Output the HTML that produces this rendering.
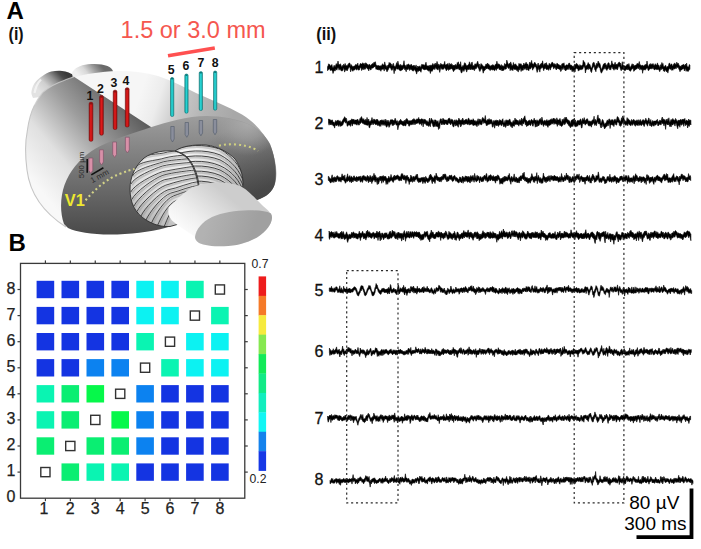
<!DOCTYPE html>
<html><head><meta charset="utf-8"><style>
html,body{margin:0;padding:0;background:#fff;}
body{width:701px;height:549px;overflow:hidden;}
svg{display:block;}
text{font-family:"Liberation Sans",sans-serif;}
.tl{font-size:16px;fill:#111;stroke:#111;stroke-width:0.3px;}
.tk{font-size:16px;fill:#222;stroke:#222;stroke-width:0.25px;}
.cbt{font-size:12.2px;fill:#222;}
.sb{font-size:19px;fill:#000;}
.lbl{font-size:24px;font-weight:bold;fill:#000;}
.lbl2{font-size:18px;font-weight:bold;fill:#111;}
</style></head><body>
<svg width="701" height="549" viewBox="0 0 701 549">
<rect width="701" height="549" fill="#fff"/>
<defs>
<linearGradient id="gOlfL" gradientUnits="userSpaceOnUse" x1="40" y1="92" x2="62" y2="70">
 <stop offset="0" stop-color="#e2e2e2"/><stop offset="0.3" stop-color="#d0d0d0"/><stop offset="0.6" stop-color="#929292"/><stop offset="0.85" stop-color="#4a4a4a"/><stop offset="1" stop-color="#3a3a3a"/>
</linearGradient>
<linearGradient id="gOlfR" gradientUnits="userSpaceOnUse" x1="80" y1="77" x2="98" y2="62">
 <stop offset="0" stop-color="#f0f0f0"/><stop offset="0.35" stop-color="#d8d8d8"/><stop offset="0.7" stop-color="#9a9a9a"/><stop offset="1" stop-color="#6a6a6a"/>
</linearGradient>
<linearGradient id="gRight" gradientUnits="userSpaceOnUse" x1="145" y1="80" x2="235" y2="110">
 <stop offset="0" stop-color="#f6f6f6"/><stop offset="0.2" stop-color="#ececec"/><stop offset="0.45" stop-color="#c6c6c6"/><stop offset="0.7" stop-color="#b4b4b4"/><stop offset="1" stop-color="#a8a8a8"/>
</linearGradient>
<linearGradient id="gLeft" gradientUnits="userSpaceOnUse" x1="40" y1="190" x2="135" y2="110">
 <stop offset="0" stop-color="#f8f8f8"/><stop offset="0.3" stop-color="#e0e0e0"/><stop offset="0.62" stop-color="#9c9c9c"/><stop offset="1" stop-color="#5c5c5c"/>
</linearGradient>
<linearGradient id="gRim" gradientUnits="userSpaceOnUse" x1="26" y1="150" x2="44" y2="150">
 <stop offset="0" stop-color="#d0d0d0"/><stop offset="1" stop-color="#d0d0d0" stop-opacity="0"/>
</linearGradient>
<linearGradient id="gBand" gradientUnits="userSpaceOnUse" x1="150" y1="118" x2="150" y2="234">
 <stop offset="0" stop-color="#9c9c9c"/><stop offset="0.3" stop-color="#828282"/><stop offset="1" stop-color="#4a4a4a"/>
</linearGradient>
<linearGradient id="gBandR" gradientUnits="userSpaceOnUse" x1="232" y1="128" x2="262" y2="190">
 <stop offset="0" stop-color="#3e3e3e" stop-opacity="0"/><stop offset="0.5" stop-color="#3e3e3e" stop-opacity="0.35"/><stop offset="1" stop-color="#3a3a3a" stop-opacity="0.7"/>
</linearGradient>
<radialGradient id="gSoft" gradientUnits="userSpaceOnUse" cx="248" cy="122" r="34">
 <stop offset="0" stop-color="#acacac" stop-opacity="0.95"/><stop offset="0.5" stop-color="#a4a4a4" stop-opacity="0.6"/><stop offset="1" stop-color="#9c9c9c" stop-opacity="0"/>
</radialGradient>
<linearGradient id="gCer" gradientUnits="userSpaceOnUse" x1="180" y1="146" x2="140" y2="225">
 <stop offset="0" stop-color="#f6f6f6"/><stop offset="0.6" stop-color="#dedede"/><stop offset="1" stop-color="#b0b0b0"/>
</linearGradient>
<linearGradient id="gCerR" gradientUnits="userSpaceOnUse" x1="195" y1="144" x2="240" y2="190">
 <stop offset="0" stop-color="#f4f4f4"/><stop offset="0.6" stop-color="#dadada"/><stop offset="1" stop-color="#bdbdbd"/>
</linearGradient>
<linearGradient id="gStem" gradientUnits="userSpaceOnUse" x1="178" y1="226" x2="214" y2="184">
 <stop offset="0" stop-color="#fbfbfb"/><stop offset="0.35" stop-color="#eeeeee"/><stop offset="1" stop-color="#cdcdcd"/>
</linearGradient>
<linearGradient id="gCap" gradientUnits="userSpaceOnUse" x1="205" y1="228" x2="250" y2="242">
 <stop offset="0" stop-color="#b2b2b2"/><stop offset="1" stop-color="#a0a0a0"/>
</linearGradient>
<clipPath id="cL"><path d="M175,151 C165,150 152,152 144,158 C135,166 130,177 130,189 C130,203 135,213 146,220 C154,225 162,227 170,226.5 L186,222 L199,186 C198,175 194,165 188,158 C184,154 180,152 175,151 Z"/></clipPath>
<clipPath id="cR"><path d="M175,151 C182,146 194,144.5 206,145 C218,146.5 228,152 235,159 C240,166 243,175 243,183 C243,190 240,193 236,193 L199,193 C198,180 195,168 188,159 C184,155 180,152.5 175,151 Z"/></clipPath>
</defs>
<path d="M33,98 C31.5,95 31,93 31.6,90.8 C32.5,87 33.5,84.5 35.5,82.1 C37.5,79.5 40,77.5 42.5,76 C45.5,74 48,72.5 51.2,71.6 C54,70.9 57,70.6 60,70.7 C63,70.8 65,71.3 67,72 C69.5,72.8 71,73.5 72.2,74.2 C73.5,75 74.3,76 74.8,77 L60,85 L40,97 Z" fill="url(#gOlfL)"/><path d="M34.5,93 C35.5,87.5 37.5,83 41,79.5" fill="none" stroke="#fafafa" stroke-width="2.2" opacity="0.7"/><path d="M72,73 C74,68 80,65.2 88,64.2 C96,63.5 103,64 107.5,66 C111,67.5 113,69.5 113,72 L92,80 L73,79 Z" fill="url(#gOlfR)"/><path d="M74,77.5 C85,74 100,71.8 118,71 C132,70.8 145,72.5 158,76 C172,80.5 184,87 196,93 C212,100 228,106.5 242,114.5 C256,123 265,134 271,148 C276,160 278,174 275,184 C272,192 265,197 256,200 L246,202 L150,210 L120,140 Z" fill="url(#gRight)"/><path d="M74,76.8 L151,127 L150,140 L92,205 L66,227 C44,213 30,194 27,170 C25,155 25.5,140 27.3,131 C28.5,122 31,112 34.6,105 C37,100 39.5,96.5 42.5,92.6 C48,87.5 55,83.5 64,80.4 C68,79 71,77.8 74,76.8 Z" fill="url(#gLeft)"/><path d="M34.6,105 C37,100 39.5,96.5 42.5,92.6 C48,87.5 55,83.5 64,80.4 C68,79 71,77.8 74,76.8" fill="none" stroke="#d0d0d0" stroke-width="1.1" opacity="0.8"/><path d="M34.6,105 C31,112 28.5,122 27.3,131 C25.5,140 25,155 27,170 C30,194 44,213 66,227" fill="none" stroke="#c6c6c6" stroke-width="1.1"/><path d="M64,224 C60,213 60,198 64.5,185 C70,170.5 79,160 91,151.5 C103,143.5 120,137.5 138,131.5 C155,126 172,120 192,117 C212,114.5 232,117 248,124 C259,129 266,136 270,144 C275,156 277,172 275,183 C273,192 266,197 257,200 L246,202 L165,228 C150,232 130,234.5 110,234.5 C92,234.5 76,232 68,228 Z" fill="url(#gBand)"/><path d="M192,117 C212,114.5 232,117 248,124 C259,129 266,136 270,144 C275,156 277,172 275,183 C273,192 266,197 257,200 L246,202 L200,200 Z" fill="url(#gBandR)"/><path d="M180,119 C200,115.5 226,115 248,124 C259,129 266,136 270,144 C275,156 276,166 276,172 L230,160 L190,140 Z" fill="url(#gSoft)"/><path d="M175,151 C165,150 152,152 144,158 C135,166 130,177 130,189 C130,203 135,213 146,220 C154,225 162,227 170,226.5 L186,222 L199,186 C198,175 194,165 188,158 C184,154 180,152 175,151 Z" fill="url(#gCer)"/><path d="M175,151 C182,146 194,144.5 206,145 C218,146.5 228,152 235,159 C240,166 243,175 243,183 C243,190 240,193 236,193 L199,193 C198,180 195,168 188,159 C184,155 180,152.5 175,151 Z" fill="url(#gCerR)"/><g clip-path="url(#cL)" fill="none" stroke="#9a9a9a" stroke-width="2.0" opacity="0.45"><path d="M140.0,160.0 C143.0,153.0 158.4,155.1 167.4,152.1 C177.4,149.7 189.0,151.0 201.0,150.0" transform="translate(1.2,1.4)"/><path d="M135.5,168.0 C138.5,161.0 156.0,160.9 165.0,157.9 C175.0,155.3 189.0,154.9 201.0,153.9" transform="translate(1.2,1.4)"/><path d="M132.5,176.0 C135.5,169.0 154.3,164.8 163.3,161.8 C173.3,159.5 189.0,158.8 201.0,157.8" transform="translate(1.2,1.4)"/><path d="M131.0,184.0 C134.0,177.0 153.5,169.0 162.5,166.0 C172.5,163.5 189.0,162.7 201.0,161.7" transform="translate(1.2,1.4)"/><path d="M130.8,192.0 C133.8,185.0 153.4,174.7 162.4,171.7 C172.4,169.8 189.0,166.6 201.0,165.6" transform="translate(1.2,1.4)"/><path d="M131.8,199.5 C134.8,192.5 153.9,178.3 162.9,175.3 C172.9,172.4 189.0,170.5 201.0,169.5" transform="translate(1.2,1.4)"/><path d="M134.0,206.0 C137.0,199.0 155.2,182.8 164.2,179.8 C174.2,177.9 189.0,174.4 201.0,173.4" transform="translate(1.2,1.4)"/><path d="M137.0,211.5 C140.0,204.5 156.8,188.2 165.8,185.2 C175.8,181.8 189.0,178.3 201.0,177.3" transform="translate(1.2,1.4)"/><path d="M141.0,216.0 C144.0,209.0 159.0,192.8 168.0,189.8 C178.0,188.2 189.0,182.2 201.0,181.2" transform="translate(1.2,1.4)"/><path d="M146.0,220.0 C149.0,213.0 161.8,196.1 170.8,193.1 C180.8,190.8 189.0,186.1 201.0,185.1" transform="translate(1.2,1.4)"/><path d="M151.5,223.0 C154.5,216.0 164.8,198.8 173.8,195.8 C183.8,192.3 189.0,190.0 201.0,189.0" transform="translate(1.2,1.4)"/><path d="M157.5,225.5 C160.5,218.5 168.1,203.1 177.1,200.1 C187.1,196.7 189.0,193.9 201.0,192.9" transform="translate(1.2,1.4)"/><path d="M164.0,227.0 C167.0,220.0 171.7,205.8 180.7,202.8 C190.7,199.8 189.0,197.8 201.0,196.8" transform="translate(1.2,1.4)"/></g><g clip-path="url(#cL)" fill="none" stroke="#2e2e2e" stroke-width="0.85"><path d="M140.0,160.0 C143.0,153.0 158.4,155.1 167.4,152.1 C177.4,149.7 189.0,151.0 201.0,150.0"/><path d="M135.5,168.0 C138.5,161.0 156.0,160.9 165.0,157.9 C175.0,155.3 189.0,154.9 201.0,153.9"/><path d="M132.5,176.0 C135.5,169.0 154.3,164.8 163.3,161.8 C173.3,159.5 189.0,158.8 201.0,157.8"/><path d="M131.0,184.0 C134.0,177.0 153.5,169.0 162.5,166.0 C172.5,163.5 189.0,162.7 201.0,161.7"/><path d="M130.8,192.0 C133.8,185.0 153.4,174.7 162.4,171.7 C172.4,169.8 189.0,166.6 201.0,165.6"/><path d="M131.8,199.5 C134.8,192.5 153.9,178.3 162.9,175.3 C172.9,172.4 189.0,170.5 201.0,169.5"/><path d="M134.0,206.0 C137.0,199.0 155.2,182.8 164.2,179.8 C174.2,177.9 189.0,174.4 201.0,173.4"/><path d="M137.0,211.5 C140.0,204.5 156.8,188.2 165.8,185.2 C175.8,181.8 189.0,178.3 201.0,177.3"/><path d="M141.0,216.0 C144.0,209.0 159.0,192.8 168.0,189.8 C178.0,188.2 189.0,182.2 201.0,181.2"/><path d="M146.0,220.0 C149.0,213.0 161.8,196.1 170.8,193.1 C180.8,190.8 189.0,186.1 201.0,185.1"/><path d="M151.5,223.0 C154.5,216.0 164.8,198.8 173.8,195.8 C183.8,192.3 189.0,190.0 201.0,189.0"/><path d="M157.5,225.5 C160.5,218.5 168.1,203.1 177.1,200.1 C187.1,196.7 189.0,193.9 201.0,192.9"/><path d="M164.0,227.0 C167.0,220.0 171.7,205.8 180.7,202.8 C190.7,199.8 189.0,197.8 201.0,196.8"/></g><g clip-path="url(#cR)" fill="none" stroke="#9a9a9a" stroke-width="2.0" opacity="0.45"><path d="M172,151.0 C185,144.1 205,144.0 220,149.1 C232,156.0 240,166.0 244,178.0" transform="translate(-0.8,1.6)"/><path d="M172,156.0 C185,149.9 205,149.0 220,154.9 C232,161.0 240,171.0 244,183.0" transform="translate(-0.8,1.6)"/><path d="M172,161.0 C185,154.9 205,154.0 220,159.9 C232,166.0 240,176.0 244,188.0" transform="translate(-0.8,1.6)"/><path d="M172,166.0 C185,160.7 205,159.0 220,165.7 C232,171.0 240,181.0 244,193.0" transform="translate(-0.8,1.6)"/><path d="M172,171.0 C185,165.0 205,164.0 220,170.0 C232,176.0 240,186.0 244,198.0" transform="translate(-0.8,1.6)"/><path d="M172,176.0 C185,170.3 205,169.0 220,175.3 C232,181.0 240,191.0 244,203.0" transform="translate(-0.8,1.6)"/><path d="M172,181.0 C185,175.0 205,174.0 220,180.0 C232,186.0 240,196.0 244,208.0" transform="translate(-0.8,1.6)"/><path d="M172,186.0 C185,180.3 205,179.0 220,185.3 C232,191.0 240,201.0 244,213.0" transform="translate(-0.8,1.6)"/><path d="M172,191.0 C185,184.9 205,184.0 220,189.9 C232,196.0 240,206.0 244,218.0" transform="translate(-0.8,1.6)"/><path d="M172,196.0 C185,189.6 205,189.0 220,194.6 C232,201.0 240,211.0 244,223.0" transform="translate(-0.8,1.6)"/></g><g clip-path="url(#cR)" fill="none" stroke="#2e2e2e" stroke-width="0.9"><path d="M172,151.0 C185,144.1 205,144.0 220,149.1 C232,156.0 240,166.0 244,178.0"/><path d="M172,156.0 C185,149.9 205,149.0 220,154.9 C232,161.0 240,171.0 244,183.0"/><path d="M172,161.0 C185,154.9 205,154.0 220,159.9 C232,166.0 240,176.0 244,188.0"/><path d="M172,166.0 C185,160.7 205,159.0 220,165.7 C232,171.0 240,181.0 244,193.0"/><path d="M172,171.0 C185,165.0 205,164.0 220,170.0 C232,176.0 240,186.0 244,198.0"/><path d="M172,176.0 C185,170.3 205,169.0 220,175.3 C232,181.0 240,191.0 244,203.0"/><path d="M172,181.0 C185,175.0 205,174.0 220,180.0 C232,186.0 240,196.0 244,208.0"/><path d="M172,186.0 C185,180.3 205,179.0 220,185.3 C232,191.0 240,201.0 244,213.0"/><path d="M172,191.0 C185,184.9 205,184.0 220,189.9 C232,196.0 240,206.0 244,218.0"/><path d="M172,196.0 C185,189.6 205,189.0 220,194.6 C232,201.0 240,211.0 244,223.0"/></g><path d="M175,151 C165,150 152,152 144,158 C135,166 130,177 130,189 C130,203 135,213 146,220 C154,225 162,227 170,226.5 L186,222 L199,186 C198,175 194,165 188,158 C184,154 180,152 175,151 Z" fill="none" stroke="#2e2e2e" stroke-width="0.9"/><path d="M175,151 C182,146 194,144.5 206,145 C218,146.5 228,152 235,159 C240,166 243,175 243,183 C243,190 240,193 236,193 L199,193 C198,180 195,168 188,159 C184,155 180,152.5 175,151 Z" fill="none" stroke="#2e2e2e" stroke-width="0.9"/><path d="M169,207 C174,202 181,195.5 188,190 C196,185 206,183 216,182.6 C226,182.3 234,183.5 240,186 C247,189 255,198 262,205 C267,209.5 272,213 272,218 C271.5,224 267,231 257,237.5 C247,243 236,246 224,246.3 C214,246.5 204,245.5 199,243 C196,241 195,238 194,236 C188,232 178,226 172,220.5 C168.5,216.5 167.5,211 169,207 Z" fill="url(#gStem)"/><path d="M195,237 C196,229 202,222 212,217 C222,212.5 236,210.5 248,210.3 C258,210.2 266,211 271,213.5 C271.8,215 272,216.5 272,218 C271.5,224 267,231 257,237.5 C247,243 236,246 224,246.3 C214,246.5 204,245.5 199,243 C196,241 195,239 195,237 Z" fill="url(#gCap)"/><!-- yellow dotted V1 line -->
<path d="M85.6,200.2 C95,189 108,178 120,173.7 C126,171.5 130,170 134.5,169" fill="none" stroke="#d4d488" stroke-width="2.1" stroke-dasharray="2,2.8"/>
<path d="M219,145.6 C228,143.6 238,144 246,146 C251,147.2 255,148.6 258,151" fill="none" stroke="#cfd080" stroke-width="2.1" stroke-dasharray="2,3"/>
<text x="64.8" y="205.6" font-family="Liberation Sans" font-weight="bold" font-size="16.3" fill="#eee830">V1</text>
<!-- electrodes red -->
<defs><linearGradient id="gRed" x1="0" y1="0" x2="1" y2="0"><stop offset="0" stop-color="#9c0c0c"/><stop offset="0.45" stop-color="#e21c1c"/><stop offset="1" stop-color="#a80e0e"/></linearGradient><linearGradient id="gCy" x1="0" y1="0" x2="1" y2="0"><stop offset="0" stop-color="#139c9c"/><stop offset="0.45" stop-color="#2ad8d8"/><stop offset="1" stop-color="#16a8a8"/></linearGradient></defs><g stroke="#6a0808" stroke-width="0.5"><rect x="89.1" y="102.3" width="3.8" height="39.0" rx="1.6" fill="url(#gRed)"/><rect x="89.5" y="102.6" width="3.0" height="2.0" rx="1.0" fill="#8a1212" stroke="none"/><rect x="99.6" y="95.4" width="3.8" height="39.8" rx="1.6" fill="url(#gRed)"/><rect x="100.0" y="95.7" width="3.0" height="2.0" rx="1.0" fill="#8a1212" stroke="none"/><rect x="113.2" y="90.2" width="3.8" height="39.3" rx="1.6" fill="url(#gRed)"/><rect x="113.60000000000001" y="90.5" width="3.0" height="2.0" rx="1.0" fill="#8a1212" stroke="none"/><rect x="125.3" y="87.7" width="3.8" height="39.3" rx="1.6" fill="url(#gRed)"/><rect x="125.7" y="88.0" width="3.0" height="2.0" rx="1.0" fill="#8a1212" stroke="none"/></g>
<!-- electrode tips pink -->
<g stroke="#80566a" stroke-width="0.7" fill="#d890a8">
 <path d="M88.8,158 h4 v12.3 l-2,3.2 l-2,-3.2 Z"/>
 <path d="M99.6,149.8 h3.8 v12.2 l-1.9,3 l-1.9,-3 Z"/>
 <path d="M112.7,142 h3.8 v12.4 l-1.9,3 l-1.9,-3 Z"/>
 <path d="M125.4,137.2 h3.9 v12.8 l-1.95,3 l-1.95,-3 Z"/>
</g>
<!-- electrodes cyan -->
<g stroke="#0a6a6a" stroke-width="0.55"><rect x="170.5" y="77.5" width="3.3" height="39.0" rx="1.5" fill="url(#gCy)"/><rect x="170.9" y="77.8" width="2.5" height="1.6" rx="0.8" fill="#0c7878" stroke="none"/><rect x="184.8" y="74" width="3.3" height="39.2" rx="1.5" fill="url(#gCy)"/><rect x="185.20000000000002" y="74.3" width="2.5" height="1.6" rx="0.8" fill="#0c7878" stroke="none"/><rect x="199.2" y="71.6" width="3.3" height="38.9" rx="1.5" fill="url(#gCy)"/><rect x="199.6" y="71.89999999999999" width="2.5" height="1.6" rx="0.8" fill="#0c7878" stroke="none"/><rect x="213.5" y="71" width="3.3" height="39.2" rx="1.5" fill="url(#gCy)"/><rect x="213.9" y="71.3" width="2.5" height="1.6" rx="0.8" fill="#0c7878" stroke="none"/></g>
<g stroke="#505a6a" stroke-width="0.6" fill="#8a8e9c">
 <path d="M170.8,126.5 h3.4 v12.5 l-1.7,3 l-1.7,-3 Z"/>
 <path d="M185.1,122.5 h3.4 v12 l-1.7,2.8 l-1.7,-2.8 Z"/>
 <path d="M199.2,120.5 h3.4 v12.5 l-1.7,2.8 l-1.7,-2.8 Z"/>
 <path d="M213.3,119.5 h3.4 v12.5 l-1.7,2.8 l-1.7,-2.8 Z"/>
</g>
<!-- electrode numbers -->
<g font-family="Liberation Sans" font-weight="bold" font-size="12.3" fill="#111" text-anchor="middle">
 <text x="89.8" y="100">1</text><text x="100.5" y="92.5">2</text><text x="114" y="87.2">3</text><text x="125.8" y="84.7">4</text>
 <text x="171.2" y="73.9">5</text><text x="185.8" y="70.1">6</text><text x="200.9" y="67.4">7</text><text x="215.1" y="66.9">8</text>
</g>
<!-- scale bar -->
<path d="M87.2,159 V172.7" stroke="#111" stroke-width="1.6"/>
<path d="M91.3,174.9 L103.4,167.7" stroke="#111" stroke-width="1.6"/>
<text transform="translate(84.4,178.2) rotate(-90)" font-family="Liberation Sans" font-size="7.9" fill="#2a2a2a">500 µm</text>
<text transform="translate(92.2,183.2) rotate(-29)" font-family="Liberation Sans" font-size="7.9" fill="#2a2a2a">1 mm</text>
<!-- red bar + text -->
<path d="M168,55.8 L214.8,48" stroke="#ff5050" stroke-width="3.7"/>
<text x="120.6" y="37.6" font-family="Liberation Sans" font-size="23.5" fill="#f5574f">1.5 or 3.0 mm</text>

<text x="6.5" y="19" class="lbl">A</text>
<text x="8.6" y="40" class="lbl2" textLength="15" lengthAdjust="spacingAndGlyphs">(i)</text>
<text x="8.5" y="251" class="lbl">B</text>
<rect x="36.6" y="280.8" width="17.6" height="17.4" fill="#1434e2"/><rect x="61.5" y="280.8" width="17.6" height="17.4" fill="#1434e2"/><rect x="86.5" y="280.8" width="17.6" height="17.4" fill="#1434e2"/><rect x="111.4" y="280.8" width="17.6" height="17.4" fill="#1434e2"/><rect x="136.3" y="280.8" width="17.6" height="17.4" fill="#0cf2f2"/><rect x="161.2" y="280.8" width="17.6" height="17.4" fill="#0cf2f2"/><rect x="186.1" y="280.8" width="17.6" height="17.4" fill="#0af4b2"/><rect x="215.3" y="284.9" width="9.2" height="9.2" fill="none" stroke="#333" stroke-width="1.4"/><rect x="36.6" y="306.9" width="17.6" height="17.4" fill="#1434e2"/><rect x="61.5" y="306.9" width="17.6" height="17.4" fill="#1434e2"/><rect x="86.5" y="306.9" width="17.6" height="17.4" fill="#1434e2"/><rect x="111.4" y="306.9" width="17.6" height="17.4" fill="#1434e2"/><rect x="136.3" y="306.9" width="17.6" height="17.4" fill="#0cf2f2"/><rect x="161.2" y="306.9" width="17.6" height="17.4" fill="#0cf2f2"/><rect x="190.3" y="311.0" width="9.2" height="9.2" fill="none" stroke="#333" stroke-width="1.4"/><rect x="211.1" y="306.9" width="17.6" height="17.4" fill="#0af4b2"/><rect x="36.6" y="333.0" width="17.6" height="17.4" fill="#1434e2"/><rect x="61.5" y="333.0" width="17.6" height="17.4" fill="#1434e2"/><rect x="86.5" y="333.0" width="17.6" height="17.4" fill="#1434e2"/><rect x="111.4" y="333.0" width="17.6" height="17.4" fill="#1434e2"/><rect x="136.3" y="333.0" width="17.6" height="17.4" fill="#0af4b2"/><rect x="165.4" y="337.1" width="9.2" height="9.2" fill="none" stroke="#333" stroke-width="1.4"/><rect x="186.1" y="333.0" width="17.6" height="17.4" fill="#0cf2f2"/><rect x="211.1" y="333.0" width="17.6" height="17.4" fill="#0cf2f2"/><rect x="36.6" y="359.1" width="17.6" height="17.4" fill="#1434e2"/><rect x="61.5" y="359.1" width="17.6" height="17.4" fill="#1434e2"/><rect x="86.5" y="359.1" width="17.6" height="17.4" fill="#0c82f0"/><rect x="111.4" y="359.1" width="17.6" height="17.4" fill="#0c82f0"/><rect x="140.5" y="363.1" width="9.2" height="9.2" fill="none" stroke="#333" stroke-width="1.4"/><rect x="161.2" y="359.1" width="17.6" height="17.4" fill="#0af4b2"/><rect x="186.1" y="359.1" width="17.6" height="17.4" fill="#0cf2f2"/><rect x="211.1" y="359.1" width="17.6" height="17.4" fill="#0cf2f2"/><rect x="36.6" y="385.1" width="17.6" height="17.4" fill="#0af4b2"/><rect x="61.5" y="385.1" width="17.6" height="17.4" fill="#0aee72"/><rect x="86.5" y="385.1" width="17.6" height="17.4" fill="#06f84a"/><rect x="115.6" y="389.2" width="9.2" height="9.2" fill="none" stroke="#333" stroke-width="1.4"/><rect x="136.3" y="385.1" width="17.6" height="17.4" fill="#0c82f0"/><rect x="161.2" y="385.1" width="17.6" height="17.4" fill="#1434e2"/><rect x="186.1" y="385.1" width="17.6" height="17.4" fill="#1434e2"/><rect x="211.1" y="385.1" width="17.6" height="17.4" fill="#1434e2"/><rect x="36.6" y="411.2" width="17.6" height="17.4" fill="#0af4b2"/><rect x="61.5" y="411.2" width="17.6" height="17.4" fill="#0aee72"/><rect x="90.7" y="415.3" width="9.2" height="9.2" fill="none" stroke="#333" stroke-width="1.4"/><rect x="111.4" y="411.2" width="17.6" height="17.4" fill="#06f84a"/><rect x="136.3" y="411.2" width="17.6" height="17.4" fill="#0c82f0"/><rect x="161.2" y="411.2" width="17.6" height="17.4" fill="#1434e2"/><rect x="186.1" y="411.2" width="17.6" height="17.4" fill="#1434e2"/><rect x="211.1" y="411.2" width="17.6" height="17.4" fill="#1434e2"/><rect x="36.6" y="437.3" width="17.6" height="17.4" fill="#0aee72"/><rect x="65.7" y="441.4" width="9.2" height="9.2" fill="none" stroke="#333" stroke-width="1.4"/><rect x="86.5" y="437.3" width="17.6" height="17.4" fill="#0aee72"/><rect x="111.4" y="437.3" width="17.6" height="17.4" fill="#0aee72"/><rect x="136.3" y="437.3" width="17.6" height="17.4" fill="#0c82f0"/><rect x="161.2" y="437.3" width="17.6" height="17.4" fill="#1434e2"/><rect x="186.1" y="437.3" width="17.6" height="17.4" fill="#1434e2"/><rect x="211.1" y="437.3" width="17.6" height="17.4" fill="#1434e2"/><rect x="40.8" y="467.5" width="9.2" height="9.2" fill="none" stroke="#333" stroke-width="1.4"/><rect x="61.5" y="463.4" width="17.6" height="17.4" fill="#0aee72"/><rect x="86.5" y="463.4" width="17.6" height="17.4" fill="#0af4b2"/><rect x="111.4" y="463.4" width="17.6" height="17.4" fill="#0af4b2"/><rect x="136.3" y="463.4" width="17.6" height="17.4" fill="#1434e2"/><rect x="161.2" y="463.4" width="17.6" height="17.4" fill="#1434e2"/><rect x="186.1" y="463.4" width="17.6" height="17.4" fill="#1434e2"/><rect x="211.1" y="463.4" width="17.6" height="17.4" fill="#1434e2"/><rect x="20.5" y="263.4" width="224.28000000000003" height="234.8" fill="none" stroke="#3a3a3a" stroke-width="1.3"/><line x1="20.5" y1="472.1" x2="17.5" y2="472.1" stroke="#3a3a3a" stroke-width="1.2"/><line x1="244.78000000000003" y1="472.1" x2="247.78000000000003" y2="472.1" stroke="#3a3a3a" stroke-width="1.2"/><line x1="45.42" y1="498.2" x2="45.42" y2="501.2" stroke="#3a3a3a" stroke-width="1.2"/><line x1="45.42" y1="263.4" x2="45.42" y2="260.4" stroke="#3a3a3a" stroke-width="1.2"/><line x1="20.5" y1="446.0" x2="17.5" y2="446.0" stroke="#3a3a3a" stroke-width="1.2"/><line x1="244.78000000000003" y1="446.0" x2="247.78000000000003" y2="446.0" stroke="#3a3a3a" stroke-width="1.2"/><line x1="70.34" y1="498.2" x2="70.34" y2="501.2" stroke="#3a3a3a" stroke-width="1.2"/><line x1="70.34" y1="263.4" x2="70.34" y2="260.4" stroke="#3a3a3a" stroke-width="1.2"/><line x1="20.5" y1="419.9" x2="17.5" y2="419.9" stroke="#3a3a3a" stroke-width="1.2"/><line x1="244.78000000000003" y1="419.9" x2="247.78000000000003" y2="419.9" stroke="#3a3a3a" stroke-width="1.2"/><line x1="95.26" y1="498.2" x2="95.26" y2="501.2" stroke="#3a3a3a" stroke-width="1.2"/><line x1="95.26" y1="263.4" x2="95.26" y2="260.4" stroke="#3a3a3a" stroke-width="1.2"/><line x1="20.5" y1="393.8" x2="17.5" y2="393.8" stroke="#3a3a3a" stroke-width="1.2"/><line x1="244.78000000000003" y1="393.8" x2="247.78000000000003" y2="393.8" stroke="#3a3a3a" stroke-width="1.2"/><line x1="120.18" y1="498.2" x2="120.18" y2="501.2" stroke="#3a3a3a" stroke-width="1.2"/><line x1="120.18" y1="263.4" x2="120.18" y2="260.4" stroke="#3a3a3a" stroke-width="1.2"/><line x1="20.5" y1="367.8" x2="17.5" y2="367.8" stroke="#3a3a3a" stroke-width="1.2"/><line x1="244.78000000000003" y1="367.8" x2="247.78000000000003" y2="367.8" stroke="#3a3a3a" stroke-width="1.2"/><line x1="145.10000000000002" y1="498.2" x2="145.10000000000002" y2="501.2" stroke="#3a3a3a" stroke-width="1.2"/><line x1="145.10000000000002" y1="263.4" x2="145.10000000000002" y2="260.4" stroke="#3a3a3a" stroke-width="1.2"/><line x1="20.5" y1="341.7" x2="17.5" y2="341.7" stroke="#3a3a3a" stroke-width="1.2"/><line x1="244.78000000000003" y1="341.7" x2="247.78000000000003" y2="341.7" stroke="#3a3a3a" stroke-width="1.2"/><line x1="170.02" y1="498.2" x2="170.02" y2="501.2" stroke="#3a3a3a" stroke-width="1.2"/><line x1="170.02" y1="263.4" x2="170.02" y2="260.4" stroke="#3a3a3a" stroke-width="1.2"/><line x1="20.5" y1="315.6" x2="17.5" y2="315.6" stroke="#3a3a3a" stroke-width="1.2"/><line x1="244.78000000000003" y1="315.6" x2="247.78000000000003" y2="315.6" stroke="#3a3a3a" stroke-width="1.2"/><line x1="194.94" y1="498.2" x2="194.94" y2="501.2" stroke="#3a3a3a" stroke-width="1.2"/><line x1="194.94" y1="263.4" x2="194.94" y2="260.4" stroke="#3a3a3a" stroke-width="1.2"/><line x1="20.5" y1="289.5" x2="17.5" y2="289.5" stroke="#3a3a3a" stroke-width="1.2"/><line x1="244.78000000000003" y1="289.5" x2="247.78000000000003" y2="289.5" stroke="#3a3a3a" stroke-width="1.2"/><line x1="219.86" y1="498.2" x2="219.86" y2="501.2" stroke="#3a3a3a" stroke-width="1.2"/><line x1="219.86" y1="263.4" x2="219.86" y2="260.4" stroke="#3a3a3a" stroke-width="1.2"/><text x="15.3" y="502.2" text-anchor="end" class="tk">0</text><text x="15.3" y="476.1" text-anchor="end" class="tk">1</text><text x="15.3" y="450.0" text-anchor="end" class="tk">2</text><text x="15.3" y="423.9" text-anchor="end" class="tk">3</text><text x="15.3" y="397.8" text-anchor="end" class="tk">4</text><text x="15.3" y="371.8" text-anchor="end" class="tk">5</text><text x="15.3" y="345.7" text-anchor="end" class="tk">6</text><text x="15.3" y="319.6" text-anchor="end" class="tk">7</text><text x="15.3" y="293.5" text-anchor="end" class="tk">8</text><text x="43.9" y="514.2" text-anchor="middle" class="tk">1</text><text x="70.3" y="514.2" text-anchor="middle" class="tk">2</text><text x="95.3" y="514.2" text-anchor="middle" class="tk">3</text><text x="120.2" y="514.2" text-anchor="middle" class="tk">4</text><text x="145.1" y="514.2" text-anchor="middle" class="tk">5</text><text x="170.0" y="514.2" text-anchor="middle" class="tk">6</text><text x="194.9" y="514.2" text-anchor="middle" class="tk">7</text><text x="219.9" y="514.2" text-anchor="middle" class="tk">8</text><rect x="258.6" y="276.40" width="7.5" height="19.72" fill="#ee1c1c"/><rect x="258.6" y="295.82" width="7.5" height="19.72" fill="#f57a28"/><rect x="258.6" y="315.24" width="7.5" height="19.72" fill="#f6ea3e"/><rect x="258.6" y="334.66" width="7.5" height="19.72" fill="#86e850"/><rect x="258.6" y="354.08" width="7.5" height="19.72" fill="#12ea58"/><rect x="258.6" y="373.50" width="7.5" height="19.72" fill="#12ea86"/><rect x="258.6" y="392.92" width="7.5" height="19.72" fill="#12eebe"/><rect x="258.6" y="412.34" width="7.5" height="19.72" fill="#12f6f4"/><rect x="258.6" y="431.76" width="7.5" height="19.72" fill="#1482ec"/><rect x="258.6" y="451.18" width="7.5" height="19.72" fill="#1638e6"/><text x="260" y="268.2" text-anchor="middle" class="cbt">0.7</text><text x="258" y="482.8" text-anchor="middle" class="cbt">0.2</text>
<path d="M327.5,66.8 328.1,65.7 328.6,63.8 329.2,64.4 329.7,64.4 330.3,66.1 330.8,65.9 331.4,65.0 331.9,64.5 332.5,67.6 333.0,67.4 333.6,66.9 334.1,65.2 334.7,66.2 335.2,67.0 335.8,64.9 336.3,63.6 336.9,65.1 337.4,64.3 338.0,61.0 338.5,63.6 339.1,65.2 339.6,64.5 340.2,63.8 340.7,64.2 341.3,66.3 341.8,67.0 342.4,65.4 342.9,66.4 343.5,64.4 344.0,64.3 344.6,66.2 345.1,63.4 345.7,65.5 346.2,65.8 346.8,65.5 347.3,65.7 347.9,64.4 348.4,64.2 349.0,63.1 349.5,63.1 350.1,63.6 350.6,66.7 351.2,64.6 351.7,65.4 352.3,65.9 352.8,66.9 353.4,66.3 353.9,66.3 354.5,66.1 355.0,65.7 355.6,64.4 356.1,65.3 356.7,64.6 357.2,65.0 357.8,63.1 358.3,66.0 358.9,65.9 359.4,65.5 360.0,64.3 360.5,63.3 361.1,64.0 361.6,64.1 362.2,64.1 362.7,62.7 363.3,64.0 363.8,63.5 364.4,63.4 364.9,65.2 365.5,63.0 366.0,62.7 366.6,64.0 367.1,63.9 367.7,64.8 368.2,65.5 368.8,64.5 369.3,64.4 369.9,64.6 370.4,65.9 371.0,65.0 371.5,64.4 372.1,64.0 372.6,63.5 373.2,64.2 373.7,62.5 374.3,62.2 374.8,62.9 375.4,61.7 375.9,64.5 376.5,65.3 377.0,65.4 377.6,65.8 378.1,65.3 378.7,65.7 379.2,65.9 379.8,65.9 380.3,65.6 380.9,66.3 381.4,66.1 382.0,64.8 382.5,63.7 383.1,64.9 383.6,65.0 384.2,64.8 384.7,61.9 385.3,64.4 385.8,65.5 386.4,65.8 386.9,67.4 387.5,65.6 388.0,65.1 388.6,65.0 389.1,62.4 389.7,63.6 390.2,62.8 390.8,63.8 391.3,64.1 391.9,65.7 392.4,66.0 393.0,63.5 393.5,63.6 394.1,66.9 394.6,66.1 395.2,66.5 395.7,66.1 396.3,63.9 396.8,62.6 397.4,64.7 397.9,61.1 398.5,64.2 399.0,64.4 399.6,65.4 400.1,65.4 400.7,64.3 401.2,65.4 401.8,65.5 402.3,66.0 402.9,65.0 403.4,64.2 404.0,60.7 404.5,64.8 405.1,65.1 405.6,66.0 406.2,66.8 406.7,64.7 407.3,64.8 407.8,64.6 408.4,64.1 408.9,64.3 409.5,65.2 410.0,65.0 410.6,65.5 411.1,64.1 411.7,65.1 412.2,66.1 412.8,65.9 413.3,66.1 413.9,65.0 414.4,65.5 415.0,66.7 415.5,66.5 416.1,64.9 416.6,67.5 417.2,67.7 417.7,66.0 418.3,67.0 418.8,66.5 419.4,66.4 419.9,65.8 420.5,67.6 421.0,67.0 421.6,64.4 422.1,64.4 422.7,64.7 423.2,65.1 423.8,64.6 424.3,65.2 424.9,65.2 425.4,64.0 426.0,62.2 426.5,64.9 427.1,66.1 427.6,65.9 428.2,65.8 428.7,66.2 429.3,65.2 429.8,66.8 430.4,65.3 430.9,65.1 431.5,65.6 432.0,65.2 432.6,63.5 433.1,65.4 433.7,64.5 434.2,63.6 434.8,65.3 435.3,64.4 435.9,63.0 436.4,65.3 437.0,61.4 437.5,63.3 438.1,65.5 438.6,64.2 439.2,64.4 439.7,65.9 440.3,64.8 440.8,63.3 441.4,64.5 441.9,64.2 442.5,65.2 443.0,64.3 443.6,65.1 444.1,64.1 444.7,61.4 445.2,64.9 445.8,65.0 446.3,64.3 446.9,65.2 447.4,63.6 448.0,64.2 448.5,66.6 449.1,62.9 449.6,65.4 450.2,64.3 450.7,64.3 451.3,63.5 451.8,65.0 452.4,64.6 452.9,66.2 453.5,65.0 454.0,66.1 454.6,65.1 455.1,65.5 455.7,64.3 456.2,65.5 456.8,65.2 457.3,62.5 457.9,64.0 458.4,61.8 459.0,65.6 459.5,64.2 460.1,65.2 460.6,61.7 461.2,66.3 461.7,67.1 462.3,67.1 462.8,65.5 463.4,66.2 463.9,64.9 464.5,62.9 465.0,62.7 465.6,63.8 466.1,65.0 466.7,65.9 467.2,65.4 467.8,65.5 468.3,64.6 468.9,64.4 469.4,61.8 470.0,63.4 470.5,64.9 471.1,64.5 471.6,62.5 472.2,62.1 472.7,65.4 473.3,65.6 473.8,65.8 474.4,65.5 474.9,63.8 475.5,63.9 476.0,64.6 476.6,64.0 477.1,62.6 477.7,61.2 478.2,63.3 478.8,64.7 479.3,64.0 479.9,67.7 480.4,65.8 481.0,63.6 481.5,64.2 482.1,64.6 482.6,65.5 483.2,66.2 483.7,66.3 484.3,66.6 484.8,66.8 485.4,65.4 485.9,64.1 486.5,64.3 487.0,64.7 487.6,63.0 488.1,65.3 488.7,63.9 489.2,65.0 489.8,66.0 490.3,66.3 490.9,65.4 491.4,65.4 492.0,65.8 492.5,64.6 493.1,65.5 493.6,64.8 494.2,66.3 494.7,66.1 495.3,64.4 495.8,64.3 496.4,63.8 496.9,61.2 497.5,64.1 498.0,64.5 498.6,63.8 499.1,64.0 499.7,64.7 500.2,65.8 500.8,66.0 501.3,64.5 501.9,66.4 502.4,65.7 503.0,65.8 503.5,66.2 504.1,66.5 504.6,63.4 505.2,65.0 505.7,64.2 506.3,63.6 506.8,60.1 507.4,62.1 507.9,63.3 508.5,64.7 509.0,63.7 509.6,63.4 510.1,64.1 510.7,61.9 511.2,63.5 511.8,65.6 512.3,65.8 512.9,65.0 513.4,62.5 514.0,65.5 514.5,64.4 515.1,64.6 515.6,63.8 516.2,64.9 516.7,65.6 517.3,65.9 517.8,66.6 518.4,66.7 518.9,63.4 519.5,64.0 520.0,64.3 520.6,63.9 521.1,63.7 521.7,65.3 522.2,65.6 522.8,65.4 523.3,64.7 523.9,63.0 524.4,64.8 525.0,64.2 525.5,63.8 526.1,62.2 526.6,63.4 527.2,64.0 527.7,64.1 528.3,65.4 528.8,66.7 529.4,63.1 529.9,62.0 530.5,64.1 531.0,63.1 531.6,60.4 532.1,63.4 532.7,63.8 533.2,64.5 533.8,63.7 534.3,62.7 534.9,62.3 535.4,63.3 536.0,63.9 536.5,64.7 537.1,67.0 537.6,64.5 538.2,63.0 538.7,65.5 539.3,65.3 539.8,66.0 540.4,63.8 540.9,64.9 541.5,63.1 542.0,63.6 542.6,60.8 543.1,63.8 543.7,66.1 544.2,64.3 544.8,63.6 545.3,63.1 545.9,65.0 546.4,62.6 547.0,65.6 547.5,64.9 548.1,65.2 548.6,65.9 549.2,63.2 549.7,64.0 550.3,65.3 550.8,63.9 551.4,63.3 551.9,62.3 552.5,62.3 553.0,63.0 553.6,64.2 554.1,64.5 554.7,63.6 555.2,63.9 555.8,65.2 556.3,65.4 556.9,63.2 557.4,63.4 558.0,64.3 558.5,64.5 559.0,65.2 559.6,64.9 560.1,65.7 560.7,65.4 561.2,66.7 561.8,64.0 562.3,63.4 562.9,64.0 563.4,63.8 564.0,62.8 564.5,66.0 565.1,65.7 565.6,65.9 566.2,64.9 566.7,64.8 567.3,65.0 567.8,65.3 568.4,64.2 568.9,63.1 569.5,63.1 570.0,65.1 570.6,65.1 571.1,65.5 571.7,65.1 572.2,66.8 572.8,66.0 573.3,66.6 573.9,66.6 574.4,65.0 575.0,63.9 575.5,65.3 576.1,64.3 576.6,63.3 577.2,63.9 577.7,64.4 578.3,66.1 578.8,65.5 579.4,66.8 579.9,64.6 580.5,65.3 581.0,65.9 581.6,65.7 582.1,65.1 582.7,65.3 583.2,60.3 583.8,61.3 584.3,62.3 584.9,62.5 585.4,66.1 586.0,66.3 586.5,65.5 587.1,65.0 587.6,64.2 588.2,62.5 588.7,64.0 589.3,64.0 589.8,64.5 590.4,66.1 590.9,67.6 591.5,68.3 592.0,66.7 592.6,64.0 593.1,62.6 593.7,62.4 594.2,62.6 594.8,65.3 595.3,65.4 595.9,66.8 596.4,63.3 597.0,64.2 597.5,64.1 598.1,61.0 598.6,62.1 599.2,63.4 599.7,63.2 600.3,64.9 600.8,68.1 601.4,69.8 601.9,68.2 602.5,67.0 603.0,65.3 603.6,64.0 604.1,63.6 604.7,63.6 605.2,62.9 605.8,64.9 606.3,64.8 606.9,66.5 607.4,64.2 608.0,63.2 608.5,62.6 609.1,63.2 609.6,65.4 610.2,65.1 610.7,66.0 611.3,63.8 611.8,60.8 612.4,63.8 612.9,63.7 613.5,64.4 614.0,64.4 614.6,64.0 615.1,62.2 615.7,64.6 616.2,64.7 616.8,64.1 617.3,65.0 617.9,63.6 618.4,62.9 619.0,61.9 619.5,62.2 620.1,63.6 620.6,63.0 621.2,66.4 621.7,65.4 622.3,61.7 622.8,64.8 623.4,64.9 623.9,66.1 624.5,65.7 625.0,66.1 625.6,66.2 626.1,65.7 626.7,64.8 627.2,64.3 627.8,64.4 628.3,65.6 628.9,63.5 629.4,65.6 630.0,67.2 630.5,67.3 631.1,66.0 631.6,65.0 632.2,63.7 632.7,65.5 633.3,64.2 633.8,65.8 634.4,65.8 634.9,65.3 635.5,65.3 636.0,64.9 636.6,64.7 637.1,63.3 637.7,63.8 638.2,64.2 638.8,63.2 639.3,61.5 639.9,65.3 640.4,64.8 641.0,65.4 641.5,65.8 642.1,65.1 642.6,65.4 643.2,65.6 643.7,66.2 644.3,65.5 644.8,64.8 645.4,65.3 645.9,64.0 646.5,64.8 647.0,61.0 647.6,64.5 648.1,66.0 648.7,67.1 649.2,64.6 649.8,64.4 650.3,63.5 650.9,64.8 651.4,64.4 652.0,63.7 652.5,64.7 653.1,63.6 653.6,65.2 654.2,65.2 654.7,65.2 655.3,63.7 655.8,64.7 656.4,65.2 656.9,64.6 657.5,62.9 658.0,65.5 658.6,65.0 659.1,65.6 659.7,68.0 660.2,66.6 660.8,64.6 661.3,65.8 661.9,62.5 662.4,64.7 663.0,63.5 663.5,66.8 664.1,66.4 664.6,66.7 665.2,65.4 665.7,65.3 666.3,66.9 666.8,67.8 667.4,66.4 667.9,67.1 668.5,65.6 669.0,63.6 669.6,62.9 670.1,64.6 670.7,65.2 671.2,64.0 671.8,63.9 672.3,66.0 672.9,66.1 673.4,64.5 674.0,63.8 674.5,62.9 675.1,64.9 675.6,63.7 676.2,65.1 676.7,62.2 677.3,63.1 677.8,63.9 678.4,63.3 678.9,65.0 679.5,65.7 680.0,66.5 680.6,66.0 681.1,66.5 681.7,65.2 682.2,65.0 682.8,65.0 683.3,64.4 683.9,64.5 684.4,65.7 685.0,65.0 685.5,64.0 686.1,66.2 686.6,63.1 687.2,66.5 687.7,66.8 688.3,67.3 688.8,66.3 689.4,64.5 689.9,65.1 689.9,69.4 689.4,69.5 688.8,70.5 688.3,71.4 687.7,71.3 687.2,71.0 686.6,69.2 686.1,71.4 685.5,68.5 685.0,69.1 684.4,71.0 683.9,69.0 683.3,68.4 682.8,69.1 682.2,69.1 681.7,69.9 681.1,70.1 680.6,70.0 680.0,71.8 679.5,69.9 678.9,69.4 678.4,67.2 677.8,67.8 677.3,67.3 676.7,66.8 676.2,68.7 675.6,67.8 675.1,68.8 674.5,69.1 674.0,68.4 673.4,69.1 672.9,70.3 672.3,69.7 671.8,70.4 671.2,68.2 670.7,69.4 670.1,68.9 669.6,68.1 669.0,69.5 668.5,69.9 667.9,73.1 667.4,71.2 666.8,71.9 666.3,71.4 665.7,70.1 665.2,69.8 664.6,71.7 664.1,70.5 663.5,71.2 663.0,68.4 662.4,69.1 661.9,68.2 661.3,69.7 660.8,68.4 660.2,70.6 659.7,71.7 659.1,70.2 658.6,69.3 658.0,69.6 657.5,69.5 656.9,69.5 656.4,69.5 655.8,69.0 655.3,69.2 654.7,69.9 654.2,69.7 653.6,69.0 653.1,67.2 652.5,68.6 652.0,68.5 651.4,68.8 650.9,68.9 650.3,68.5 649.8,69.1 649.2,69.6 648.7,70.6 648.1,70.4 647.6,68.3 647.0,67.8 646.5,68.6 645.9,69.1 645.4,70.1 644.8,69.7 644.3,69.7 643.7,70.2 643.2,69.3 642.6,73.3 642.1,68.8 641.5,69.6 641.0,69.4 640.4,68.4 639.9,70.1 639.3,67.3 638.8,67.8 638.2,68.9 637.7,67.6 637.1,68.4 636.6,68.9 636.0,69.4 635.5,69.5 634.9,70.3 634.4,70.4 633.8,71.4 633.3,68.5 632.7,69.0 632.2,68.3 631.6,69.4 631.1,70.2 630.5,71.3 630.0,71.0 629.4,70.5 628.9,69.5 628.3,69.6 627.8,68.5 627.2,70.0 626.7,69.0 626.1,69.3 625.6,70.4 625.0,70.3 624.5,70.8 623.9,70.0 623.4,69.2 622.8,69.3 622.3,69.4 621.7,69.5 621.2,70.8 620.6,69.5 620.1,67.7 619.5,66.2 619.0,66.6 618.4,66.5 617.9,68.6 617.3,69.9 616.8,68.6 616.2,69.2 615.7,68.6 615.1,69.5 614.6,67.8 614.0,70.3 613.5,68.9 612.9,69.0 612.4,67.5 611.8,67.0 611.3,67.8 610.7,70.1 610.2,69.1 609.6,69.7 609.1,67.8 608.5,67.6 608.0,69.2 607.4,68.8 606.9,70.5 606.3,69.5 605.8,69.2 605.2,67.4 604.7,67.7 604.1,69.2 603.6,68.4 603.0,70.3 602.5,70.9 601.9,72.3 601.4,73.2 600.8,72.0 600.3,69.9 599.7,67.1 599.2,67.8 598.6,66.6 598.1,65.6 597.5,67.7 597.0,68.6 596.4,68.5 595.9,71.8 595.3,69.9 594.8,69.8 594.2,66.6 593.7,66.4 593.1,67.4 592.6,68.0 592.0,70.4 591.5,72.6 590.9,71.7 590.4,69.8 589.8,68.4 589.3,68.7 588.7,68.0 588.2,69.7 587.6,68.8 587.1,69.1 586.5,69.6 586.0,70.2 585.4,73.0 584.9,68.2 584.3,66.4 583.8,66.5 583.2,67.7 582.7,69.3 582.1,68.9 581.6,69.3 581.0,70.1 580.5,69.6 579.9,68.9 579.4,70.2 578.8,70.2 578.3,71.1 577.7,68.2 577.2,69.1 576.6,67.8 576.1,68.6 575.5,69.3 575.0,71.9 574.4,69.5 573.9,71.5 573.3,70.8 572.8,70.0 572.2,71.8 571.7,70.2 571.1,69.1 570.6,70.1 570.0,68.8 569.5,67.2 568.9,69.7 568.4,67.6 567.8,69.1 567.3,69.4 566.7,69.7 566.2,70.0 565.6,71.0 565.1,70.2 564.5,69.6 564.0,67.6 563.4,68.0 562.9,69.7 562.3,67.9 561.8,68.6 561.2,71.1 560.7,71.6 560.1,69.3 559.6,69.4 559.0,69.1 558.5,68.7 558.0,68.9 557.4,68.2 556.9,68.4 556.3,70.0 555.8,69.0 555.2,67.6 554.7,67.2 554.1,68.5 553.6,68.8 553.0,66.9 552.5,66.2 551.9,66.7 551.4,67.3 550.8,68.4 550.3,70.1 549.7,68.5 549.2,68.1 548.6,70.4 548.1,68.7 547.5,69.2 547.0,69.8 546.4,69.4 545.9,68.9 545.3,67.5 544.8,68.7 544.2,68.7 543.7,70.7 543.1,68.5 542.6,67.0 542.0,67.8 541.5,67.8 540.9,68.8 540.4,68.4 539.8,72.1 539.3,68.9 538.7,69.5 538.2,67.5 537.6,71.5 537.1,72.4 536.5,69.7 536.0,67.5 535.4,66.8 534.9,67.0 534.3,66.5 533.8,68.5 533.2,68.1 532.7,70.2 532.1,67.5 531.6,67.3 531.0,67.8 530.5,68.9 529.9,69.1 529.4,68.0 528.8,70.8 528.3,70.0 527.7,70.0 527.2,67.8 526.6,70.2 526.1,68.0 525.5,68.3 525.0,69.6 524.4,68.9 523.9,67.8 523.3,70.1 522.8,70.6 522.2,69.9 521.7,69.4 521.1,71.5 520.6,69.1 520.0,68.0 519.5,70.1 518.9,69.3 518.4,71.8 517.8,71.5 517.3,69.8 516.7,70.5 516.2,69.6 515.6,69.5 515.1,69.2 514.5,69.3 514.0,69.4 513.4,68.1 512.9,70.7 512.3,69.7 511.8,70.2 511.2,68.8 510.7,69.2 510.1,70.7 509.6,67.6 509.0,67.9 508.5,68.6 507.9,67.7 507.4,66.8 506.8,66.7 506.3,68.9 505.7,69.3 505.2,69.1 504.6,68.2 504.1,70.1 503.5,70.1 503.0,70.9 502.4,70.1 501.9,70.9 501.3,68.7 500.8,69.7 500.2,69.9 499.7,69.5 499.1,69.5 498.6,67.4 498.0,68.4 497.5,68.5 496.9,68.5 496.4,70.4 495.8,68.8 495.3,69.4 494.7,70.7 494.2,70.5 493.6,70.0 493.1,69.4 492.5,69.8 492.0,70.2 491.4,69.1 490.9,69.6 490.3,70.5 489.8,70.3 489.2,68.7 488.7,69.0 488.1,69.1 487.6,67.4 487.0,69.0 486.5,68.7 485.9,68.0 485.4,69.8 484.8,70.4 484.3,70.6 483.7,71.5 483.2,73.2 482.6,70.1 482.1,68.6 481.5,68.7 481.0,69.1 480.4,70.4 479.9,71.5 479.3,70.5 478.8,68.7 478.2,67.9 477.7,66.4 477.1,66.4 476.6,68.3 476.0,68.7 475.5,68.8 474.9,68.8 474.4,70.7 473.8,69.9 473.3,69.1 472.7,69.1 472.2,69.9 471.6,69.1 471.1,68.7 470.5,69.9 470.0,68.6 469.4,69.2 468.9,69.8 468.3,69.3 467.8,69.6 467.2,69.8 466.7,72.1 466.1,70.1 465.6,69.1 465.0,69.1 464.5,69.7 463.9,71.5 463.4,70.1 462.8,69.8 462.3,71.5 461.7,73.0 461.2,72.8 460.6,70.4 460.1,69.3 459.5,69.9 459.0,69.7 458.4,67.8 457.9,69.3 457.3,68.3 456.8,69.1 456.2,69.1 455.7,68.0 455.1,69.9 454.6,69.9 454.0,70.7 453.5,71.7 452.9,70.3 452.4,69.0 451.8,69.0 451.3,68.2 450.7,68.9 450.2,69.4 449.6,69.5 449.1,69.1 448.5,70.5 448.0,68.5 447.4,69.5 446.9,69.7 446.3,70.9 445.8,69.3 445.2,68.8 444.7,67.5 444.1,68.2 443.6,69.3 443.0,68.8 442.5,69.3 441.9,69.4 441.4,68.8 440.8,67.2 440.3,69.7 439.7,72.4 439.2,69.0 438.6,67.7 438.1,70.1 437.5,69.7 437.0,68.8 436.4,69.1 435.9,67.2 435.3,68.2 434.8,69.7 434.2,68.2 433.7,68.9 433.1,69.5 432.6,70.4 432.0,71.4 431.5,70.9 430.9,70.7 430.4,73.5 429.8,71.3 429.3,69.7 428.7,71.3 428.2,70.2 427.6,70.2 427.1,70.0 426.5,69.0 426.0,69.4 425.4,69.4 424.9,69.9 424.3,69.8 423.8,69.1 423.2,69.6 422.7,68.5 422.1,68.6 421.6,68.9 421.0,72.3 420.5,71.1 419.9,71.0 419.4,70.4 418.8,70.7 418.3,71.5 417.7,70.4 417.2,71.9 416.6,74.1 416.1,72.1 415.5,70.9 415.0,70.4 414.4,69.6 413.9,70.1 413.3,71.2 412.8,70.6 412.2,70.7 411.7,69.5 411.1,69.5 410.6,69.6 410.0,68.6 409.5,70.5 408.9,68.8 408.4,68.5 407.8,69.8 407.3,69.0 406.7,69.1 406.2,71.8 405.6,70.3 405.1,69.2 404.5,69.5 404.0,67.4 403.4,68.6 402.9,69.4 402.3,69.5 401.8,70.4 401.2,69.9 400.7,70.6 400.1,71.0 399.6,69.7 399.0,70.0 398.5,68.2 397.9,69.2 397.4,69.0 396.8,68.9 396.3,67.6 395.7,70.3 395.2,70.8 394.6,70.3 394.1,73.7 393.5,69.1 393.0,68.1 392.4,69.7 391.9,70.4 391.3,69.7 390.8,68.4 390.2,67.7 389.7,67.5 389.1,67.5 388.6,69.3 388.0,69.7 387.5,71.2 386.9,71.8 386.4,70.0 385.8,69.3 385.3,69.0 384.7,68.6 384.2,71.1 383.6,68.4 383.1,69.6 382.5,69.1 382.0,69.6 381.4,69.5 380.9,71.3 380.3,69.8 379.8,69.8 379.2,69.9 378.7,70.1 378.1,69.0 377.6,70.0 377.0,69.1 376.5,69.1 375.9,69.3 375.4,66.3 374.8,66.9 374.3,66.7 373.7,67.1 373.2,68.0 372.6,68.1 372.1,68.3 371.5,68.1 371.0,70.0 370.4,69.8 369.9,69.1 369.3,68.0 368.8,70.9 368.2,69.3 367.7,68.9 367.1,68.5 366.6,68.1 366.0,67.1 365.5,68.9 364.9,69.4 364.4,68.5 363.8,69.8 363.3,68.3 362.7,69.5 362.2,68.5 361.6,70.6 361.1,68.1 360.5,67.4 360.0,68.0 359.4,69.9 358.9,70.2 358.3,70.0 357.8,68.6 357.2,69.4 356.7,70.2 356.1,69.0 355.6,68.8 355.0,69.5 354.5,70.1 353.9,70.2 353.4,70.0 352.8,71.3 352.3,70.8 351.7,69.2 351.2,69.3 350.6,71.9 350.1,67.9 349.5,66.7 349.0,67.5 348.4,68.3 347.9,69.3 347.3,70.8 346.8,69.6 346.2,70.6 345.7,69.2 345.1,70.8 344.6,72.1 344.0,68.6 343.5,68.1 342.9,70.4 342.4,70.8 341.8,70.8 341.3,71.0 340.7,69.9 340.2,69.0 339.6,68.7 339.1,70.2 338.5,68.2 338.0,67.6 337.4,68.5 336.9,70.2 336.3,69.3 335.8,69.0 335.2,71.0 334.7,70.7 334.1,70.4 333.6,71.8 333.0,73.5 332.5,71.2 331.9,70.5 331.4,69.9 330.8,70.2 330.3,70.6 329.7,68.4 329.2,69.2 328.6,69.6 328.1,69.8 327.5,70.7Z" fill="#000" stroke="#000" stroke-width="0.6" stroke-linejoin="round"/><text x="323.5" y="72.9" text-anchor="end" class="tl">1</text><path d="M328.5,118.9 329.1,120.0 329.6,119.3 330.2,119.6 330.7,120.6 331.3,120.1 331.8,121.2 332.4,119.8 332.9,121.7 333.5,122.3 334.0,121.9 334.6,123.7 335.1,121.9 335.7,120.4 336.2,121.6 336.8,121.0 337.3,120.3 337.9,120.6 338.4,120.3 339.0,121.6 339.5,121.0 340.1,120.6 340.6,122.2 341.2,122.3 341.7,121.7 342.3,120.8 342.8,120.1 343.4,118.7 343.9,119.0 344.5,116.8 345.0,117.1 345.6,119.0 346.1,118.0 346.7,119.4 347.2,122.2 347.8,121.7 348.3,120.9 348.9,121.0 349.4,121.6 350.0,120.0 350.5,120.6 351.1,120.2 351.6,118.9 352.2,119.0 352.7,119.8 353.3,119.9 353.8,119.0 354.4,120.4 354.9,120.0 355.5,120.1 356.0,119.9 356.6,120.0 357.1,120.1 357.7,119.0 358.2,120.3 358.8,121.2 359.3,121.3 359.9,118.6 360.4,119.1 361.0,117.2 361.5,116.6 362.1,118.2 362.6,119.2 363.2,119.5 363.7,118.6 364.3,121.2 364.8,119.8 365.4,120.7 365.9,119.1 366.5,121.3 367.0,117.4 367.6,120.0 368.1,121.0 368.7,119.0 369.2,121.3 369.8,121.6 370.3,121.2 370.9,120.7 371.4,119.7 372.0,117.5 372.5,119.7 373.1,120.7 373.6,119.2 374.2,119.3 374.7,119.5 375.3,119.8 375.8,120.9 376.4,119.2 376.9,120.5 377.5,119.3 378.0,120.1 378.6,121.8 379.1,121.1 379.7,122.2 380.2,120.0 380.8,121.1 381.3,120.2 381.9,119.8 382.4,119.9 383.0,121.2 383.5,120.8 384.1,119.5 384.6,121.5 385.2,121.0 385.7,119.2 386.3,120.2 386.8,121.6 387.4,121.6 387.9,120.0 388.5,120.9 389.0,122.2 389.6,122.6 390.1,120.2 390.7,119.8 391.2,119.5 391.8,120.1 392.3,119.7 392.9,119.9 393.4,120.8 394.0,120.2 394.5,120.4 395.1,118.2 395.6,119.3 396.2,121.2 396.7,121.2 397.3,120.6 397.8,122.7 398.4,122.6 398.9,120.9 399.5,120.8 400.0,120.4 400.6,119.2 401.1,120.6 401.7,120.8 402.2,121.3 402.8,121.5 403.3,120.9 403.9,121.9 404.4,120.2 405.0,121.7 405.5,119.8 406.1,119.5 406.6,118.6 407.2,118.8 407.7,119.9 408.3,120.5 408.8,121.6 409.4,120.6 409.9,121.1 410.5,120.8 411.0,120.5 411.6,120.7 412.1,119.9 412.7,119.6 413.2,119.5 413.8,118.6 414.3,118.9 414.9,119.7 415.4,120.2 416.0,119.9 416.5,119.2 417.1,118.7 417.6,119.2 418.2,118.7 418.7,117.4 419.3,119.6 419.8,119.0 420.4,119.7 420.9,119.2 421.5,118.8 422.0,119.1 422.6,119.1 423.1,120.6 423.7,119.3 424.2,119.7 424.8,119.1 425.3,119.7 425.9,120.2 426.4,121.4 427.0,120.6 427.5,121.8 428.1,122.0 428.6,122.3 429.2,119.5 429.7,118.0 430.3,121.5 430.8,120.4 431.4,118.2 431.9,119.2 432.5,120.7 433.0,119.8 433.6,121.6 434.1,121.9 434.7,119.8 435.2,119.9 435.8,120.0 436.3,120.9 436.9,121.4 437.4,121.7 438.0,120.6 438.5,123.7 439.1,123.1 439.6,121.4 440.2,119.2 440.7,118.8 441.3,118.9 441.8,121.3 442.4,120.2 442.9,118.2 443.5,118.8 444.0,119.6 444.6,120.1 445.1,120.0 445.7,120.1 446.2,120.0 446.8,120.3 447.3,120.4 447.9,119.5 448.4,118.6 449.0,118.2 449.5,118.3 450.1,118.7 450.6,120.8 451.2,120.0 451.7,119.2 452.3,119.6 452.8,119.9 453.4,121.2 453.9,122.6 454.5,119.9 455.0,120.1 455.6,121.7 456.1,119.6 456.7,120.6 457.2,120.9 457.8,120.6 458.3,119.9 458.9,118.1 459.4,119.6 460.0,119.8 460.5,120.2 461.1,121.1 461.6,119.8 462.2,119.8 462.7,118.0 463.3,119.6 463.8,120.9 464.4,120.3 464.9,120.3 465.5,119.5 466.0,119.6 466.6,119.2 467.1,120.6 467.7,120.2 468.2,118.4 468.8,118.1 469.3,120.7 469.9,119.6 470.4,120.7 471.0,119.8 471.5,120.1 472.1,120.0 472.6,120.5 473.2,118.7 473.7,119.8 474.3,120.6 474.8,121.1 475.4,121.7 475.9,120.4 476.5,121.8 477.0,121.6 477.6,120.2 478.1,118.7 478.7,122.1 479.2,118.9 479.8,120.7 480.3,119.3 480.9,121.0 481.4,121.0 482.0,118.9 482.5,117.6 483.1,117.7 483.6,118.8 484.2,119.5 484.7,118.7 485.3,115.5 485.8,119.4 486.4,121.1 486.9,120.9 487.5,119.4 488.0,120.1 488.6,119.4 489.1,118.5 489.7,120.2 490.2,119.6 490.8,119.9 491.3,119.4 491.9,120.2 492.4,122.0 493.0,123.1 493.5,120.8 494.1,120.3 494.6,122.1 495.2,120.5 495.7,120.4 496.3,119.9 496.8,120.7 497.4,120.8 497.9,120.0 498.5,121.7 499.0,121.4 499.6,119.5 500.1,120.5 500.7,120.1 501.2,120.7 501.8,121.3 502.3,119.5 502.9,118.7 503.4,122.5 504.0,122.8 504.5,122.3 505.1,120.3 505.6,123.2 506.2,119.7 506.7,120.5 507.3,121.0 507.8,119.9 508.4,120.5 508.9,120.5 509.5,118.9 510.0,119.4 510.6,122.1 511.1,121.8 511.7,123.0 512.2,123.2 512.8,121.5 513.3,120.4 513.9,122.0 514.4,121.2 515.0,118.0 515.5,120.1 516.1,119.7 516.6,119.7 517.2,120.4 517.7,120.6 518.3,120.6 518.8,122.4 519.4,120.5 519.9,119.4 520.5,121.1 521.0,120.8 521.6,118.0 522.1,121.0 522.7,119.2 523.2,119.3 523.8,117.9 524.3,117.1 524.9,115.8 525.4,119.5 526.0,119.9 526.5,120.3 527.1,121.7 527.6,121.8 528.2,120.9 528.7,120.5 529.3,120.2 529.8,120.2 530.4,122.1 530.9,120.2 531.5,119.3 532.0,119.8 532.6,120.5 533.1,121.3 533.7,119.7 534.2,118.2 534.8,119.9 535.3,121.0 535.9,120.0 536.4,122.2 537.0,119.7 537.5,120.7 538.1,121.3 538.6,121.1 539.2,119.6 539.7,119.6 540.3,118.4 540.8,120.1 541.4,120.3 541.9,117.1 542.5,119.6 543.0,120.6 543.6,121.8 544.1,121.0 544.7,120.2 545.2,120.4 545.8,121.6 546.3,120.6 546.9,119.5 547.4,120.9 548.0,120.9 548.5,120.8 549.1,119.8 549.6,121.0 550.2,119.8 550.7,119.6 551.3,118.7 551.8,120.3 552.4,119.6 552.9,118.5 553.5,118.5 554.0,118.0 554.6,119.6 555.1,118.8 555.7,119.9 556.2,120.8 556.8,117.8 557.3,119.2 557.9,120.0 558.4,119.9 558.9,119.9 559.5,119.3 560.0,118.4 560.6,120.6 561.1,121.6 561.7,122.4 562.2,119.2 562.8,120.3 563.3,120.4 563.9,118.6 564.4,120.6 565.0,117.1 565.5,119.3 566.1,117.1 566.6,117.8 567.2,120.1 567.7,119.5 568.3,120.2 568.8,120.2 569.4,121.1 569.9,121.4 570.5,124.3 571.0,121.3 571.6,120.1 572.1,119.8 572.7,120.0 573.2,119.1 573.8,120.3 574.3,118.1 574.9,121.2 575.4,119.9 576.0,123.1 576.5,122.6 577.1,120.9 577.6,120.4 578.2,120.4 578.7,120.7 579.3,120.6 579.8,120.4 580.4,118.9 580.9,119.3 581.5,122.0 582.0,120.8 582.6,118.4 583.1,120.1 583.7,119.8 584.2,117.6 584.8,120.2 585.3,120.5 585.9,119.9 586.4,119.2 587.0,118.7 587.5,118.8 588.1,120.6 588.6,121.2 589.2,120.9 589.7,121.3 590.3,121.4 590.8,121.3 591.4,121.5 591.9,120.5 592.5,120.0 593.0,120.2 593.6,119.0 594.1,116.2 594.7,121.9 595.2,119.2 595.8,120.3 596.3,121.8 596.9,120.0 597.4,116.7 598.0,114.9 598.5,118.6 599.1,118.4 599.6,118.5 600.2,119.4 600.7,123.6 601.3,122.8 601.8,121.3 602.4,119.5 602.9,119.8 603.5,121.5 604.0,122.8 604.6,124.6 605.1,123.6 605.7,123.3 606.2,122.5 606.8,121.2 607.3,119.9 607.9,121.3 608.4,120.7 609.0,118.8 609.5,119.1 610.1,120.8 610.6,120.8 611.2,119.5 611.7,120.6 612.3,119.9 612.8,119.4 613.4,121.4 613.9,120.5 614.5,119.7 615.0,118.9 615.6,120.3 616.1,120.7 616.7,119.2 617.2,116.7 617.8,116.8 618.3,117.5 618.9,118.7 619.4,120.6 620.0,120.6 620.5,122.3 621.1,120.0 621.6,117.7 622.2,119.5 622.7,115.9 623.3,117.6 623.8,117.7 624.4,119.7 624.9,120.4 625.5,121.0 626.0,121.8 626.6,120.8 627.1,117.6 627.7,119.7 628.2,118.7 628.8,119.8 629.3,119.9 629.9,120.6 630.4,121.2 631.0,121.7 631.5,119.6 632.1,119.8 632.6,121.5 633.2,120.0 633.7,119.3 634.3,120.0 634.8,121.2 635.4,120.9 635.9,120.7 636.5,120.8 637.0,119.7 637.6,120.6 638.1,122.1 638.7,119.7 639.2,120.3 639.8,121.5 640.3,119.4 640.9,121.1 641.4,121.8 642.0,120.9 642.5,119.7 643.1,120.8 643.6,119.6 644.2,120.8 644.7,120.9 645.3,119.7 645.8,118.2 646.4,119.7 646.9,120.5 647.5,120.9 648.0,120.6 648.6,118.0 649.1,118.3 649.7,121.7 650.2,121.2 650.8,119.5 651.3,122.3 651.9,122.7 652.4,120.8 653.0,120.5 653.5,122.1 654.1,121.0 654.6,121.1 655.2,121.1 655.7,121.1 656.3,120.6 656.8,120.0 657.4,119.3 657.9,121.5 658.5,121.8 659.0,121.7 659.6,120.2 660.1,120.2 660.7,120.7 661.2,121.0 661.8,118.2 662.3,117.0 662.9,120.0 663.4,118.8 664.0,120.6 664.5,119.5 665.1,120.3 665.6,122.1 666.2,119.1 666.7,120.3 667.3,121.2 667.8,118.7 668.4,120.4 668.9,117.8 669.5,122.3 670.0,122.2 670.6,120.6 671.1,119.4 671.7,120.4 672.2,119.5 672.8,118.5 673.3,119.6 673.9,119.9 674.4,120.2 675.0,120.5 675.5,118.4 676.1,119.3 676.6,120.2 677.2,121.5 677.7,121.0 678.3,119.9 678.8,121.1 679.4,120.1 679.9,120.4 680.5,119.5 681.0,119.4 681.6,120.8 682.1,119.3 682.7,119.5 683.2,119.3 683.8,119.6 684.3,119.3 684.9,118.4 685.4,121.5 686.0,120.8 686.5,120.1 687.1,120.4 687.6,121.1 688.2,121.1 688.7,119.0 689.3,120.6 689.8,120.1 690.4,120.2 690.9,120.2 690.9,125.0 690.4,123.9 689.8,124.5 689.3,126.4 688.7,125.6 688.2,125.9 687.6,128.0 687.1,124.6 686.5,124.5 686.0,125.0 685.4,125.7 684.9,122.9 684.3,123.5 683.8,126.4 683.2,123.7 682.7,124.4 682.1,123.1 681.6,125.2 681.0,125.0 680.5,123.3 679.9,127.3 679.4,124.9 678.8,125.7 678.3,124.7 677.7,128.8 677.2,127.0 676.6,124.8 676.1,122.9 675.5,123.4 675.0,126.1 674.4,124.3 673.9,123.5 673.3,124.3 672.8,125.1 672.2,124.9 671.7,123.9 671.1,126.9 670.6,124.9 670.0,126.7 669.5,125.9 668.9,123.0 668.4,124.9 667.8,124.0 667.3,124.9 666.7,124.1 666.2,123.4 665.6,129.4 665.1,124.5 664.5,123.5 664.0,125.9 663.4,123.7 662.9,123.7 662.3,123.4 661.8,121.9 661.2,124.8 660.7,124.7 660.1,124.6 659.6,123.7 659.0,125.2 658.5,125.4 657.9,126.0 657.4,123.3 656.8,123.5 656.3,124.5 655.7,125.0 655.2,125.0 654.6,124.5 654.1,126.2 653.5,126.0 653.0,124.9 652.4,124.8 651.9,126.5 651.3,126.4 650.8,123.8 650.2,126.0 649.7,125.4 649.1,123.0 648.6,123.1 648.0,124.6 647.5,126.2 646.9,124.3 646.4,124.3 645.8,122.7 645.3,123.4 644.7,124.9 644.2,126.6 643.6,125.2 643.1,124.8 642.5,123.4 642.0,125.1 641.4,125.5 640.9,125.4 640.3,124.5 639.8,125.4 639.2,124.8 638.7,123.8 638.1,125.8 637.6,125.0 637.0,125.3 636.5,124.9 635.9,124.5 635.4,126.3 634.8,125.5 634.3,124.9 633.7,123.2 633.2,123.9 632.6,125.4 632.1,124.2 631.5,123.9 631.0,125.8 630.4,125.6 629.9,124.8 629.3,124.7 628.8,124.0 628.2,123.5 627.7,125.8 627.1,123.7 626.6,124.8 626.0,125.4 625.5,124.9 624.9,124.4 624.4,123.3 623.8,124.8 623.3,122.2 622.7,122.4 622.2,123.7 621.6,124.5 621.1,125.8 620.5,126.4 620.0,124.6 619.4,125.6 618.9,122.3 618.3,122.5 617.8,121.9 617.2,122.3 616.7,125.1 616.1,125.1 615.6,124.5 615.0,122.8 614.5,124.0 613.9,126.6 613.4,125.6 612.8,124.7 612.3,125.3 611.7,124.7 611.2,124.4 610.6,125.3 610.1,128.5 609.5,123.4 609.0,123.4 608.4,125.4 607.9,126.1 607.3,124.1 606.8,126.4 606.2,126.2 605.7,127.4 605.1,127.9 604.6,129.0 604.0,127.3 603.5,124.9 602.9,126.8 602.4,123.6 601.8,125.6 601.3,128.0 600.7,127.4 600.2,125.3 599.6,123.0 599.1,124.0 598.5,123.7 598.0,122.0 597.4,121.8 596.9,123.8 596.3,125.8 595.8,124.6 595.2,124.5 594.7,125.5 594.1,123.4 593.6,122.8 593.0,124.1 592.5,124.6 591.9,124.7 591.4,127.2 590.8,125.5 590.3,125.9 589.7,125.1 589.2,126.2 588.6,125.7 588.1,125.1 587.5,122.6 587.0,123.7 586.4,123.5 585.9,124.0 585.3,125.2 584.8,124.3 584.2,123.0 583.7,123.7 583.1,123.8 582.6,123.3 582.0,127.9 581.5,128.0 580.9,125.1 580.4,123.7 579.8,125.0 579.3,124.9 578.7,124.5 578.2,125.0 577.6,126.3 577.1,125.8 576.5,126.0 576.0,127.1 575.4,126.6 574.9,125.5 574.3,125.3 573.8,124.7 573.2,124.8 572.7,126.5 572.1,126.1 571.6,126.6 571.0,126.3 570.5,127.8 569.9,126.8 569.4,125.8 568.8,125.7 568.3,124.7 567.7,123.7 567.2,123.7 566.6,122.1 566.1,121.9 565.5,123.6 565.0,124.5 564.4,124.6 563.9,123.1 563.3,124.3 562.8,125.2 562.2,125.8 561.7,126.6 561.1,126.1 560.6,124.9 560.0,125.7 559.5,123.5 558.9,125.1 558.4,123.7 557.9,123.7 557.3,126.4 556.8,123.7 556.2,124.2 555.7,124.1 555.1,123.1 554.6,123.6 554.0,124.5 553.5,122.7 552.9,123.1 552.4,124.0 551.8,124.2 551.3,122.7 550.7,124.9 550.2,124.8 549.6,125.5 549.1,125.2 548.5,125.2 548.0,127.4 547.4,126.1 546.9,125.7 546.3,124.8 545.8,125.6 545.2,124.4 544.7,124.4 544.1,124.7 543.6,126.5 543.0,125.3 542.5,123.3 541.9,124.7 541.4,125.0 540.8,124.2 540.3,122.2 539.7,124.0 539.2,124.8 538.6,126.0 538.1,125.2 537.5,126.4 537.0,123.2 536.4,126.8 535.9,124.7 535.3,127.2 534.8,124.3 534.2,122.7 533.7,123.3 533.1,126.3 532.6,126.0 532.0,123.8 531.5,122.8 530.9,124.9 530.4,125.7 529.8,124.7 529.3,124.5 528.7,125.3 528.2,125.1 527.6,125.9 527.1,125.7 526.5,126.6 526.0,124.2 525.4,125.0 524.9,122.5 524.3,121.0 523.8,123.8 523.2,123.8 522.7,123.1 522.1,126.1 521.6,124.7 521.0,124.6 520.5,124.9 519.9,124.2 519.4,124.0 518.8,126.2 518.3,124.4 517.7,125.0 517.2,124.1 516.6,124.1 516.1,124.8 515.5,124.4 515.0,123.7 514.4,126.3 513.9,126.2 513.3,125.7 512.8,125.8 512.2,127.9 511.7,127.0 511.1,125.8 510.6,126.4 510.0,124.6 509.5,125.0 508.9,124.1 508.4,125.7 507.8,124.0 507.3,126.0 506.7,124.1 506.2,126.0 505.6,127.5 505.1,125.4 504.5,125.7 504.0,126.9 503.4,126.2 502.9,124.1 502.3,124.1 501.8,125.6 501.2,125.8 500.7,123.9 500.1,124.7 499.6,124.7 499.0,125.2 498.5,126.5 497.9,124.5 497.4,125.6 496.8,125.0 496.3,125.8 495.7,124.8 495.2,125.5 494.6,128.2 494.1,124.3 493.5,124.9 493.0,127.1 492.4,127.1 491.9,124.4 491.3,123.6 490.8,124.1 490.2,123.5 489.7,124.0 489.1,124.4 488.6,124.3 488.0,124.2 487.5,125.3 486.9,124.9 486.4,125.8 485.8,123.4 485.3,123.0 484.7,122.5 484.2,123.2 483.6,123.3 483.1,121.2 482.5,121.9 482.0,124.5 481.4,124.7 480.9,124.8 480.3,123.9 479.8,124.4 479.2,122.8 478.7,125.6 478.1,123.8 477.6,124.5 477.0,126.7 476.5,125.8 475.9,124.5 475.4,125.3 474.8,125.1 474.3,125.0 473.7,124.9 473.2,125.8 472.6,124.2 472.1,124.6 471.5,124.1 471.0,123.9 470.4,124.8 469.9,123.2 469.3,125.2 468.8,124.6 468.2,123.5 467.7,124.3 467.1,124.5 466.6,123.6 466.0,124.0 465.5,124.0 464.9,123.6 464.4,124.6 463.8,125.0 463.3,123.8 462.7,124.3 462.2,124.3 461.6,124.8 461.1,126.2 460.5,126.9 460.0,123.8 459.4,124.2 458.9,123.8 458.3,127.3 457.8,126.2 457.2,125.6 456.7,124.7 456.1,125.7 455.6,125.9 455.0,124.1 454.5,124.3 453.9,126.8 453.4,127.0 452.8,126.0 452.3,124.5 451.7,123.0 451.2,123.4 450.6,124.9 450.1,123.7 449.5,123.3 449.0,123.0 448.4,122.8 447.9,124.4 447.3,125.0 446.8,124.4 446.2,123.9 445.7,123.6 445.1,123.6 444.6,124.9 444.0,124.2 443.5,124.4 442.9,123.3 442.4,124.4 441.8,125.0 441.3,123.9 440.7,122.7 440.2,123.6 439.6,128.5 439.1,127.0 438.5,129.5 438.0,126.1 437.4,127.0 436.9,126.3 436.3,126.1 435.8,126.6 435.2,124.0 434.7,126.5 434.1,126.1 433.6,127.0 433.0,126.5 432.5,124.5 431.9,123.2 431.4,121.9 430.8,124.1 430.3,126.8 429.7,125.2 429.2,125.6 428.6,126.5 428.1,125.5 427.5,125.5 427.0,124.8 426.4,125.4 425.9,124.5 425.3,123.4 424.8,123.5 424.2,123.8 423.7,123.4 423.1,126.9 422.6,123.3 422.0,122.9 421.5,125.4 420.9,122.8 420.4,123.9 419.8,124.2 419.3,124.2 418.7,121.7 418.2,123.2 417.6,123.0 417.1,123.5 416.5,123.5 416.0,123.6 415.4,124.0 414.9,124.8 414.3,123.5 413.8,122.8 413.2,124.7 412.7,123.7 412.1,124.8 411.6,124.7 411.0,124.2 410.5,124.7 409.9,125.1 409.4,126.2 408.8,126.1 408.3,123.9 407.7,123.7 407.2,123.9 406.6,122.7 406.1,125.0 405.5,126.0 405.0,126.0 404.4,124.4 403.9,126.0 403.3,125.6 402.8,125.5 402.2,125.0 401.7,124.5 401.1,124.1 400.6,123.9 400.0,124.5 399.5,125.0 398.9,125.0 398.4,127.1 397.8,129.8 397.3,125.0 396.7,124.9 396.2,125.2 395.6,123.8 395.1,122.8 394.5,124.5 394.0,124.6 393.4,125.5 392.9,124.6 392.3,125.7 391.8,124.3 391.2,123.4 390.7,124.3 390.1,125.0 389.6,126.6 389.0,127.4 388.5,125.4 387.9,125.0 387.4,125.9 386.8,127.2 386.3,127.0 385.7,124.4 385.2,125.6 384.6,125.3 384.1,124.1 383.5,124.4 383.0,125.5 382.4,124.1 381.9,124.4 381.3,124.2 380.8,126.4 380.2,123.6 379.7,126.4 379.1,125.4 378.6,125.4 378.0,124.2 377.5,125.6 376.9,124.6 376.4,124.3 375.8,124.9 375.3,124.5 374.7,123.1 374.2,123.8 373.6,123.5 373.1,125.0 372.5,123.5 372.0,123.0 371.4,124.7 370.9,124.9 370.3,124.9 369.8,127.7 369.2,127.7 368.7,125.4 368.1,124.5 367.6,125.4 367.0,124.9 366.5,125.0 365.9,124.8 365.4,124.7 364.8,124.0 364.3,124.6 363.7,123.8 363.2,123.5 362.6,123.4 362.1,122.8 361.5,121.5 361.0,123.0 360.4,123.5 359.9,122.7 359.3,125.0 358.8,125.2 358.2,124.4 357.7,122.9 357.1,125.2 356.6,124.9 356.0,124.1 355.5,124.1 354.9,124.3 354.4,124.1 353.8,122.9 353.3,124.1 352.7,124.7 352.2,126.1 351.6,123.2 351.1,124.0 350.5,126.4 350.0,124.9 349.4,125.1 348.9,124.7 348.3,124.9 347.8,126.1 347.2,126.2 346.7,123.1 346.1,122.0 345.6,123.2 345.0,121.3 344.5,121.5 343.9,122.6 343.4,123.0 342.8,125.1 342.3,124.9 341.7,126.0 341.2,125.7 340.6,125.8 340.1,126.6 339.5,124.6 339.0,125.3 338.4,126.4 337.9,124.4 337.3,125.2 336.8,125.0 336.2,125.9 335.7,124.4 335.1,125.7 334.6,128.1 334.0,125.7 333.5,126.0 332.9,125.4 332.4,124.5 331.8,125.0 331.3,123.6 330.7,125.0 330.2,123.8 329.6,123.2 329.1,125.2 328.5,123.2Z" fill="#000" stroke="#000" stroke-width="0.6" stroke-linejoin="round"/><text x="323.5" y="128.7" text-anchor="end" class="tl">2</text><path d="M328.3,176.4 328.9,176.5 329.4,177.8 330.0,178.5 330.5,178.8 331.1,179.3 331.6,176.4 332.2,174.8 332.7,178.2 333.3,177.6 333.8,177.8 334.4,176.7 334.9,177.7 335.5,177.3 336.0,178.2 336.6,176.6 337.1,175.6 337.7,176.0 338.2,177.4 338.8,176.7 339.3,177.7 339.9,177.2 340.4,177.2 341.0,178.0 341.5,176.6 342.1,173.8 342.6,176.3 343.2,176.0 343.7,175.9 344.3,177.5 344.8,174.9 345.4,179.3 345.9,179.1 346.5,177.5 347.0,176.4 347.6,173.8 348.1,177.6 348.7,176.7 349.2,176.8 349.8,175.5 350.3,177.1 350.9,177.7 351.4,176.2 352.0,176.7 352.5,177.9 353.1,177.9 353.6,176.1 354.2,175.8 354.7,177.1 355.3,177.9 355.8,177.4 356.4,176.5 356.9,176.7 357.5,177.2 358.0,177.0 358.6,176.8 359.1,176.3 359.7,176.8 360.2,177.7 360.8,175.9 361.3,178.0 361.9,177.4 362.4,176.1 363.0,175.7 363.5,175.7 364.1,175.5 364.6,176.6 365.2,176.9 365.7,176.4 366.3,177.4 366.8,177.1 367.4,175.3 367.9,176.5 368.5,176.5 369.0,177.4 369.6,177.2 370.1,175.3 370.7,177.1 371.2,176.7 371.8,178.4 372.3,175.8 372.9,178.3 373.4,175.9 374.0,173.3 374.5,175.9 375.1,174.9 375.6,177.0 376.2,176.8 376.7,178.7 377.3,177.9 377.8,177.7 378.4,177.5 378.9,178.9 379.5,176.8 380.0,176.2 380.6,176.5 381.1,176.1 381.7,177.2 382.2,176.0 382.8,176.4 383.3,175.5 383.9,177.0 384.4,176.5 385.0,176.7 385.5,176.0 386.1,177.5 386.6,177.9 387.2,179.3 387.7,178.3 388.3,177.8 388.8,176.1 389.4,178.4 389.9,177.4 390.5,177.3 391.0,174.4 391.6,176.9 392.1,177.9 392.7,177.8 393.2,176.5 393.8,176.5 394.3,175.0 394.9,176.7 395.4,175.9 396.0,175.9 396.5,175.8 397.1,175.5 397.6,174.8 398.2,176.1 398.7,176.0 399.3,176.4 399.8,176.9 400.4,177.1 400.9,175.4 401.5,173.6 402.0,175.1 402.6,173.6 403.1,176.2 403.7,175.7 404.2,174.9 404.8,176.5 405.3,175.7 405.9,177.0 406.4,175.8 407.0,175.4 407.5,175.5 408.1,178.0 408.6,177.0 409.2,179.3 409.7,178.7 410.3,178.1 410.8,175.0 411.4,176.4 411.9,176.6 412.5,178.7 413.0,176.3 413.6,176.8 414.1,176.4 414.7,177.8 415.2,176.2 415.8,175.9 416.3,174.4 416.9,175.7 417.4,174.1 418.0,178.0 418.5,177.9 419.1,178.6 419.6,178.3 420.2,177.8 420.7,178.6 421.3,177.7 421.8,177.6 422.4,177.5 422.9,177.7 423.5,177.2 424.0,177.9 424.6,177.2 425.1,179.4 425.7,176.3 426.2,177.9 426.8,177.7 427.3,178.5 427.9,179.1 428.4,178.2 429.0,177.3 429.5,175.2 430.1,175.4 430.6,174.0 431.2,175.4 431.7,175.7 432.3,177.8 432.8,177.0 433.4,178.3 433.9,177.7 434.5,175.7 435.0,176.1 435.6,176.8 436.1,173.1 436.7,175.0 437.2,176.2 437.8,176.7 438.3,177.4 438.9,177.1 439.4,178.2 440.0,177.0 440.5,177.3 441.1,177.2 441.6,176.4 442.2,177.0 442.7,175.4 443.3,174.0 443.8,175.5 444.4,174.2 444.9,174.0 445.5,174.1 446.0,175.4 446.6,177.7 447.1,177.2 447.7,176.7 448.2,176.5 448.8,177.4 449.3,175.5 449.9,175.2 450.4,176.1 451.0,175.2 451.5,175.0 452.1,176.7 452.6,178.0 453.2,176.2 453.7,177.0 454.3,175.4 454.8,175.5 455.4,177.2 455.9,177.6 456.5,177.4 457.0,178.1 457.6,178.2 458.1,179.6 458.7,179.6 459.2,178.8 459.8,176.8 460.3,178.0 460.9,177.3 461.4,179.4 462.0,178.1 462.5,176.0 463.1,176.7 463.6,177.6 464.2,177.7 464.7,177.6 465.3,175.8 465.8,177.4 466.4,176.0 466.9,177.2 467.5,176.6 468.0,177.5 468.6,176.3 469.1,178.3 469.7,176.7 470.2,177.3 470.8,175.4 471.3,176.8 471.9,176.7 472.4,176.3 473.0,175.3 473.5,176.9 474.1,178.0 474.6,173.4 475.2,176.0 475.7,177.2 476.3,179.1 476.8,175.6 477.4,175.4 477.9,177.2 478.5,175.9 479.0,176.5 479.6,179.2 480.1,177.0 480.7,176.5 481.2,177.9 481.8,178.3 482.3,176.8 482.9,177.9 483.4,176.5 484.0,175.8 484.5,175.1 485.1,176.1 485.6,176.6 486.2,173.7 486.7,173.6 487.3,178.2 487.8,177.4 488.4,176.6 488.9,175.4 489.5,175.8 490.0,175.5 490.6,174.6 491.1,175.3 491.7,176.2 492.2,176.4 492.8,176.6 493.3,175.4 493.9,176.8 494.4,177.1 495.0,176.4 495.5,176.6 496.1,176.1 496.6,176.3 497.2,176.6 497.7,174.8 498.3,175.8 498.8,175.8 499.4,177.6 499.9,178.2 500.5,179.9 501.0,178.2 501.6,178.9 502.1,178.1 502.7,178.2 503.2,177.0 503.8,178.7 504.3,176.1 504.9,178.1 505.4,176.4 506.0,176.9 506.5,176.8 507.1,177.5 507.6,177.5 508.2,175.2 508.7,175.8 509.3,173.4 509.8,176.5 510.4,179.0 510.9,177.8 511.5,176.5 512.0,176.6 512.6,178.5 513.1,178.1 513.7,176.3 514.2,173.9 514.8,177.9 515.3,178.9 515.9,176.8 516.4,177.5 517.0,177.8 517.5,178.3 518.1,179.2 518.6,178.0 519.2,176.9 519.7,177.6 520.3,175.8 520.8,176.0 521.4,176.8 521.9,175.3 522.5,175.2 523.0,173.0 523.6,174.9 524.1,172.1 524.7,177.1 525.2,177.4 525.8,176.9 526.3,178.1 526.9,177.7 527.4,177.6 528.0,179.3 528.5,178.3 529.1,179.2 529.6,177.9 530.2,179.0 530.7,177.0 531.3,176.2 531.8,173.6 532.4,175.6 532.9,176.5 533.5,177.3 534.0,177.0 534.6,177.6 535.1,176.0 535.7,177.4 536.2,176.6 536.8,172.6 537.3,177.9 537.9,177.3 538.4,175.3 539.0,177.2 539.5,177.7 540.1,179.3 540.6,177.5 541.2,179.2 541.7,179.1 542.3,178.2 542.8,177.4 543.4,173.1 543.9,175.8 544.5,176.8 545.0,177.0 545.6,177.7 546.1,178.1 546.7,176.9 547.2,178.1 547.8,176.2 548.3,177.6 548.9,175.5 549.4,175.9 550.0,178.8 550.5,176.2 551.1,175.3 551.6,177.1 552.2,176.1 552.7,176.3 553.3,176.0 553.8,176.7 554.4,175.2 554.9,175.8 555.5,176.6 556.0,176.3 556.6,176.9 557.1,176.8 557.6,176.6 558.2,177.2 558.7,177.9 559.3,177.4 559.8,176.5 560.4,176.9 560.9,179.0 561.5,173.5 562.0,176.1 562.6,177.0 563.1,178.0 563.7,177.3 564.2,177.5 564.8,175.3 565.3,177.0 565.9,176.3 566.4,173.0 567.0,175.9 567.5,175.2 568.1,175.1 568.6,177.5 569.2,176.2 569.7,178.2 570.3,176.6 570.8,178.5 571.4,178.9 571.9,177.5 572.5,176.4 573.0,177.6 573.6,177.5 574.1,175.5 574.7,178.0 575.2,177.1 575.8,176.0 576.3,176.2 576.9,174.3 577.4,174.6 578.0,176.0 578.5,175.8 579.1,173.9 579.6,178.5 580.2,177.2 580.7,176.4 581.3,175.8 581.8,176.2 582.4,177.5 582.9,177.1 583.5,177.9 584.0,177.0 584.6,177.8 585.1,178.2 585.7,177.1 586.2,176.7 586.8,176.9 587.3,175.1 587.9,176.3 588.4,176.9 589.0,177.5 589.5,175.4 590.1,179.4 590.6,177.9 591.2,178.1 591.7,176.6 592.3,175.2 592.8,174.0 593.4,175.4 593.9,175.7 594.5,177.4 595.0,178.3 595.6,178.3 596.1,175.5 596.7,176.1 597.2,176.1 597.8,175.2 598.3,171.9 598.9,174.8 599.4,179.1 600.0,178.4 600.5,177.8 601.1,178.9 601.6,178.1 602.2,177.5 602.7,176.4 603.3,176.5 603.8,176.8 604.4,176.9 604.9,179.6 605.5,179.0 606.0,179.7 606.6,179.3 607.1,176.6 607.7,176.9 608.2,176.3 608.8,177.6 609.3,178.1 609.9,174.2 610.4,177.8 611.0,176.9 611.5,178.7 612.1,177.2 612.6,177.3 613.2,177.8 613.7,176.6 614.3,176.2 614.8,175.5 615.4,176.6 615.9,177.1 616.5,177.7 617.0,177.5 617.6,177.8 618.1,178.3 618.7,179.0 619.2,178.6 619.8,177.1 620.3,176.0 620.9,176.7 621.4,176.0 622.0,176.1 622.5,177.0 623.1,178.5 623.6,176.6 624.2,177.6 624.7,176.6 625.3,176.8 625.8,175.4 626.4,176.4 626.9,175.5 627.5,178.8 628.0,177.2 628.6,175.4 629.1,177.1 629.7,178.6 630.2,177.9 630.8,178.1 631.3,177.9 631.9,177.8 632.4,178.7 633.0,176.9 633.5,175.6 634.1,177.6 634.6,176.8 635.2,175.3 635.7,173.7 636.3,176.1 636.8,175.3 637.4,176.4 637.9,177.7 638.5,178.0 639.0,177.9 639.6,176.3 640.1,177.4 640.7,176.5 641.2,176.9 641.8,177.3 642.3,177.6 642.9,176.7 643.4,177.1 644.0,176.8 644.5,177.9 645.1,178.0 645.6,178.7 646.2,177.8 646.7,174.8 647.3,174.7 647.8,176.9 648.4,175.5 648.9,176.6 649.5,177.7 650.0,178.2 650.6,177.1 651.1,177.9 651.7,177.1 652.2,177.0 652.8,176.6 653.3,178.9 653.9,178.7 654.4,177.4 655.0,177.0 655.5,178.3 656.1,176.1 656.6,176.4 657.2,175.1 657.7,175.3 658.3,176.7 658.8,176.5 659.4,177.1 659.9,176.8 660.5,178.2 661.0,177.8 661.6,178.0 662.1,177.6 662.7,176.6 663.2,175.7 663.8,174.4 664.3,174.3 664.9,174.4 665.4,175.9 666.0,176.0 666.5,173.5 667.1,176.6 667.6,174.1 668.2,178.2 668.7,178.1 669.3,177.6 669.8,178.1 670.4,178.0 670.9,178.3 671.5,178.0 672.0,176.5 672.6,176.1 673.1,175.0 673.7,173.6 674.2,177.0 674.8,178.3 675.3,177.5 675.9,178.0 676.4,175.9 677.0,176.1 677.5,176.5 678.1,176.8 678.6,178.4 679.2,178.2 679.7,176.0 680.3,177.3 680.8,176.1 681.4,174.0 681.9,174.4 682.5,174.4 683.0,176.6 683.6,175.4 684.1,176.3 684.7,175.8 685.2,176.6 685.8,178.3 686.3,177.4 686.9,178.2 687.4,176.9 688.0,177.9 688.5,173.6 689.1,175.6 689.6,176.5 690.2,175.5 690.7,177.0 690.7,180.7 690.2,178.8 689.6,180.0 689.1,179.0 688.5,179.8 688.0,181.8 687.4,181.9 686.9,181.4 686.3,180.9 685.8,182.0 685.2,180.6 684.7,179.3 684.1,179.4 683.6,179.6 683.0,180.8 682.5,179.0 681.9,177.9 681.4,179.0 680.8,179.4 680.3,181.1 679.7,180.9 679.2,184.9 678.6,181.6 678.1,181.8 677.5,180.7 677.0,179.5 676.4,179.4 675.9,181.7 675.3,180.6 674.8,181.8 674.2,181.4 673.7,179.8 673.1,180.7 672.6,182.3 672.0,180.0 671.5,181.8 670.9,181.9 670.4,182.6 669.8,182.5 669.3,181.5 668.7,182.1 668.2,182.7 667.6,180.3 667.1,180.0 666.5,179.4 666.0,180.3 665.4,179.7 664.9,181.1 664.3,179.4 663.8,179.2 663.2,178.8 662.7,179.9 662.1,181.3 661.6,183.1 661.0,182.1 660.5,181.8 659.9,181.1 659.4,180.9 658.8,180.3 658.3,181.0 657.7,180.4 657.2,179.3 656.6,180.2 656.1,180.1 655.5,182.3 655.0,181.3 654.4,180.8 653.9,184.4 653.3,183.0 652.8,181.7 652.2,180.2 651.7,181.3 651.1,181.0 650.6,182.4 650.0,181.2 649.5,183.4 648.9,180.8 648.4,179.1 647.8,180.9 647.3,180.6 646.7,178.8 646.2,184.5 645.6,182.2 645.1,181.6 644.5,183.2 644.0,179.9 643.4,181.3 642.9,180.1 642.3,181.8 641.8,181.1 641.2,182.9 640.7,180.7 640.1,180.4 639.6,181.2 639.0,181.3 638.5,181.9 637.9,181.3 637.4,180.7 636.8,178.4 636.3,181.0 635.7,180.3 635.2,181.6 634.6,181.0 634.1,183.9 633.5,180.2 633.0,180.4 632.4,182.5 631.9,181.9 631.3,181.6 630.8,182.1 630.2,181.6 629.7,182.4 629.1,180.9 628.6,181.5 628.0,181.3 627.5,183.6 626.9,180.0 626.4,180.0 625.8,180.1 625.3,181.4 624.7,180.4 624.2,181.2 623.6,180.9 623.1,181.9 622.5,181.2 622.0,179.5 621.4,179.8 620.9,180.1 620.3,180.3 619.8,181.1 619.2,181.8 618.7,183.0 618.1,182.1 617.6,182.1 617.0,181.8 616.5,183.7 615.9,181.5 615.4,179.8 614.8,181.5 614.3,181.0 613.7,180.4 613.2,182.2 612.6,180.6 612.1,181.1 611.5,182.5 611.0,181.5 610.4,180.8 609.9,181.7 609.3,181.8 608.8,180.9 608.2,180.3 607.7,180.6 607.1,180.6 606.6,182.8 606.0,183.1 605.5,182.9 604.9,183.9 604.4,181.9 603.8,180.4 603.3,180.5 602.7,179.7 602.2,181.3 601.6,182.2 601.1,182.7 600.5,181.3 600.0,181.8 599.4,182.5 598.9,181.3 598.3,178.6 597.8,178.9 597.2,180.3 596.7,179.9 596.1,181.3 595.6,182.1 595.0,181.4 594.5,182.4 593.9,179.8 593.4,179.4 592.8,178.3 592.3,180.9 591.7,180.1 591.2,183.2 590.6,181.9 590.1,183.1 589.5,180.6 589.0,180.9 588.4,181.5 587.9,180.5 587.3,179.5 586.8,181.0 586.2,180.0 585.7,180.8 585.1,184.3 584.6,182.6 584.0,181.1 583.5,181.8 582.9,180.9 582.4,181.8 581.8,180.4 581.3,179.2 580.7,179.6 580.2,181.4 579.6,182.6 579.1,178.6 578.5,179.4 578.0,179.5 577.4,178.6 576.9,177.7 576.3,180.0 575.8,179.6 575.2,181.4 574.7,181.6 574.1,182.9 573.6,181.0 573.0,181.5 572.5,180.2 571.9,182.0 571.4,182.1 570.8,182.5 570.3,180.3 569.7,182.1 569.2,182.9 568.6,180.7 568.1,178.3 567.5,180.1 567.0,179.3 566.4,178.4 565.9,180.4 565.3,180.3 564.8,179.1 564.2,181.1 563.7,180.9 563.1,182.0 562.6,180.6 562.0,179.7 561.5,180.1 560.9,182.2 560.4,180.1 559.8,181.5 559.3,181.4 558.7,182.4 558.2,181.8 557.6,180.6 557.1,180.3 556.6,180.9 556.0,180.1 555.5,180.4 554.9,180.4 554.4,180.2 553.8,180.2 553.3,181.1 552.7,179.9 552.2,179.6 551.6,180.2 551.1,179.3 550.5,179.6 550.0,181.8 549.4,179.9 548.9,179.7 548.3,181.0 547.8,181.5 547.2,181.2 546.7,180.8 546.1,182.8 545.6,181.7 545.0,181.3 544.5,181.6 543.9,179.2 543.4,180.2 542.8,183.2 542.3,182.9 541.7,182.4 541.2,183.6 540.6,180.9 540.1,182.9 539.5,182.3 539.0,181.3 538.4,179.7 537.9,180.3 537.3,183.7 536.8,179.0 536.2,181.1 535.7,180.8 535.1,180.2 534.6,182.6 534.0,180.6 533.5,182.3 532.9,180.1 532.4,179.5 531.8,180.5 531.3,180.1 530.7,182.0 530.2,183.3 529.6,181.7 529.1,182.3 528.5,183.0 528.0,183.5 527.4,182.5 526.9,181.0 526.3,182.0 525.8,180.7 525.2,180.7 524.7,181.0 524.1,178.4 523.6,179.7 523.0,178.7 522.5,178.4 521.9,179.0 521.4,180.7 520.8,180.0 520.3,180.8 519.7,181.0 519.2,183.1 518.6,181.1 518.1,182.8 517.5,182.0 517.0,182.8 516.4,181.1 515.9,181.5 515.3,182.1 514.8,181.8 514.2,180.8 513.7,180.0 513.1,181.6 512.6,182.0 512.0,181.0 511.5,179.8 510.9,184.3 510.4,182.4 509.8,180.9 509.3,179.4 508.7,179.5 508.2,180.1 507.6,181.0 507.1,180.8 506.5,179.9 506.0,180.9 505.4,180.6 504.9,181.5 504.3,180.9 503.8,182.4 503.2,180.6 502.7,184.2 502.1,183.4 501.6,183.5 501.0,182.9 500.5,183.0 499.9,184.3 499.4,180.9 498.8,179.4 498.3,179.2 497.7,179.7 497.2,181.0 496.6,180.6 496.1,180.4 495.5,183.2 495.0,181.4 494.4,180.8 493.9,180.7 493.3,180.5 492.8,180.9 492.2,180.0 491.7,179.6 491.1,179.2 490.6,180.9 490.0,180.1 489.5,179.6 488.9,181.2 488.4,180.8 487.8,181.5 487.3,182.3 486.7,179.3 486.2,180.7 485.6,180.4 485.1,179.3 484.5,178.4 484.0,179.9 483.4,181.3 482.9,181.7 482.3,181.1 481.8,182.0 481.2,181.2 480.7,180.1 480.1,180.4 479.6,182.9 479.0,180.0 478.5,179.1 477.9,180.7 477.4,180.4 476.8,181.3 476.3,182.1 475.7,180.7 475.2,180.3 474.6,179.7 474.1,182.3 473.5,180.6 473.0,179.7 472.4,180.0 471.9,181.7 471.3,180.5 470.8,180.4 470.2,183.1 469.7,182.5 469.1,181.6 468.6,181.6 468.0,182.2 467.5,182.1 466.9,181.5 466.4,180.2 465.8,181.4 465.3,179.4 464.7,181.7 464.2,180.7 463.6,181.1 463.1,183.3 462.5,180.6 462.0,181.7 461.4,183.0 460.9,181.4 460.3,182.0 459.8,180.2 459.2,182.5 458.7,183.0 458.1,182.6 457.6,182.2 457.0,181.4 456.5,180.6 455.9,181.3 455.4,180.2 454.8,178.8 454.3,179.1 453.7,180.8 453.2,181.1 452.6,181.6 452.1,181.0 451.5,179.4 451.0,179.6 450.4,179.3 449.9,178.9 449.3,179.2 448.8,180.9 448.2,181.0 447.7,180.2 447.1,181.9 446.6,181.3 446.0,179.5 445.5,179.5 444.9,178.3 444.4,177.5 443.8,179.7 443.3,178.4 442.7,179.5 442.2,180.3 441.6,179.9 441.1,182.1 440.5,181.0 440.0,180.4 439.4,182.0 438.9,181.1 438.3,180.6 437.8,180.5 437.2,180.4 436.7,180.0 436.1,177.9 435.6,180.5 435.0,183.5 434.5,182.0 433.9,180.9 433.4,181.6 432.8,181.0 432.3,183.7 431.7,181.8 431.2,179.1 430.6,180.1 430.1,179.5 429.5,181.2 429.0,181.5 428.4,181.6 427.9,182.9 427.3,182.0 426.8,181.2 426.2,180.9 425.7,181.8 425.1,183.5 424.6,181.8 424.0,182.2 423.5,181.3 422.9,183.7 422.4,181.9 421.8,180.6 421.3,181.1 420.7,182.2 420.2,181.9 419.6,181.9 419.1,182.4 418.5,182.4 418.0,180.9 417.4,181.3 416.9,179.4 416.3,178.7 415.8,179.9 415.2,179.3 414.7,181.6 414.1,180.1 413.6,181.5 413.0,179.5 412.5,182.3 411.9,181.9 411.4,180.7 410.8,181.4 410.3,181.7 409.7,182.1 409.2,184.5 408.6,180.8 408.1,181.3 407.5,180.0 407.0,179.4 406.4,180.8 405.9,183.5 405.3,179.6 404.8,180.2 404.2,178.8 403.7,179.8 403.1,179.4 402.6,178.6 402.0,178.4 401.5,180.8 400.9,179.4 400.4,180.5 399.8,180.6 399.3,180.7 398.7,180.5 398.2,179.5 397.6,178.6 397.1,179.4 396.5,179.0 396.0,179.6 395.4,179.8 394.9,180.3 394.3,179.4 393.8,180.9 393.2,182.5 392.7,181.3 392.1,181.3 391.6,179.9 391.0,180.0 390.5,181.0 389.9,181.2 389.4,182.3 388.8,181.6 388.3,181.9 387.7,184.3 387.2,182.6 386.6,182.7 386.1,184.5 385.5,180.5 385.0,180.7 384.4,180.3 383.9,180.4 383.3,182.4 382.8,180.4 382.2,180.8 381.7,183.3 381.1,179.6 380.6,180.8 380.0,179.4 379.5,180.7 378.9,182.7 378.4,184.1 377.8,181.0 377.3,184.6 376.7,182.1 376.2,180.0 375.6,181.0 375.1,182.2 374.5,179.9 374.0,180.0 373.4,179.7 372.9,181.4 372.3,181.5 371.8,183.6 371.2,180.4 370.7,181.9 370.1,179.3 369.6,181.5 369.0,181.1 368.5,182.8 367.9,181.1 367.4,180.0 366.8,180.3 366.3,181.6 365.7,180.5 365.2,180.8 364.6,179.7 364.1,180.0 363.5,179.6 363.0,180.7 362.4,182.5 361.9,180.7 361.3,181.3 360.8,182.2 360.2,181.7 359.7,180.0 359.1,179.8 358.6,180.6 358.0,180.6 357.5,180.3 356.9,182.0 356.4,180.5 355.8,180.7 355.3,181.1 354.7,180.8 354.2,179.7 353.6,179.9 353.1,181.9 352.5,181.6 352.0,180.4 351.4,182.9 350.9,181.3 350.3,181.2 349.8,182.2 349.2,180.7 348.7,180.2 348.1,181.1 347.6,181.4 347.0,181.0 346.5,180.9 345.9,182.8 345.4,183.3 344.8,181.5 344.3,181.0 343.7,180.5 343.2,179.7 342.6,179.9 342.1,180.0 341.5,180.0 341.0,182.2 340.4,180.4 339.9,181.4 339.3,180.8 338.8,181.5 338.2,180.6 337.7,179.3 337.1,179.3 336.6,181.4 336.0,181.3 335.5,182.1 334.9,180.9 334.4,180.9 333.8,182.6 333.3,180.6 332.7,181.7 332.2,182.3 331.6,180.9 331.1,182.7 330.5,182.9 330.0,182.2 329.4,181.2 328.9,180.5 328.3,180.4Z" fill="#000" stroke="#000" stroke-width="0.6" stroke-linejoin="round"/><text x="323.5" y="185.1" text-anchor="end" class="tl">3</text><path d="M329.0,231.0 329.6,232.2 330.1,233.5 330.7,232.1 331.2,231.6 331.8,231.8 332.3,232.8 332.9,232.2 333.4,232.3 334.0,233.9 334.5,233.7 335.1,231.6 335.6,233.4 336.2,232.9 336.7,231.4 337.3,232.9 337.8,233.6 338.4,233.8 338.9,233.6 339.5,233.7 340.0,233.5 340.6,232.2 341.1,233.0 341.7,231.2 342.2,232.2 342.8,233.7 343.3,231.5 343.9,233.4 344.4,234.7 345.0,235.0 345.5,234.5 346.1,233.2 346.6,231.8 347.2,234.2 347.7,234.2 348.3,236.4 348.8,234.8 349.4,233.9 349.9,235.0 350.5,234.7 351.0,234.2 351.6,232.3 352.1,233.3 352.7,233.1 353.2,231.8 353.8,232.4 354.3,233.1 354.9,233.4 355.4,233.2 356.0,234.3 356.5,233.4 357.1,234.3 357.6,234.1 358.2,234.0 358.7,233.5 359.3,231.2 359.8,232.9 360.4,233.1 360.9,234.0 361.5,233.3 362.0,232.5 362.6,231.2 363.1,232.6 363.7,234.1 364.2,234.1 364.8,233.2 365.3,234.2 365.9,233.7 366.4,231.2 367.0,232.8 367.5,230.1 368.1,231.6 368.6,232.5 369.2,231.6 369.7,232.4 370.3,232.7 370.8,233.8 371.4,233.6 371.9,234.0 372.5,232.7 373.0,232.7 373.6,232.2 374.1,232.9 374.7,234.0 375.2,233.4 375.8,233.3 376.3,232.7 376.9,231.1 377.4,232.1 378.0,233.5 378.5,232.3 379.1,232.5 379.6,231.1 380.2,234.1 380.7,233.5 381.3,236.0 381.8,233.0 382.4,232.9 382.9,233.4 383.5,234.7 384.0,234.6 384.6,233.0 385.1,232.8 385.7,233.2 386.2,233.3 386.8,232.7 387.3,234.8 387.9,234.9 388.4,234.1 389.0,233.4 389.5,231.6 390.1,233.4 390.6,231.2 391.2,233.6 391.7,233.6 392.3,230.2 392.8,231.2 393.4,232.4 393.9,231.1 394.5,232.5 395.0,231.8 395.6,234.8 396.1,234.7 396.7,233.2 397.2,232.6 397.8,233.9 398.3,232.0 398.9,233.2 399.4,232.8 400.0,234.2 400.5,233.4 401.1,233.0 401.6,233.8 402.2,234.4 402.7,233.3 403.3,233.7 403.8,232.0 404.4,230.6 404.9,233.0 405.5,234.3 406.0,233.5 406.6,231.4 407.1,233.2 407.7,232.7 408.2,231.1 408.8,233.5 409.3,234.3 409.9,231.6 410.4,231.8 411.0,232.2 411.5,233.4 412.1,231.4 412.6,232.1 413.2,232.0 413.7,234.0 414.3,231.7 414.8,231.7 415.4,232.0 415.9,232.8 416.5,231.5 417.0,232.7 417.6,232.6 418.1,231.9 418.7,232.9 419.2,231.9 419.8,233.1 420.3,234.2 420.9,235.0 421.4,235.3 422.0,234.3 422.5,234.9 423.1,233.9 423.6,235.0 424.2,233.1 424.7,231.4 425.3,232.7 425.8,231.9 426.4,231.7 426.9,231.8 427.5,231.3 428.0,234.2 428.6,235.5 429.1,235.2 429.7,234.6 430.2,233.3 430.8,232.4 431.3,230.1 431.9,233.4 432.4,232.3 433.0,231.8 433.5,233.6 434.1,234.7 434.6,234.5 435.2,233.8 435.7,233.9 436.3,232.0 436.8,232.5 437.4,232.4 437.9,232.9 438.5,230.9 439.0,232.4 439.6,232.4 440.1,232.3 440.7,233.5 441.2,232.0 441.8,233.1 442.3,234.1 442.9,233.3 443.4,234.5 444.0,233.1 444.5,232.9 445.1,233.3 445.6,231.1 446.2,231.5 446.7,232.4 447.3,234.8 447.8,235.1 448.4,235.1 448.9,231.3 449.5,232.6 450.0,233.0 450.6,232.7 451.1,234.0 451.7,233.9 452.2,235.2 452.8,233.7 453.3,233.1 453.9,234.0 454.4,231.3 455.0,232.9 455.5,234.3 456.1,235.9 456.6,234.5 457.2,232.0 457.7,232.0 458.3,233.3 458.8,234.5 459.4,236.0 459.9,234.1 460.5,234.9 461.0,234.3 461.6,233.1 462.1,233.4 462.7,232.8 463.2,232.6 463.8,230.5 464.3,232.2 464.9,232.4 465.4,231.8 466.0,233.1 466.5,232.6 467.1,232.8 467.6,231.4 468.2,229.9 468.7,232.7 469.3,232.7 469.8,232.8 470.4,232.2 470.9,232.2 471.5,232.5 472.0,234.1 472.6,233.6 473.1,235.6 473.7,233.6 474.2,233.1 474.8,231.9 475.3,233.5 475.9,231.8 476.4,233.5 477.0,232.2 477.5,231.8 478.1,233.5 478.6,233.5 479.2,235.7 479.7,234.0 480.3,234.0 480.8,235.4 481.4,234.2 481.9,233.5 482.5,232.2 483.0,230.7 483.6,232.9 484.1,232.1 484.7,233.5 485.2,233.3 485.8,233.3 486.3,234.0 486.9,232.5 487.4,231.9 488.0,232.6 488.5,232.0 489.1,233.4 489.6,233.0 490.2,231.6 490.7,232.9 491.3,232.7 491.8,233.3 492.4,234.5 492.9,231.5 493.5,232.7 494.0,233.3 494.6,233.1 495.1,234.3 495.7,233.2 496.2,234.2 496.8,236.1 497.3,234.2 497.9,235.3 498.4,234.6 499.0,234.1 499.5,231.3 500.1,232.9 500.6,233.8 501.2,231.8 501.7,230.7 502.3,233.1 502.8,232.5 503.4,229.0 503.9,232.1 504.5,230.9 505.0,232.7 505.6,232.8 506.1,232.9 506.7,231.8 507.2,232.3 507.8,233.6 508.3,233.8 508.9,232.1 509.4,231.8 510.0,232.1 510.5,234.4 511.1,233.7 511.6,231.0 512.2,230.6 512.7,232.5 513.3,232.7 513.8,230.8 514.4,230.6 514.9,231.2 515.5,232.7 516.0,231.5 516.6,232.1 517.1,232.3 517.7,233.9 518.2,234.1 518.8,232.8 519.3,232.2 519.9,232.5 520.4,234.5 521.0,232.9 521.5,232.7 522.1,234.0 522.6,230.7 523.2,231.9 523.7,231.7 524.3,232.9 524.8,233.6 525.4,235.1 525.9,233.7 526.5,234.4 527.0,233.5 527.6,231.0 528.1,231.6 528.7,233.3 529.2,233.1 529.8,233.8 530.3,233.3 530.9,233.5 531.4,232.7 532.0,233.0 532.5,232.2 533.1,234.1 533.6,232.6 534.2,233.4 534.7,232.9 535.3,231.6 535.8,232.9 536.4,232.2 536.9,232.5 537.5,231.9 538.0,234.5 538.6,233.2 539.1,233.9 539.7,232.7 540.2,233.8 540.8,233.2 541.3,230.0 541.9,232.5 542.4,232.5 543.0,231.1 543.5,232.6 544.1,233.5 544.6,233.0 545.2,234.5 545.7,234.5 546.3,235.3 546.8,235.3 547.4,235.5 547.9,235.0 548.5,233.3 549.0,233.3 549.6,232.7 550.1,232.6 550.7,234.3 551.2,234.4 551.8,234.3 552.3,233.8 552.9,233.1 553.4,233.5 554.0,234.0 554.5,234.1 555.1,231.6 555.6,235.4 556.2,234.7 556.7,235.3 557.2,233.9 557.8,232.0 558.3,233.8 558.9,233.3 559.4,232.6 560.0,231.0 560.5,235.6 561.1,232.9 561.6,234.0 562.2,233.1 562.7,233.5 563.3,234.3 563.8,233.1 564.4,231.1 564.9,233.4 565.5,231.8 566.0,233.4 566.6,232.2 567.1,232.5 567.7,233.1 568.2,233.7 568.8,234.2 569.3,233.6 569.9,233.4 570.4,233.6 571.0,229.8 571.5,231.6 572.1,233.2 572.6,233.2 573.2,233.3 573.7,232.7 574.3,232.4 574.8,233.2 575.4,232.7 575.9,232.4 576.5,230.7 577.0,233.3 577.6,232.9 578.1,233.1 578.7,233.3 579.2,234.6 579.8,234.1 580.3,233.5 580.9,233.9 581.4,233.1 582.0,233.8 582.5,234.8 583.1,233.6 583.6,233.8 584.2,233.9 584.7,232.9 585.3,232.1 585.8,229.7 586.4,233.4 586.9,233.9 587.5,233.6 588.0,233.0 588.6,233.3 589.1,234.0 589.7,235.2 590.2,234.1 590.8,232.8 591.3,232.2 591.9,232.3 592.4,232.1 593.0,232.6 593.5,233.5 594.1,233.8 594.6,234.9 595.2,236.6 595.7,235.5 596.3,234.5 596.8,232.1 597.4,231.2 597.9,232.1 598.5,233.5 599.0,232.0 599.6,234.1 600.1,233.0 600.7,234.5 601.2,233.3 601.8,232.7 602.3,232.5 602.9,231.9 603.4,231.8 604.0,231.7 604.5,231.8 605.1,235.2 605.6,231.2 606.2,234.0 606.7,234.6 607.3,234.6 607.8,232.4 608.4,235.4 608.9,234.9 609.5,233.6 610.0,234.3 610.6,233.6 611.1,234.5 611.7,234.5 612.2,233.9 612.8,234.6 613.3,234.5 613.9,236.7 614.4,235.3 615.0,235.4 615.5,235.2 616.1,232.7 616.6,231.8 617.2,231.8 617.7,234.8 618.3,233.9 618.8,234.6 619.4,234.8 619.9,234.7 620.5,235.3 621.0,235.6 621.6,233.3 622.1,232.1 622.7,232.9 623.2,232.8 623.8,233.3 624.3,234.7 624.9,234.7 625.4,233.0 626.0,234.1 626.5,234.1 627.1,234.2 627.6,232.3 628.2,233.1 628.7,233.2 629.3,234.1 629.8,231.2 630.4,231.3 630.9,230.2 631.5,232.0 632.0,232.2 632.6,232.5 633.1,232.6 633.7,233.8 634.2,235.1 634.8,233.8 635.3,233.9 635.9,233.6 636.4,234.6 637.0,232.8 637.5,231.7 638.1,232.9 638.6,233.2 639.2,230.9 639.7,232.9 640.3,232.5 640.8,232.3 641.4,232.3 641.9,234.5 642.5,234.9 643.0,234.0 643.6,232.9 644.1,232.2 644.7,231.0 645.2,231.5 645.8,231.0 646.3,231.0 646.9,232.7 647.4,234.8 648.0,234.7 648.5,232.8 649.1,233.5 649.6,234.2 650.2,233.9 650.7,232.3 651.3,232.2 651.8,233.4 652.4,232.6 652.9,232.7 653.5,232.8 654.0,231.5 654.6,231.1 655.1,230.9 655.7,232.8 656.2,234.1 656.8,231.6 657.3,233.5 657.9,232.3 658.4,234.1 659.0,233.9 659.5,233.8 660.1,233.9 660.6,233.6 661.2,231.2 661.7,231.4 662.3,232.2 662.8,233.0 663.4,232.3 663.9,235.0 664.5,233.5 665.0,233.6 665.6,231.9 666.1,233.4 666.7,232.8 667.2,234.8 667.8,232.5 668.3,231.9 668.9,233.2 669.4,234.0 670.0,234.1 670.5,234.0 671.1,235.9 671.6,233.4 672.2,233.1 672.7,232.7 673.3,233.3 673.8,231.3 674.4,232.6 674.9,231.3 675.5,230.5 676.0,231.2 676.6,231.9 677.1,232.2 677.7,233.5 678.2,233.2 678.8,232.9 679.3,233.4 679.9,234.0 680.4,233.5 681.0,234.0 681.5,234.6 682.1,234.2 682.6,235.6 683.2,234.5 683.7,233.8 684.3,231.8 684.8,232.7 685.4,232.8 685.9,232.6 686.5,232.0 687.0,231.3 687.6,230.7 688.1,231.1 688.7,232.0 689.2,231.6 689.8,232.0 690.3,234.0 690.9,233.8 690.9,240.7 690.3,238.1 689.8,236.1 689.2,236.0 688.7,237.8 688.1,236.1 687.6,234.6 687.0,235.8 686.5,237.0 685.9,236.8 685.4,237.9 684.8,237.1 684.3,236.7 683.7,237.4 683.2,239.3 682.6,240.0 682.1,238.5 681.5,238.5 681.0,237.6 680.4,238.3 679.9,238.2 679.3,237.5 678.8,237.4 678.2,237.7 677.7,238.1 677.1,237.6 676.6,235.7 676.0,234.8 675.5,235.0 674.9,237.3 674.4,236.9 673.8,235.9 673.3,237.4 672.7,237.9 672.2,237.7 671.6,237.7 671.1,239.6 670.5,240.2 670.0,237.6 669.4,238.3 668.9,237.6 668.3,236.2 667.8,239.0 667.2,239.1 666.7,237.2 666.1,237.2 665.6,236.8 665.0,238.4 664.5,238.7 663.9,239.0 663.4,236.5 662.8,237.3 662.3,237.7 661.7,236.0 661.2,236.4 660.6,237.9 660.1,237.6 659.5,237.6 659.0,237.6 658.4,238.1 657.9,238.8 657.3,238.0 656.8,237.2 656.2,237.9 655.7,237.0 655.1,235.5 654.6,237.0 654.0,236.6 653.5,238.6 652.9,237.2 652.4,236.4 651.8,237.9 651.3,236.7 650.7,236.9 650.2,240.4 649.6,240.2 649.1,237.8 648.5,238.3 648.0,239.0 647.4,239.1 646.9,237.4 646.3,235.1 645.8,235.0 645.2,235.6 644.7,235.9 644.1,237.7 643.6,237.2 643.0,239.2 642.5,241.9 641.9,239.7 641.4,236.6 640.8,238.7 640.3,237.3 639.7,236.4 639.2,237.9 638.6,240.6 638.1,237.6 637.5,237.2 637.0,237.2 636.4,241.0 635.9,238.0 635.3,238.6 634.8,238.8 634.2,239.5 633.7,239.6 633.1,236.7 632.6,237.6 632.0,237.5 631.5,235.9 630.9,237.1 630.4,235.9 629.8,236.2 629.3,238.4 628.7,237.7 628.2,237.0 627.6,236.5 627.1,239.0 626.5,238.7 626.0,238.1 625.4,237.7 624.9,239.2 624.3,238.3 623.8,237.6 623.2,239.8 622.7,237.6 622.1,236.5 621.6,237.7 621.0,239.8 620.5,240.0 619.9,240.2 619.4,239.2 618.8,238.4 618.3,242.0 617.7,239.5 617.2,237.9 616.6,236.6 616.1,236.4 615.5,240.1 615.0,239.9 614.4,239.7 613.9,244.3 613.3,240.5 612.8,239.8 612.2,240.1 611.7,238.6 611.1,240.0 610.6,242.0 610.0,238.6 609.5,238.0 608.9,239.5 608.4,239.2 607.8,237.0 607.3,238.2 606.7,239.0 606.2,238.2 605.6,237.4 605.1,242.9 604.5,239.9 604.0,236.4 603.4,236.2 602.9,236.7 602.3,236.4 601.8,236.6 601.2,237.2 600.7,239.2 600.1,241.4 599.6,239.2 599.0,239.3 598.5,237.7 597.9,235.6 597.4,235.9 596.8,239.9 596.3,238.4 595.7,239.9 595.2,243.5 594.6,241.9 594.1,238.7 593.5,238.7 593.0,238.1 592.4,237.6 591.9,236.5 591.3,236.3 590.8,237.0 590.2,237.9 589.7,239.9 589.1,239.2 588.6,237.4 588.0,237.5 587.5,237.3 586.9,238.5 586.4,238.8 585.8,236.9 585.3,237.5 584.7,238.6 584.2,237.7 583.6,238.8 583.1,237.5 582.5,239.0 582.0,238.0 581.4,238.4 580.9,238.1 580.3,237.6 579.8,238.2 579.2,238.4 578.7,239.7 578.1,238.9 577.6,237.2 577.0,237.7 576.5,236.8 575.9,236.7 575.4,237.5 574.8,239.9 574.3,236.1 573.7,237.8 573.2,238.1 572.6,237.0 572.1,237.4 571.5,235.7 571.0,236.3 570.4,238.0 569.9,238.2 569.3,237.6 568.8,238.4 568.2,237.8 567.7,237.0 567.1,237.0 566.6,236.5 566.0,237.4 565.5,236.6 564.9,237.6 564.4,236.8 563.8,237.7 563.3,238.0 562.7,237.7 562.2,237.7 561.6,238.3 561.1,237.4 560.5,240.0 560.0,236.0 559.4,236.9 558.9,237.5 558.3,237.9 557.8,236.3 557.2,238.5 556.7,239.9 556.2,238.9 555.6,239.2 555.1,237.5 554.5,237.9 554.0,238.0 553.4,238.3 552.9,237.8 552.3,238.4 551.8,238.0 551.2,238.5 550.7,238.2 550.1,237.5 549.6,237.1 549.0,238.0 548.5,237.6 547.9,238.9 547.4,240.3 546.8,239.4 546.3,239.3 545.7,240.6 545.2,238.6 544.6,237.4 544.1,237.3 543.5,237.3 543.0,236.9 542.4,236.5 541.9,236.4 541.3,237.6 540.8,240.1 540.2,238.1 539.7,237.8 539.1,238.5 538.6,238.6 538.0,238.4 537.5,236.7 536.9,237.3 536.4,237.4 535.8,238.1 535.3,237.2 534.7,237.2 534.2,237.8 533.6,236.9 533.1,237.7 532.5,236.2 532.0,237.5 531.4,238.9 530.9,238.7 530.3,238.2 529.8,238.2 529.2,237.9 528.7,237.1 528.1,236.3 527.6,237.1 527.0,238.5 526.5,239.3 525.9,238.1 525.4,239.3 524.8,237.8 524.3,238.2 523.7,236.2 523.2,236.6 522.6,237.4 522.1,238.2 521.5,236.5 521.0,237.5 520.4,240.9 519.9,236.9 519.3,237.6 518.8,238.3 518.2,239.8 517.7,237.8 517.1,237.5 516.6,236.4 516.0,235.1 515.5,237.1 514.9,235.0 514.4,236.9 513.8,235.3 513.3,236.6 512.7,236.4 512.2,235.0 511.6,235.4 511.1,237.6 510.5,239.0 510.0,237.2 509.4,236.3 508.9,237.4 508.3,237.7 507.8,238.7 507.2,237.8 506.7,236.0 506.1,236.6 505.6,237.1 505.0,237.1 504.5,236.9 503.9,236.5 503.4,236.6 502.8,237.1 502.3,239.1 501.7,237.8 501.2,237.3 500.6,238.0 500.1,238.5 499.5,238.5 499.0,238.7 498.4,240.3 497.9,239.5 497.3,239.4 496.8,242.3 496.2,238.5 495.7,236.9 495.1,238.4 494.6,237.3 494.0,237.5 493.5,238.0 492.9,238.0 492.4,238.3 491.8,237.3 491.3,238.0 490.7,238.0 490.2,238.6 489.6,237.0 489.1,238.4 488.5,237.0 488.0,237.3 487.4,236.3 486.9,236.3 486.3,237.7 485.8,237.7 485.2,238.6 484.7,238.1 484.1,236.6 483.6,237.3 483.0,237.8 482.5,238.3 481.9,238.4 481.4,238.6 480.8,239.7 480.3,239.1 479.7,238.9 479.2,240.8 478.6,237.7 478.1,238.5 477.5,238.4 477.0,239.0 476.4,237.8 475.9,235.6 475.3,237.3 474.8,236.1 474.2,237.5 473.7,238.3 473.1,240.3 472.6,239.0 472.0,238.2 471.5,237.2 470.9,237.3 470.4,236.7 469.8,237.1 469.3,239.1 468.7,237.0 468.2,236.3 467.6,237.4 467.1,236.8 466.5,237.1 466.0,237.1 465.4,236.3 464.9,236.1 464.3,238.0 463.8,236.7 463.2,237.5 462.7,238.9 462.1,238.0 461.6,237.0 461.0,238.8 460.5,238.7 459.9,238.3 459.4,240.7 458.8,238.7 458.3,237.8 457.7,237.8 457.2,237.2 456.6,238.9 456.1,240.5 455.5,238.5 455.0,240.0 454.4,237.2 453.9,238.1 453.3,237.7 452.8,237.7 452.2,239.7 451.7,238.1 451.1,238.8 450.6,237.3 450.0,238.2 449.5,237.5 448.9,238.8 448.4,239.2 447.8,239.6 447.3,238.5 446.7,236.8 446.2,235.4 445.6,235.8 445.1,237.9 444.5,237.8 444.0,237.4 443.4,239.2 442.9,237.7 442.3,237.8 441.8,238.0 441.2,236.5 440.7,240.5 440.1,237.0 439.6,236.5 439.0,236.9 438.5,237.3 437.9,236.7 437.4,237.2 436.8,236.8 436.3,236.2 435.7,238.6 435.2,238.2 434.6,238.5 434.1,238.9 433.5,237.7 433.0,238.1 432.4,236.5 431.9,237.7 431.3,236.7 430.8,239.0 430.2,237.3 429.7,241.9 429.1,239.5 428.6,239.7 428.0,239.3 427.5,237.7 426.9,236.5 426.4,235.8 425.8,235.9 425.3,237.4 424.7,235.3 424.2,237.2 423.6,239.2 423.1,239.5 422.5,239.9 422.0,239.1 421.4,239.9 420.9,240.5 420.3,238.3 419.8,239.2 419.2,236.9 418.7,237.9 418.1,237.2 417.6,236.6 417.0,237.0 416.5,236.6 415.9,236.9 415.4,235.7 414.8,236.0 414.3,236.2 413.7,238.4 413.2,237.4 412.6,236.2 412.1,236.2 411.5,237.7 411.0,237.0 410.4,236.6 409.9,238.1 409.3,238.1 408.8,237.1 408.2,237.3 407.7,237.1 407.1,237.3 406.6,238.3 406.0,237.6 405.5,241.3 404.9,237.2 404.4,236.6 403.8,237.5 403.3,240.0 402.7,237.6 402.2,238.8 401.6,241.1 401.1,237.9 400.5,237.7 400.0,238.5 399.4,237.0 398.9,238.2 398.3,236.6 397.8,239.8 397.2,237.5 396.7,237.7 396.1,239.1 395.6,238.6 395.0,238.4 394.5,237.3 393.9,234.9 393.4,236.3 392.8,236.6 392.3,236.4 391.7,238.0 391.2,238.2 390.6,236.8 390.1,238.4 389.5,238.7 389.0,237.9 388.4,239.3 387.9,238.8 387.3,239.0 386.8,237.1 386.2,237.0 385.7,237.7 385.1,238.0 384.6,237.2 384.0,238.9 383.5,239.8 382.9,237.9 382.4,237.2 381.8,237.2 381.3,239.7 380.7,238.1 380.2,240.9 379.6,237.6 379.1,236.8 378.5,237.4 378.0,240.5 377.4,236.4 376.9,237.9 376.3,237.6 375.8,237.3 375.2,237.0 374.7,238.2 374.1,239.1 373.6,236.3 373.0,236.6 372.5,236.9 371.9,237.7 371.4,238.4 370.8,238.1 370.3,237.3 369.7,236.9 369.2,237.1 368.6,237.5 368.1,236.1 367.5,236.0 367.0,237.7 366.4,238.1 365.9,240.1 365.3,238.1 364.8,238.2 364.2,238.3 363.7,238.9 363.1,237.3 362.6,235.3 362.0,237.1 361.5,237.0 360.9,238.2 360.4,240.6 359.8,237.3 359.3,237.8 358.7,237.3 358.2,238.5 357.6,239.2 357.1,238.7 356.5,238.2 356.0,238.6 355.4,237.1 354.9,237.8 354.3,237.4 353.8,238.3 353.2,235.7 352.7,237.5 352.1,237.4 351.6,237.6 351.0,238.5 350.5,238.6 349.9,239.1 349.4,237.7 348.8,239.1 348.3,240.0 347.7,242.4 347.2,241.0 346.6,237.5 346.1,238.4 345.5,238.5 345.0,239.5 344.4,239.4 343.9,238.3 343.3,236.8 342.8,239.1 342.2,237.3 341.7,238.4 341.1,239.2 340.6,236.4 340.0,237.9 339.5,238.2 338.9,238.1 338.4,238.3 337.8,237.6 337.3,236.8 336.7,237.0 336.2,236.7 335.6,237.3 335.1,236.9 334.5,238.1 334.0,238.2 333.4,237.7 332.9,236.0 332.3,236.9 331.8,237.7 331.2,235.7 330.7,237.1 330.1,237.3 329.6,239.4 329.0,237.4Z" fill="#000" stroke="#000" stroke-width="0.6" stroke-linejoin="round"/><text x="323.5" y="241.3" text-anchor="end" class="tl">4</text><path d="M329.3,287.9 329.9,287.9 330.4,288.1 331.0,288.3 331.5,286.3 332.1,288.7 332.6,288.5 333.2,288.4 333.7,289.6 334.3,287.7 334.8,288.7 335.4,288.3 335.9,286.8 336.5,286.9 337.0,286.9 337.6,289.1 338.1,289.8 338.7,288.8 339.2,288.7 339.8,285.8 340.3,289.7 340.9,289.2 341.4,287.7 342.0,289.9 342.5,289.6 343.1,290.8 343.6,286.2 344.2,288.8 344.7,288.4 345.3,289.1 345.8,289.0 346.4,289.0 346.9,288.5 347.5,289.4 348.0,288.8 348.6,289.1 349.1,288.8 349.7,288.0 350.2,289.4 350.8,289.1 351.3,289.5 351.9,289.0 352.4,288.7 353.0,288.2 353.5,287.7 354.1,286.7 354.6,286.9 355.2,287.0 355.7,287.7 356.3,288.4 356.8,289.8 357.4,291.8 357.9,292.9 358.5,292.5 359.0,291.6 359.6,290.7 360.1,288.5 360.7,286.8 361.2,285.5 361.8,286.1 362.3,286.0 362.9,285.9 363.4,288.0 364.0,289.2 364.5,290.6 365.1,292.4 365.6,292.8 366.2,292.4 366.7,291.1 367.3,288.7 367.8,288.2 368.4,286.9 368.9,285.4 369.5,286.2 370.0,285.6 370.6,286.9 371.1,288.9 371.7,291.1 372.2,292.3 372.8,291.8 373.3,292.4 373.9,292.1 374.4,290.6 375.0,287.7 375.5,286.9 376.1,283.5 376.6,284.8 377.2,285.0 377.7,287.0 378.3,288.7 378.8,289.1 379.4,290.4 379.9,290.6 380.5,290.7 381.0,289.8 381.6,289.4 382.1,288.3 382.7,288.9 383.2,288.2 383.8,288.5 384.3,288.6 384.9,289.3 385.4,289.5 386.0,289.6 386.5,289.1 387.1,289.1 387.6,288.8 388.2,288.7 388.7,287.3 389.3,289.1 389.8,288.8 390.4,284.5 390.9,285.5 391.5,289.2 392.0,289.2 392.6,289.8 393.1,288.7 393.7,288.3 394.2,288.5 394.8,289.9 395.3,289.9 395.9,289.1 396.4,290.8 397.0,290.7 397.5,288.8 398.1,284.8 398.6,285.6 399.2,289.4 399.7,289.5 400.3,287.7 400.8,288.6 401.4,289.0 401.9,288.4 402.5,287.4 403.0,288.7 403.6,285.3 404.1,287.8 404.7,288.8 405.2,286.9 405.8,288.9 406.3,289.4 406.9,290.1 407.4,289.1 408.0,289.0 408.5,288.8 409.1,288.3 409.6,289.9 410.2,289.7 410.7,286.5 411.3,287.9 411.8,286.6 412.4,287.6 412.9,287.6 413.5,286.0 414.0,288.2 414.6,288.0 415.1,288.7 415.7,288.6 416.2,288.5 416.8,289.1 417.3,286.2 417.9,289.0 418.4,288.9 419.0,288.1 419.5,288.3 420.1,289.1 420.6,289.4 421.2,289.2 421.7,288.4 422.3,287.6 422.8,287.0 423.4,289.5 423.9,286.5 424.5,288.5 425.0,287.9 425.6,288.4 426.1,289.0 426.7,287.9 427.2,286.3 427.8,288.6 428.3,288.1 428.9,288.8 429.4,289.7 430.0,289.9 430.5,289.6 431.1,288.0 431.6,287.7 432.2,289.4 432.7,289.7 433.3,290.7 433.8,291.4 434.4,288.6 434.9,290.1 435.5,290.4 436.0,287.8 436.6,287.5 437.1,288.6 437.7,288.0 438.2,288.1 438.8,285.3 439.3,285.5 439.9,286.3 440.4,286.9 441.0,288.1 441.5,288.1 442.1,288.3 442.6,288.9 443.2,290.2 443.7,289.1 444.3,288.0 444.8,290.0 445.4,290.5 445.9,291.7 446.5,290.6 447.0,291.2 447.6,288.3 448.1,288.5 448.7,289.2 449.2,290.2 449.8,289.7 450.3,289.2 450.9,286.0 451.4,288.0 452.0,289.4 452.5,290.1 453.1,290.1 453.6,288.7 454.2,289.4 454.7,290.6 455.3,289.4 455.8,287.0 456.4,288.2 456.9,288.9 457.5,288.8 458.0,289.3 458.6,288.8 459.1,288.6 459.7,289.4 460.2,288.3 460.8,288.5 461.3,287.8 461.9,288.1 462.4,289.0 463.0,287.9 463.5,287.7 464.1,287.7 464.6,288.5 465.2,286.7 465.7,286.6 466.3,288.2 466.8,288.0 467.4,289.5 467.9,289.5 468.5,288.0 469.0,286.9 469.6,287.9 470.1,287.4 470.7,285.9 471.2,287.8 471.8,285.6 472.3,288.0 472.9,288.4 473.4,286.1 474.0,289.1 474.5,288.7 475.1,288.8 475.6,289.6 476.2,289.7 476.7,287.5 477.3,288.2 477.8,289.1 478.4,286.7 478.9,288.9 479.5,287.2 480.0,288.3 480.6,288.9 481.1,289.1 481.7,288.4 482.2,288.6 482.8,287.4 483.3,288.2 483.9,288.5 484.4,289.3 485.0,289.8 485.5,289.7 486.1,289.0 486.6,288.6 487.2,287.5 487.7,288.7 488.3,288.3 488.8,288.9 489.4,288.2 489.9,288.0 490.5,287.0 491.0,287.7 491.6,287.9 492.1,286.8 492.7,286.6 493.2,288.3 493.8,287.2 494.3,288.5 494.9,289.5 495.4,288.3 496.0,288.3 496.5,288.6 497.1,289.8 497.6,290.4 498.2,291.1 498.7,290.4 499.3,288.1 499.8,289.5 500.4,289.6 500.9,289.2 501.5,288.9 502.0,289.0 502.6,287.6 503.1,288.8 503.7,288.8 504.2,288.9 504.8,288.5 505.3,287.4 505.9,287.0 506.4,290.1 507.0,287.8 507.5,289.2 508.1,288.8 508.6,288.9 509.2,287.7 509.7,290.2 510.3,290.0 510.8,289.6 511.4,289.5 511.9,288.4 512.5,289.3 513.0,288.6 513.6,288.6 514.1,288.7 514.7,289.6 515.2,289.3 515.8,289.7 516.3,288.5 516.9,287.9 517.4,287.8 518.0,287.8 518.5,288.7 519.1,288.8 519.6,288.8 520.2,289.5 520.7,289.2 521.3,289.7 521.8,290.3 522.4,288.6 522.9,288.2 523.5,288.9 524.0,287.8 524.6,288.4 525.1,288.0 525.7,288.9 526.2,286.4 526.8,287.2 527.3,288.6 527.9,286.5 528.4,286.9 529.0,287.2 529.5,287.0 530.1,288.4 530.6,289.7 531.2,289.1 531.7,286.4 532.3,285.5 532.8,287.7 533.4,288.8 533.9,289.0 534.5,288.3 535.0,285.8 535.6,288.9 536.1,288.1 536.7,286.5 537.2,288.7 537.8,289.4 538.3,289.0 538.9,290.3 539.4,289.1 540.0,288.5 540.5,287.3 541.1,289.0 541.6,287.9 542.2,288.7 542.7,287.7 543.3,287.4 543.8,288.2 544.4,289.5 544.9,288.6 545.5,288.5 546.0,286.8 546.6,287.1 547.1,284.9 547.7,289.0 548.2,287.7 548.8,287.6 549.3,287.1 549.9,288.6 550.4,287.8 551.0,287.2 551.5,288.1 552.1,289.1 552.6,289.7 553.2,289.3 553.7,288.8 554.3,289.7 554.8,288.5 555.4,288.1 555.9,289.0 556.5,288.0 557.0,287.6 557.6,288.2 558.1,287.5 558.6,287.8 559.2,288.0 559.7,287.1 560.3,288.6 560.8,287.0 561.4,287.6 561.9,289.1 562.5,287.5 563.0,288.0 563.6,289.6 564.1,287.1 564.7,286.0 565.2,287.8 565.8,288.2 566.3,287.2 566.9,287.1 567.4,286.8 568.0,287.8 568.5,285.3 569.1,287.5 569.6,288.3 570.2,287.6 570.7,288.0 571.3,289.0 571.8,288.7 572.4,289.2 572.9,288.8 573.5,288.8 574.0,288.9 574.6,287.8 575.1,288.5 575.7,288.5 576.2,287.8 576.8,287.6 577.3,288.2 577.9,288.9 578.4,288.5 579.0,288.1 579.5,289.5 580.1,290.1 580.6,289.7 581.2,288.5 581.7,288.9 582.3,288.5 582.8,289.7 583.4,289.4 583.9,289.0 584.5,288.5 585.0,286.6 585.6,287.0 586.1,287.0 586.7,287.5 587.2,287.2 587.8,287.5 588.3,290.1 588.9,289.5 589.4,290.5 590.0,289.0 590.5,287.5 591.1,285.8 591.6,286.3 592.2,286.9 592.7,290.5 593.3,292.0 593.8,291.6 594.4,291.1 594.9,289.3 595.5,288.1 596.0,285.6 596.6,286.2 597.1,287.4 597.7,288.6 598.2,292.2 598.8,291.9 599.3,292.1 599.9,291.6 600.4,287.6 601.0,285.2 601.5,286.1 602.1,288.1 602.6,286.5 603.2,287.5 603.7,288.5 604.3,290.6 604.8,291.3 605.4,290.9 605.9,289.7 606.5,288.3 607.0,288.6 607.6,288.7 608.1,290.0 608.7,289.6 609.2,290.2 609.8,289.8 610.3,287.7 610.9,286.8 611.4,288.2 612.0,287.4 612.5,287.5 613.1,289.4 613.6,289.2 614.2,286.7 614.7,287.2 615.3,288.0 615.8,286.7 616.4,288.2 616.9,288.8 617.5,284.9 618.0,288.0 618.6,288.9 619.1,288.4 619.7,286.4 620.2,287.8 620.8,289.6 621.3,289.6 621.9,289.9 622.4,291.5 623.0,288.1 623.5,287.3 624.1,287.8 624.6,290.0 625.2,289.2 625.7,290.1 626.3,289.2 626.8,288.7 627.4,290.1 627.9,289.9 628.5,287.1 629.0,288.2 629.6,288.0 630.1,288.6 630.7,290.2 631.2,289.8 631.8,286.9 632.3,290.1 632.9,289.5 633.4,287.3 634.0,288.9 634.5,290.5 635.1,286.8 635.6,289.9 636.2,289.6 636.7,287.5 637.3,288.0 637.8,289.4 638.4,288.6 638.9,289.3 639.5,288.9 640.0,287.8 640.6,288.9 641.1,289.9 641.7,288.9 642.2,288.1 642.8,288.1 643.3,289.4 643.9,289.3 644.4,288.7 645.0,288.3 645.5,287.2 646.1,287.8 646.6,287.7 647.2,287.5 647.7,287.9 648.3,288.2 648.8,290.3 649.4,288.5 649.9,288.1 650.5,288.3 651.0,289.6 651.6,287.8 652.1,288.8 652.7,288.1 653.2,288.5 653.8,288.6 654.3,288.4 654.9,287.7 655.4,288.2 656.0,285.8 656.5,289.0 657.1,287.2 657.6,288.6 658.2,289.2 658.7,288.2 659.3,286.2 659.8,289.6 660.4,288.5 660.9,287.5 661.5,287.0 662.0,287.2 662.6,289.2 663.1,288.9 663.7,285.1 664.2,287.4 664.8,287.0 665.3,287.4 665.9,288.3 666.4,289.7 667.0,290.1 667.5,291.0 668.1,289.7 668.6,289.3 669.2,289.0 669.7,289.0 670.3,288.4 670.8,289.0 671.4,287.9 671.9,288.6 672.5,288.8 673.0,288.4 673.6,287.5 674.1,289.6 674.7,289.5 675.2,288.4 675.8,288.2 676.3,288.9 676.9,289.7 677.4,289.0 678.0,288.6 678.5,290.2 679.1,291.1 679.6,290.4 680.2,289.9 680.7,290.3 681.3,289.3 681.8,289.4 682.4,289.0 682.9,288.8 683.5,286.6 684.0,287.7 684.6,289.3 685.1,288.8 685.7,285.6 686.2,287.5 686.8,286.6 687.3,286.5 687.9,287.5 688.4,287.7 689.0,289.0 689.5,289.7 690.1,289.0 690.6,288.5 691.2,290.7 691.7,290.5 691.7,293.5 691.2,293.4 690.6,293.2 690.1,292.0 689.5,292.9 689.0,293.4 688.4,292.6 687.9,292.1 687.3,290.8 686.8,291.6 686.2,290.1 685.7,290.4 685.1,291.5 684.6,295.1 684.0,291.6 683.5,292.2 682.9,291.6 682.4,293.0 681.8,292.6 681.3,294.5 680.7,292.9 680.2,292.4 679.6,294.1 679.1,294.1 678.5,293.6 678.0,293.5 677.4,293.8 676.9,292.3 676.3,292.0 675.8,292.0 675.2,291.0 674.7,292.0 674.1,293.4 673.6,292.3 673.0,291.4 672.5,291.9 671.9,291.6 671.4,291.5 670.8,292.2 670.3,293.9 669.7,291.8 669.2,292.5 668.6,291.7 668.1,293.0 667.5,294.3 667.0,293.2 666.4,292.0 665.9,291.5 665.3,292.0 664.8,290.3 664.2,291.1 663.7,291.3 663.1,291.6 662.6,292.8 662.0,291.9 661.5,289.5 660.9,291.5 660.4,291.9 659.8,292.9 659.3,292.3 658.7,291.6 658.2,292.0 657.6,292.1 657.1,291.5 656.5,292.4 656.0,291.3 655.4,291.2 654.9,290.5 654.3,291.3 653.8,292.5 653.2,291.8 652.7,291.2 652.1,292.0 651.6,291.9 651.0,292.4 650.5,290.7 649.9,290.8 649.4,291.6 648.8,293.9 648.3,294.0 647.7,292.7 647.2,291.4 646.6,292.0 646.1,291.8 645.5,291.9 645.0,291.6 644.4,292.6 643.9,292.3 643.3,292.1 642.8,292.0 642.2,292.1 641.7,291.9 641.1,292.5 640.6,292.0 640.0,290.7 639.5,291.9 638.9,293.4 638.4,291.2 637.8,292.1 637.3,291.8 636.7,291.1 636.2,292.9 635.6,292.7 635.1,293.3 634.5,292.9 634.0,292.2 633.4,293.6 632.9,293.0 632.3,292.9 631.8,293.2 631.2,293.0 630.7,292.8 630.1,291.6 629.6,292.2 629.0,292.7 628.5,291.3 627.9,294.5 627.4,293.2 626.8,292.9 626.3,292.0 625.7,292.6 625.2,292.6 624.6,296.1 624.1,293.1 623.5,290.9 623.0,292.0 622.4,294.4 621.9,293.2 621.3,292.1 620.8,292.7 620.2,291.9 619.7,289.9 619.1,291.6 618.6,295.3 618.0,290.5 617.5,290.8 616.9,291.4 616.4,291.6 615.8,291.5 615.3,291.9 614.7,291.2 614.2,290.2 613.6,291.8 613.1,292.4 612.5,291.6 612.0,289.9 611.4,291.5 610.9,290.5 610.3,290.5 609.8,292.8 609.2,297.5 608.7,292.6 608.1,293.1 607.6,292.2 607.0,291.6 606.5,292.2 605.9,292.6 605.4,294.7 604.8,294.2 604.3,293.6 603.7,291.7 603.2,290.5 602.6,290.2 602.1,290.6 601.5,290.4 601.0,289.5 600.4,291.2 599.9,294.3 599.3,296.3 598.8,295.3 598.2,295.5 597.7,292.2 597.1,290.5 596.6,289.0 596.0,289.4 595.5,292.3 594.9,292.8 594.4,296.1 593.8,297.6 593.3,295.1 592.7,294.7 592.2,290.5 591.6,289.5 591.1,289.6 590.5,290.2 590.0,291.8 589.4,293.3 588.9,295.2 588.3,293.5 587.8,290.9 587.2,290.0 586.7,291.3 586.1,293.6 585.6,290.9 585.0,291.7 584.5,292.6 583.9,292.6 583.4,292.3 582.8,292.5 582.3,291.4 581.7,292.3 581.2,292.3 580.6,292.5 580.1,293.0 579.5,292.9 579.0,292.6 578.4,291.3 577.9,292.8 577.3,292.6 576.8,290.9 576.2,292.3 575.7,291.1 575.1,291.6 574.6,291.9 574.0,292.0 573.5,291.9 572.9,291.6 572.4,292.8 571.8,292.8 571.3,291.4 570.7,291.1 570.2,291.7 569.6,291.3 569.1,290.4 568.5,291.9 568.0,291.0 567.4,289.9 566.9,290.0 566.3,290.3 565.8,292.7 565.2,290.8 564.7,290.2 564.1,290.8 563.6,292.6 563.0,292.3 562.5,291.6 561.9,292.0 561.4,292.3 560.8,290.1 560.3,291.2 559.7,290.1 559.2,290.7 558.6,290.8 558.1,290.5 557.6,290.8 557.0,293.2 556.5,291.2 555.9,292.0 555.4,292.7 554.8,292.8 554.3,292.6 553.7,292.0 553.2,292.0 552.6,295.1 552.1,292.7 551.5,290.6 551.0,290.9 550.4,290.8 549.9,291.9 549.3,290.9 548.8,292.9 548.2,290.8 547.7,293.9 547.1,290.6 546.6,290.3 546.0,290.4 545.5,292.3 544.9,293.0 544.4,292.8 543.8,291.1 543.3,290.7 542.7,292.3 542.2,291.6 541.6,290.6 541.1,291.9 540.5,290.7 540.0,291.5 539.4,292.0 538.9,293.1 538.3,292.1 537.8,293.3 537.2,292.1 536.7,290.8 536.1,292.6 535.6,292.2 535.0,291.8 534.5,292.1 533.9,291.4 533.4,292.4 532.8,291.3 532.3,289.5 531.7,289.9 531.2,292.5 530.6,292.4 530.1,291.2 529.5,291.9 529.0,291.1 528.4,290.2 527.9,291.3 527.3,291.4 526.8,292.1 526.2,290.1 525.7,291.9 525.1,291.0 524.6,291.1 524.0,290.5 523.5,292.0 522.9,290.9 522.4,291.8 521.8,294.0 521.3,293.0 520.7,292.8 520.2,293.4 519.6,291.8 519.1,294.2 518.5,292.4 518.0,293.4 517.4,291.1 516.9,292.1 516.3,291.4 515.8,292.2 515.2,292.7 514.7,293.6 514.1,293.2 513.6,291.9 513.0,294.5 512.5,293.0 511.9,292.5 511.4,292.7 510.8,292.6 510.3,293.4 509.7,293.3 509.2,291.5 508.6,291.9 508.1,292.1 507.5,294.7 507.0,292.7 506.4,293.4 505.9,292.5 505.3,292.7 504.8,293.7 504.2,292.5 503.7,292.3 503.1,292.4 502.6,291.6 502.0,293.8 501.5,291.5 500.9,292.8 500.4,292.7 499.8,292.4 499.3,292.7 498.7,294.1 498.2,293.8 497.6,293.1 497.1,292.4 496.5,291.7 496.0,292.9 495.4,293.3 494.9,292.4 494.3,291.9 493.8,292.5 493.2,291.1 492.7,291.8 492.1,291.9 491.6,290.5 491.0,290.4 490.5,290.4 489.9,291.9 489.4,291.8 488.8,291.3 488.3,292.0 487.7,291.9 487.2,290.5 486.6,291.2 486.1,291.6 485.5,294.5 485.0,292.6 484.4,292.1 483.9,291.3 483.3,291.2 482.8,289.9 482.2,291.7 481.7,290.9 481.1,292.0 480.6,292.4 480.0,291.4 479.5,291.6 478.9,293.0 478.4,290.0 477.8,291.6 477.3,291.3 476.7,292.6 476.2,293.4 475.6,294.7 475.1,291.7 474.5,292.8 474.0,292.4 473.4,291.5 472.9,291.1 472.3,291.1 471.8,291.5 471.2,290.7 470.7,290.4 470.1,289.7 469.6,290.9 469.0,290.2 468.5,291.2 467.9,293.1 467.4,292.1 466.8,291.2 466.3,292.1 465.7,289.8 465.2,292.0 464.6,291.3 464.1,292.6 463.5,291.5 463.0,291.1 462.4,292.9 461.9,291.5 461.3,291.7 460.8,292.2 460.2,291.1 459.7,292.9 459.1,294.3 458.6,291.6 458.0,292.2 457.5,291.4 456.9,291.6 456.4,292.0 455.8,291.8 455.3,292.3 454.7,293.1 454.2,293.4 453.6,291.8 453.1,293.3 452.5,293.8 452.0,293.0 451.4,291.5 450.9,292.1 450.3,291.9 449.8,292.5 449.2,293.7 448.7,292.2 448.1,291.6 447.6,292.8 447.0,294.7 446.5,294.5 445.9,294.7 445.4,293.4 444.8,293.5 444.3,291.6 443.7,291.9 443.2,292.7 442.6,292.1 442.1,292.7 441.5,291.1 441.0,291.7 440.4,292.2 439.9,288.8 439.3,288.9 438.8,290.7 438.2,291.0 437.7,290.6 437.1,291.7 436.6,290.2 436.0,292.0 435.5,293.5 434.9,293.3 434.4,292.1 433.8,294.4 433.3,293.2 432.7,292.8 432.2,293.4 431.6,292.1 431.1,290.7 430.5,292.4 430.0,292.8 429.4,292.8 428.9,291.4 428.3,292.1 427.8,291.3 427.2,291.6 426.7,290.6 426.1,292.1 425.6,291.0 425.0,291.2 424.5,291.3 423.9,292.5 423.4,293.0 422.8,292.1 422.3,291.1 421.7,292.2 421.2,291.9 420.6,292.1 420.1,292.2 419.5,292.5 419.0,291.5 418.4,291.6 417.9,292.3 417.3,292.2 416.8,294.2 416.2,291.5 415.7,292.5 415.1,292.9 414.6,291.1 414.0,293.2 413.5,291.8 412.9,290.2 412.4,292.2 411.8,290.7 411.3,291.0 410.7,291.5 410.2,293.0 409.6,293.1 409.1,291.3 408.5,292.0 408.0,293.1 407.4,293.6 406.9,295.5 406.3,292.9 405.8,292.7 405.2,292.5 404.7,295.0 404.1,293.4 403.6,291.7 403.0,291.9 402.5,292.1 401.9,291.5 401.4,291.4 400.8,291.8 400.3,291.5 399.7,293.2 399.2,294.0 398.6,292.9 398.1,291.0 397.5,292.1 397.0,293.5 396.4,294.7 395.9,293.0 395.3,293.2 394.8,292.4 394.2,291.1 393.7,291.9 393.1,292.3 392.6,292.8 392.0,292.5 391.5,292.9 390.9,290.9 390.4,290.5 389.8,292.4 389.3,294.0 388.7,293.0 388.2,291.9 387.6,294.1 387.1,292.2 386.5,292.4 386.0,292.3 385.4,292.4 384.9,292.9 384.3,292.4 383.8,291.5 383.2,292.2 382.7,291.8 382.1,291.7 381.6,292.5 381.0,294.3 380.5,294.2 379.9,293.8 379.4,293.3 378.8,292.4 378.3,291.8 377.7,289.7 377.2,288.4 376.6,288.5 376.1,288.3 375.5,289.5 375.0,292.6 374.4,293.9 373.9,295.3 373.3,295.7 372.8,295.7 372.2,295.7 371.7,293.7 371.1,291.6 370.6,290.0 370.0,289.6 369.5,288.7 368.9,289.3 368.4,289.5 367.8,290.9 367.3,292.3 366.7,293.8 366.2,295.0 365.6,295.7 365.1,295.6 364.5,295.2 364.0,292.6 363.4,291.0 362.9,289.5 362.3,288.7 361.8,289.2 361.2,290.9 360.7,290.3 360.1,292.7 359.6,293.4 359.0,294.8 358.5,296.0 357.9,295.7 357.4,295.2 356.8,293.8 356.3,292.1 355.7,290.6 355.2,289.8 354.6,290.1 354.1,289.5 353.5,290.8 353.0,291.7 352.4,292.3 351.9,291.7 351.3,292.3 350.8,292.4 350.2,292.9 349.7,291.9 349.1,292.7 348.6,291.9 348.0,292.7 347.5,293.6 346.9,291.7 346.4,292.2 345.8,291.9 345.3,292.3 344.7,291.6 344.2,291.6 343.6,291.7 343.1,293.4 342.5,292.4 342.0,292.4 341.4,292.8 340.9,291.7 340.3,293.1 339.8,291.2 339.2,292.4 338.7,292.2 338.1,292.3 337.6,292.5 337.0,290.5 336.5,290.0 335.9,290.1 335.4,291.1 334.8,292.3 334.3,292.1 333.7,292.1 333.2,291.3 332.6,291.1 332.1,292.2 331.5,291.5 331.0,291.1 330.4,291.6 329.9,291.8 329.3,290.9Z" fill="#000" stroke="#000" stroke-width="0.6" stroke-linejoin="round"/><text x="323.5" y="296.1" text-anchor="end" class="tl">5</text><path d="M329.4,348.1 329.9,349.5 330.5,349.7 331.1,351.5 331.6,350.7 332.2,350.3 332.7,350.7 333.3,348.7 333.8,350.9 334.4,350.6 334.9,349.8 335.5,349.6 336.0,348.4 336.6,346.9 337.1,351.1 337.7,349.7 338.2,350.2 338.8,349.8 339.3,349.2 339.9,351.6 340.4,351.1 341.0,351.6 341.5,350.3 342.1,349.3 342.6,346.1 343.2,350.8 343.7,348.8 344.3,351.4 344.8,350.9 345.4,350.9 345.9,351.0 346.5,348.9 347.0,350.1 347.6,348.8 348.1,347.1 348.7,348.5 349.2,347.8 349.8,348.4 350.3,349.1 350.9,348.5 351.4,350.2 352.0,351.3 352.5,349.9 353.1,350.5 353.6,350.8 354.2,351.0 354.7,350.2 355.3,349.1 355.8,350.1 356.4,350.2 356.9,351.2 357.5,349.8 358.0,347.4 358.6,350.7 359.1,352.3 359.7,353.3 360.2,348.0 360.8,349.3 361.3,350.3 361.9,350.0 362.4,349.7 363.0,350.6 363.5,349.7 364.1,350.6 364.6,350.8 365.2,352.1 365.7,352.4 366.3,352.0 366.8,349.7 367.4,349.4 367.9,351.7 368.5,350.8 369.0,350.8 369.6,350.4 370.1,348.9 370.7,348.2 371.2,350.3 371.8,353.0 372.3,350.9 372.9,350.4 373.4,350.5 374.0,350.5 374.5,351.2 375.1,349.3 375.6,347.7 376.2,349.2 376.7,348.0 377.3,350.0 377.8,350.5 378.4,351.1 378.9,352.3 379.5,351.6 380.0,351.3 380.6,351.3 381.1,350.1 381.7,349.4 382.2,349.6 382.8,350.7 383.3,350.3 383.9,349.5 384.4,351.2 385.0,349.6 385.5,349.8 386.1,349.4 386.6,349.5 387.2,350.8 387.7,351.0 388.3,351.2 388.8,351.0 389.4,350.1 389.9,349.8 390.5,349.7 391.0,348.9 391.6,350.8 392.1,351.2 392.7,351.0 393.2,349.7 393.8,351.3 394.3,350.4 394.9,349.8 395.4,350.7 396.0,350.8 396.5,350.3 397.1,350.3 397.6,351.0 398.2,349.9 398.7,349.7 399.3,350.0 399.8,350.2 400.4,349.1 400.9,350.1 401.5,350.5 402.0,350.2 402.6,351.0 403.1,351.5 403.7,351.5 404.2,351.1 404.8,351.9 405.3,351.7 405.9,350.6 406.4,350.5 407.0,350.5 407.5,350.5 408.1,348.9 408.6,348.1 409.2,348.8 409.7,349.4 410.3,350.2 410.8,347.4 411.4,351.6 411.9,350.8 412.5,350.5 413.0,349.9 413.6,350.5 414.1,350.1 414.7,350.4 415.2,350.5 415.8,346.8 416.3,348.9 416.9,349.0 417.4,349.8 418.0,349.0 418.5,348.4 419.1,349.1 419.6,351.2 420.2,350.4 420.7,348.8 421.3,350.4 421.8,350.3 422.4,348.6 422.9,349.7 423.5,349.5 424.0,349.7 424.6,349.7 425.1,347.3 425.7,348.9 426.2,349.3 426.8,350.7 427.3,350.1 427.9,348.9 428.4,349.5 429.0,349.5 429.5,349.8 430.1,350.8 430.6,350.0 431.2,351.0 431.7,348.6 432.3,350.0 432.8,350.6 433.4,350.1 433.9,350.8 434.5,351.0 435.0,351.7 435.6,349.0 436.1,349.4 436.7,349.2 437.2,351.2 437.8,350.5 438.3,351.2 438.9,350.8 439.4,351.1 440.0,352.5 440.5,352.1 441.1,351.7 441.6,350.6 442.2,349.2 442.7,350.2 443.3,348.3 443.8,350.3 444.4,349.5 444.9,350.3 445.5,350.0 446.0,350.0 446.6,350.3 447.1,350.4 447.7,349.3 448.2,349.9 448.8,350.1 449.3,350.5 449.9,351.3 450.4,350.0 451.0,351.1 451.5,351.0 452.1,349.4 452.6,351.0 453.2,347.4 453.7,348.6 454.3,350.0 454.8,349.2 455.4,350.0 455.9,349.9 456.5,351.3 457.0,350.2 457.6,351.8 458.1,350.5 458.7,350.2 459.2,349.2 459.8,348.3 460.3,350.6 460.9,347.6 461.4,348.6 462.0,350.2 462.5,351.4 463.1,349.2 463.6,349.1 464.2,350.2 464.7,350.8 465.3,350.4 465.8,350.4 466.4,350.1 466.9,350.1 467.5,348.7 468.0,350.2 468.6,348.7 469.1,346.8 469.7,349.6 470.2,348.9 470.8,349.7 471.3,350.1 471.9,350.2 472.4,351.0 473.0,350.4 473.5,349.7 474.1,349.6 474.6,350.7 475.2,350.7 475.7,348.7 476.3,350.9 476.8,351.1 477.4,351.0 477.9,350.1 478.5,350.4 479.0,350.2 479.6,348.5 480.1,348.6 480.7,350.5 481.2,350.9 481.8,349.0 482.3,349.5 482.9,349.6 483.4,349.7 484.0,349.8 484.5,350.0 485.1,349.5 485.6,351.3 486.2,350.1 486.7,350.2 487.3,349.1 487.8,348.4 488.4,348.3 488.9,348.1 489.5,349.3 490.0,350.0 490.6,349.5 491.1,348.6 491.7,349.7 492.2,350.2 492.8,350.5 493.3,351.1 493.9,351.4 494.4,350.2 495.0,350.0 495.5,349.7 496.1,348.9 496.6,349.7 497.2,349.7 497.7,351.2 498.3,347.7 498.8,349.5 499.4,349.9 499.9,349.6 500.5,350.0 501.0,350.0 501.6,350.8 502.1,351.4 502.7,350.5 503.2,351.7 503.8,350.4 504.3,349.5 504.9,351.2 505.4,351.4 506.0,351.3 506.5,352.6 507.1,352.3 507.6,351.7 508.2,350.4 508.7,350.8 509.3,350.4 509.8,351.4 510.4,351.0 510.9,351.5 511.5,350.8 512.0,350.0 512.6,350.2 513.1,351.3 513.7,350.4 514.2,351.7 514.8,350.6 515.3,349.2 515.9,351.8 516.4,351.4 517.0,350.6 517.5,350.7 518.1,350.1 518.6,349.8 519.2,350.6 519.7,349.3 520.3,349.3 520.8,350.5 521.4,350.5 521.9,350.5 522.5,350.7 523.0,350.1 523.6,350.2 524.1,349.2 524.7,350.3 525.2,349.6 525.8,348.8 526.3,349.5 526.9,349.1 527.4,350.3 528.0,351.2 528.5,351.4 529.1,351.6 529.6,354.1 530.2,351.3 530.7,348.7 531.3,351.8 531.8,349.7 532.4,351.0 532.9,351.0 533.5,350.2 534.0,350.8 534.6,351.1 535.1,352.3 535.7,349.5 536.2,348.9 536.8,350.3 537.3,350.7 537.9,351.4 538.4,352.0 539.0,348.8 539.5,348.2 540.1,349.6 540.6,350.7 541.2,349.4 541.7,348.7 542.3,349.6 542.8,351.0 543.4,349.8 543.9,349.1 544.5,348.6 545.0,349.1 545.6,349.3 546.1,350.2 546.7,347.6 547.2,349.1 547.8,349.4 548.3,349.5 548.9,350.3 549.4,349.4 550.0,350.5 550.5,349.0 551.1,348.3 551.6,349.9 552.2,350.2 552.7,349.7 553.3,350.7 553.8,349.1 554.4,349.1 554.9,348.9 555.5,351.5 556.0,349.0 556.6,349.5 557.1,348.7 557.6,349.0 558.2,349.6 558.7,349.5 559.3,348.9 559.8,349.3 560.4,348.1 560.9,349.6 561.5,351.2 562.0,351.5 562.6,347.4 563.1,349.8 563.7,350.1 564.2,346.3 564.8,348.8 565.3,349.2 565.9,350.1 566.4,349.4 567.0,350.5 567.5,352.0 568.1,350.9 568.6,350.8 569.2,350.3 569.7,350.7 570.3,350.9 570.8,351.2 571.4,350.2 571.9,350.6 572.5,350.9 573.0,349.4 573.6,348.5 574.1,348.9 574.7,349.5 575.2,350.0 575.8,350.2 576.3,350.0 576.9,351.0 577.4,350.0 578.0,351.0 578.5,349.8 579.1,350.1 579.6,349.6 580.2,348.8 580.7,348.4 581.3,348.0 581.8,348.6 582.4,350.3 582.9,349.8 583.5,350.2 584.0,350.2 584.6,350.0 585.1,348.1 585.7,347.4 586.2,349.1 586.8,350.3 587.3,351.4 587.9,351.4 588.4,351.6 589.0,351.3 589.5,349.7 590.1,349.5 590.6,347.7 591.2,348.5 591.7,350.0 592.3,351.3 592.8,352.4 593.4,351.4 593.9,351.1 594.5,348.6 595.0,349.5 595.6,348.9 596.1,347.4 596.7,348.0 597.2,347.9 597.8,350.7 598.3,352.9 598.9,352.1 599.4,352.7 600.0,350.8 600.5,348.7 601.1,348.4 601.6,345.5 602.2,348.4 602.7,349.9 603.3,352.3 603.8,348.3 604.4,351.6 604.9,350.9 605.5,350.8 606.0,348.1 606.6,347.6 607.1,348.2 607.7,350.0 608.2,349.7 608.8,349.0 609.3,345.9 609.9,347.3 610.4,350.1 611.0,349.7 611.5,349.1 612.1,350.2 612.6,350.3 613.2,350.8 613.7,350.3 614.3,348.8 614.8,349.7 615.4,349.9 615.9,350.4 616.5,349.6 617.0,351.2 617.6,351.3 618.1,351.1 618.7,351.4 619.2,352.4 619.8,352.0 620.3,351.7 620.9,349.8 621.4,349.4 622.0,349.2 622.5,351.3 623.1,350.9 623.6,350.1 624.2,348.6 624.7,350.6 625.3,350.5 625.8,352.6 626.4,351.7 626.9,351.7 627.5,351.7 628.0,351.5 628.6,350.6 629.1,352.1 629.7,347.9 630.2,351.0 630.8,350.9 631.3,351.0 631.9,349.4 632.4,350.8 633.0,350.3 633.5,349.2 634.1,351.0 634.6,352.6 635.2,351.6 635.7,350.0 636.3,349.6 636.8,350.3 637.4,347.6 637.9,351.4 638.5,350.9 639.0,350.5 639.6,350.0 640.1,349.0 640.7,349.0 641.2,348.5 641.8,349.1 642.3,350.4 642.9,350.8 643.4,349.7 644.0,347.3 644.5,349.0 645.1,350.3 645.6,350.0 646.2,348.9 646.7,349.9 647.3,349.4 647.8,349.7 648.4,350.7 648.9,350.1 649.5,349.7 650.0,349.9 650.6,349.2 651.1,348.9 651.7,349.8 652.2,348.5 652.8,350.7 653.3,351.4 653.9,351.6 654.4,350.4 655.0,350.6 655.5,349.5 656.1,350.1 656.6,351.0 657.2,351.1 657.7,351.1 658.3,350.1 658.8,348.1 659.4,348.4 659.9,350.7 660.5,351.8 661.0,350.8 661.6,351.0 662.1,351.1 662.7,349.8 663.2,349.1 663.8,350.4 664.3,349.8 664.9,349.6 665.4,350.2 666.0,348.3 666.5,348.1 667.1,348.4 667.6,348.4 668.2,349.8 668.7,348.8 669.3,348.4 669.8,349.6 670.4,350.4 670.9,347.4 671.5,350.6 672.0,349.5 672.6,348.2 673.1,350.7 673.7,350.1 674.2,349.4 674.8,349.7 675.3,349.2 675.9,350.2 676.4,349.8 677.0,348.2 677.5,348.0 678.1,349.8 678.6,348.1 679.2,348.5 679.7,349.0 680.3,349.0 680.8,347.9 681.4,349.3 681.9,350.2 682.5,348.9 683.0,349.6 683.6,349.6 684.1,350.1 684.7,350.1 685.2,350.6 685.8,350.3 686.3,351.6 686.9,349.8 687.4,350.9 688.0,351.0 688.5,349.2 689.1,349.7 689.6,349.4 690.2,350.0 690.7,349.7 691.3,349.6 691.3,352.2 690.7,353.0 690.2,355.0 689.6,352.4 689.1,352.5 688.5,352.9 688.0,354.6 687.4,354.7 686.9,353.2 686.3,354.6 685.8,353.9 685.2,353.7 684.7,354.1 684.1,352.8 683.6,355.7 683.0,355.0 682.5,352.4 681.9,353.2 681.4,352.7 680.8,351.4 680.3,352.0 679.7,352.3 679.2,351.2 678.6,351.8 678.1,354.5 677.5,353.7 677.0,353.4 676.4,353.1 675.9,354.7 675.3,352.7 674.8,354.3 674.2,352.8 673.7,353.0 673.1,354.0 672.6,351.3 672.0,352.8 671.5,353.6 670.9,353.8 670.4,353.7 669.8,353.2 669.3,352.3 668.7,352.7 668.2,354.2 667.6,353.1 667.1,351.9 666.5,351.5 666.0,352.0 665.4,353.7 664.9,354.0 664.3,352.8 663.8,353.6 663.2,352.6 662.7,353.0 662.1,354.2 661.6,355.1 661.0,353.9 660.5,355.7 659.9,353.7 659.4,353.4 658.8,353.2 658.3,353.2 657.7,354.7 657.2,354.1 656.6,353.9 656.1,353.1 655.5,352.2 655.0,354.0 654.4,354.3 653.9,355.1 653.3,354.6 652.8,353.6 652.2,352.6 651.7,354.6 651.1,351.6 650.6,352.5 650.0,354.8 649.5,353.7 648.9,354.6 648.4,353.5 647.8,353.9 647.3,353.7 646.7,352.7 646.2,352.9 645.6,352.8 645.1,353.1 644.5,353.6 644.0,353.4 643.4,355.3 642.9,353.3 642.3,353.8 641.8,352.5 641.2,352.4 640.7,353.1 640.1,352.8 639.6,354.2 639.0,353.2 638.5,354.7 637.9,356.3 637.4,353.6 636.8,354.1 636.3,352.9 635.7,354.7 635.2,354.4 634.6,356.7 634.1,354.5 633.5,354.6 633.0,353.4 632.4,354.3 631.9,354.1 631.3,354.1 630.8,354.1 630.2,353.9 629.7,352.8 629.1,355.4 628.6,354.9 628.0,354.2 627.5,355.0 626.9,355.3 626.4,354.7 625.8,355.7 625.3,353.9 624.7,354.1 624.2,354.2 623.6,353.7 623.1,354.1 622.5,354.1 622.0,355.3 621.4,353.3 620.9,353.9 620.3,354.7 619.8,356.0 619.2,355.7 618.7,354.8 618.1,354.8 617.6,355.4 617.0,354.8 616.5,353.0 615.9,353.3 615.4,353.3 614.8,352.8 614.3,353.2 613.7,355.8 613.2,354.0 612.6,354.4 612.1,354.3 611.5,352.6 611.0,353.3 610.4,353.6 609.9,351.9 609.3,352.9 608.8,352.7 608.2,353.3 607.7,356.5 607.1,353.4 606.6,352.9 606.0,352.5 605.5,355.5 604.9,354.1 604.4,354.3 603.8,354.9 603.3,355.3 602.7,353.0 602.2,351.3 601.6,351.3 601.1,351.1 600.5,353.4 600.0,353.8 599.4,356.2 598.9,355.1 598.3,358.1 597.8,354.4 597.2,351.3 596.7,351.3 596.1,350.4 595.6,352.2 595.0,352.6 594.5,354.1 593.9,355.2 593.4,355.1 592.8,355.4 592.3,354.2 591.7,352.6 591.2,351.7 590.6,351.1 590.1,352.4 589.5,354.4 589.0,354.3 588.4,354.6 587.9,355.0 587.3,354.5 586.8,353.8 586.2,352.6 585.7,351.0 585.1,352.2 584.6,353.1 584.0,353.4 583.5,353.5 582.9,354.3 582.4,353.5 581.8,351.6 581.3,351.0 580.7,351.6 580.2,352.3 579.6,352.4 579.1,353.4 578.5,354.5 578.0,357.2 577.4,353.8 576.9,354.2 576.3,353.3 575.8,353.2 575.2,353.3 574.7,353.7 574.1,352.8 573.6,354.7 573.0,354.2 572.5,354.1 571.9,354.3 571.4,353.4 570.8,353.9 570.3,357.0 569.7,354.2 569.2,353.8 568.6,354.0 568.1,354.8 567.5,354.8 567.0,353.6 566.4,352.2 565.9,353.1 565.3,352.6 564.8,353.8 564.2,351.6 563.7,353.3 563.1,353.6 562.6,354.7 562.0,354.5 561.5,354.7 560.9,356.4 560.4,351.1 559.8,352.1 559.3,353.6 558.7,352.3 558.2,353.0 557.6,352.3 557.1,353.0 556.6,353.5 556.0,353.5 555.5,354.2 554.9,354.9 554.4,351.9 553.8,352.6 553.3,353.8 552.7,352.6 552.2,354.5 551.6,353.6 551.1,352.4 550.5,351.7 550.0,353.9 549.4,353.9 548.9,354.3 548.3,354.0 547.8,352.6 547.2,352.7 546.7,352.6 546.1,352.9 545.6,352.2 545.0,352.2 544.5,351.7 543.9,353.2 543.4,353.4 542.8,354.0 542.3,353.4 541.7,353.8 541.2,353.8 540.6,354.2 540.1,353.3 539.5,351.4 539.0,353.2 538.4,355.7 537.9,354.4 537.3,353.8 536.8,353.2 536.2,352.8 535.7,353.1 535.1,355.4 534.6,354.3 534.0,353.7 533.5,353.3 532.9,354.4 532.4,354.7 531.8,354.1 531.3,355.3 530.7,354.1 530.2,355.1 529.6,356.7 529.1,355.3 528.5,353.9 528.0,354.0 527.4,354.2 526.9,352.1 526.3,353.2 525.8,353.3 525.2,352.7 524.7,353.9 524.1,355.4 523.6,352.7 523.0,353.8 522.5,354.3 521.9,354.5 521.4,353.0 520.8,354.7 520.3,353.8 519.7,352.9 519.2,354.2 518.6,352.9 518.1,353.2 517.5,353.2 517.0,355.1 516.4,354.5 515.9,354.9 515.3,354.9 514.8,354.4 514.2,354.6 513.7,353.1 513.1,355.1 512.6,355.4 512.0,353.2 511.5,354.2 510.9,354.5 510.4,354.7 509.8,354.2 509.3,353.2 508.7,354.6 508.2,353.5 507.6,355.1 507.1,355.0 506.5,356.0 506.0,354.8 505.4,354.4 504.9,354.6 504.3,354.0 503.8,355.7 503.2,354.8 502.7,354.7 502.1,354.8 501.6,354.5 501.0,353.3 500.5,352.6 499.9,353.8 499.4,353.4 498.8,353.6 498.3,354.0 497.7,354.3 497.2,353.6 496.6,352.3 496.1,352.4 495.5,352.3 495.0,353.0 494.4,356.8 493.9,355.0 493.3,354.0 492.8,355.5 492.2,352.8 491.7,353.2 491.1,351.8 490.6,352.7 490.0,353.1 489.5,354.7 488.9,351.4 488.4,353.2 487.8,351.0 487.3,352.1 486.7,353.4 486.2,352.8 485.6,354.5 485.1,353.2 484.5,353.3 484.0,352.8 483.4,354.5 482.9,353.2 482.3,353.4 481.8,353.0 481.2,354.5 480.7,353.3 480.1,352.1 479.6,352.0 479.0,354.0 478.5,354.7 477.9,353.7 477.4,354.9 476.8,354.1 476.3,357.4 475.7,352.6 475.2,354.2 474.6,354.3 474.1,354.0 473.5,352.8 473.0,353.4 472.4,354.2 471.9,354.6 471.3,353.6 470.8,354.2 470.2,353.0 469.7,353.9 469.1,351.2 468.6,354.5 468.0,355.3 467.5,352.3 466.9,353.0 466.4,353.7 465.8,353.9 465.3,353.0 464.7,354.4 464.2,354.5 463.6,351.7 463.1,352.2 462.5,354.3 462.0,353.7 461.4,352.6 460.9,353.3 460.3,353.2 459.8,352.0 459.2,352.4 458.7,353.4 458.1,353.5 457.6,357.2 457.0,357.2 456.5,354.3 455.9,354.2 455.4,353.0 454.8,352.6 454.3,355.8 453.7,352.7 453.2,353.4 452.6,353.6 452.1,353.1 451.5,354.5 451.0,354.9 450.4,354.3 449.9,354.2 449.3,354.4 448.8,353.7 448.2,353.5 447.7,352.3 447.1,353.0 446.6,353.2 446.0,353.4 445.5,352.9 444.9,353.5 444.4,352.8 443.8,353.9 443.3,354.9 442.7,353.7 442.2,353.8 441.6,354.6 441.1,354.6 440.5,355.1 440.0,356.1 439.4,355.0 438.9,355.8 438.3,354.2 437.8,354.0 437.2,353.7 436.7,355.7 436.1,352.2 435.6,353.0 435.0,355.5 434.5,354.6 433.9,353.9 433.4,353.3 432.8,353.5 432.3,353.9 431.7,352.0 431.2,354.0 430.6,353.1 430.1,353.7 429.5,353.4 429.0,353.4 428.4,353.3 427.9,352.9 427.3,354.1 426.8,354.0 426.2,352.6 425.7,352.5 425.1,352.9 424.6,353.7 424.0,352.4 423.5,352.5 422.9,352.2 422.4,352.4 421.8,353.8 421.3,354.1 420.7,352.7 420.2,353.9 419.6,353.9 419.1,351.9 418.5,351.5 418.0,352.7 417.4,352.5 416.9,352.1 416.3,352.2 415.8,352.6 415.2,353.2 414.7,352.9 414.1,353.2 413.6,353.2 413.0,353.8 412.5,353.4 411.9,354.1 411.4,355.6 410.8,353.9 410.3,353.2 409.7,352.2 409.2,352.2 408.6,354.4 408.1,351.8 407.5,354.4 407.0,353.4 406.4,354.1 405.9,353.7 405.3,354.6 404.8,355.1 404.2,354.5 403.7,354.9 403.1,354.3 402.6,353.8 402.0,354.1 401.5,353.3 400.9,353.2 400.4,353.3 399.8,353.3 399.3,353.9 398.7,353.3 398.2,353.8 397.6,354.2 397.1,355.2 396.5,353.6 396.0,354.8 395.4,354.7 394.9,353.6 394.3,353.4 393.8,354.0 393.2,353.4 392.7,354.9 392.1,354.2 391.6,353.6 391.0,352.7 390.5,353.1 389.9,353.0 389.4,353.7 388.8,354.3 388.3,355.1 387.7,354.2 387.2,353.7 386.6,353.1 386.1,353.0 385.5,353.2 385.0,353.7 384.4,354.2 383.9,353.1 383.3,354.9 382.8,355.5 382.2,353.1 381.7,355.6 381.1,353.6 380.6,355.2 380.0,355.1 379.5,354.3 378.9,356.3 378.4,355.8 377.8,354.1 377.3,356.5 376.7,352.9 376.2,352.3 375.6,352.0 375.1,352.7 374.5,354.2 374.0,354.4 373.4,353.6 372.9,354.3 372.3,354.1 371.8,355.9 371.2,355.6 370.7,351.0 370.1,352.1 369.6,353.3 369.0,353.9 368.5,354.9 367.9,354.6 367.4,354.2 366.8,355.5 366.3,354.8 365.7,357.7 365.2,355.6 364.6,354.5 364.1,353.5 363.5,353.1 363.0,354.2 362.4,352.7 361.9,352.8 361.3,353.1 360.8,353.5 360.2,354.0 359.7,356.6 359.1,355.0 358.6,354.1 358.0,352.8 357.5,353.6 356.9,353.9 356.4,352.9 355.8,353.4 355.3,351.6 354.7,353.9 354.2,353.9 353.6,354.5 353.1,353.6 352.5,353.6 352.0,355.9 351.4,352.8 350.9,353.0 350.3,353.1 349.8,352.2 349.2,351.1 348.7,351.9 348.1,351.6 347.6,351.8 347.0,354.3 346.5,354.1 345.9,353.9 345.4,353.4 344.8,353.8 344.3,355.6 343.7,353.9 343.2,353.9 342.6,351.1 342.1,352.5 341.5,354.9 341.0,354.3 340.4,354.0 339.9,357.0 339.3,354.8 338.8,353.1 338.2,353.3 337.7,354.1 337.1,353.8 336.6,352.7 336.0,351.8 335.5,353.4 334.9,353.8 334.4,353.9 333.8,354.4 333.3,353.8 332.7,353.5 332.2,354.3 331.6,354.3 331.1,355.1 330.5,353.2 329.9,355.5 329.4,352.6Z" fill="#000" stroke="#000" stroke-width="0.6" stroke-linejoin="round"/><text x="323.5" y="357.0" text-anchor="end" class="tl">6</text><path d="M327.6,416.1 328.2,417.1 328.7,416.4 329.3,416.0 329.8,415.1 330.4,415.7 330.9,415.3 331.5,414.4 332.0,416.7 332.6,415.8 333.1,415.5 333.7,415.7 334.2,416.5 334.8,414.7 335.3,415.2 335.9,415.0 336.4,415.3 337.0,415.0 337.5,416.5 338.1,415.5 338.6,416.6 339.2,416.1 339.7,415.4 340.3,416.1 340.8,416.1 341.4,416.8 341.9,418.3 342.5,417.6 343.0,417.4 343.6,416.3 344.1,416.9 344.7,416.3 345.2,415.0 345.8,416.0 346.3,418.2 346.9,418.1 347.4,416.8 348.0,416.5 348.5,415.2 349.1,416.1 349.6,415.7 350.2,414.7 350.7,416.1 351.3,416.3 351.8,415.4 352.4,416.8 352.9,416.6 353.5,416.5 354.0,416.7 354.6,416.8 355.1,416.9 355.7,416.8 356.2,416.2 356.8,418.9 357.3,420.7 357.9,421.8 358.4,419.7 359.0,418.0 359.5,417.3 360.1,416.1 360.6,414.6 361.2,414.6 361.7,416.2 362.3,417.1 362.8,414.5 363.4,418.8 363.9,419.0 364.5,418.7 365.0,418.7 365.6,417.4 366.1,416.0 366.7,415.4 367.2,416.3 367.8,414.2 368.3,413.3 368.9,414.4 369.4,414.6 370.0,416.7 370.5,418.5 371.1,417.6 371.6,418.2 372.2,417.2 372.7,416.5 373.3,416.8 373.8,413.1 374.4,414.6 374.9,415.4 375.5,416.1 376.0,417.0 376.6,415.9 377.1,415.5 377.7,417.7 378.2,417.3 378.8,416.6 379.3,416.7 379.9,416.4 380.4,414.8 381.0,415.4 381.5,414.7 382.1,417.3 382.6,415.2 383.2,416.1 383.7,417.1 384.3,417.1 384.8,415.8 385.4,416.0 385.9,415.6 386.5,416.3 387.0,416.1 387.6,417.6 388.1,415.9 388.7,417.4 389.2,414.9 389.8,416.4 390.3,416.4 390.9,415.7 391.4,416.7 392.0,414.8 392.5,415.4 393.1,415.3 393.6,415.0 394.2,415.7 394.7,412.9 395.3,416.2 395.8,417.5 396.4,417.9 396.9,417.0 397.5,417.5 398.0,417.3 398.6,416.1 399.1,417.4 399.7,418.9 400.2,417.2 400.8,417.9 401.3,416.0 401.9,417.1 402.4,416.8 403.0,417.0 403.5,417.8 404.1,417.9 404.6,413.8 405.2,416.2 405.7,417.1 406.3,416.1 406.8,415.6 407.4,415.3 407.9,416.7 408.5,415.6 409.0,415.5 409.6,416.5 410.1,416.2 410.7,417.0 411.2,416.0 411.8,414.7 412.3,417.2 412.9,415.6 413.4,416.9 414.0,415.4 414.5,415.1 415.1,416.0 415.6,416.5 416.2,416.7 416.7,415.3 417.3,416.6 417.8,415.0 418.4,417.3 418.9,417.0 419.5,418.5 420.0,417.4 420.6,416.8 421.1,416.1 421.7,415.8 422.2,416.9 422.8,416.2 423.3,415.9 423.9,416.4 424.4,415.9 425.0,417.8 425.5,417.2 426.1,418.5 426.6,418.6 427.2,417.8 427.7,417.9 428.3,415.4 428.8,414.2 429.4,414.4 429.9,412.5 430.5,415.7 431.0,416.2 431.6,415.9 432.1,415.6 432.7,415.7 433.2,416.1 433.8,415.4 434.3,414.4 434.9,415.5 435.4,416.2 436.0,415.4 436.5,416.1 437.1,417.4 437.6,417.9 438.2,414.7 438.7,416.7 439.3,417.5 439.8,417.1 440.4,416.3 440.9,417.2 441.5,416.5 442.0,416.4 442.6,416.2 443.1,417.0 443.7,414.5 444.2,416.0 444.8,417.0 445.3,417.7 445.9,416.5 446.4,413.8 447.0,416.4 447.5,416.0 448.1,417.1 448.6,416.0 449.2,416.9 449.7,414.0 450.3,415.6 450.8,414.8 451.4,413.5 451.9,415.9 452.5,415.3 453.0,415.9 453.6,416.5 454.1,416.6 454.7,415.0 455.2,416.3 455.8,416.6 456.3,415.8 456.9,416.9 457.4,416.3 458.0,416.3 458.5,415.4 459.1,416.9 459.6,417.4 460.2,417.7 460.7,416.6 461.3,416.9 461.8,417.2 462.4,417.5 462.9,416.3 463.5,416.4 464.0,416.9 464.6,417.2 465.1,418.1 465.7,416.7 466.2,418.3 466.8,419.3 467.3,417.2 467.9,418.6 468.4,417.9 469.0,418.7 469.5,417.8 470.1,417.3 470.6,416.5 471.2,415.3 471.7,416.2 472.3,415.7 472.8,416.5 473.4,417.0 473.9,416.4 474.5,416.5 475.0,415.7 475.6,416.4 476.1,417.6 476.7,415.6 477.2,416.3 477.8,415.3 478.3,415.7 478.9,415.2 479.4,416.3 480.0,416.7 480.5,416.4 481.1,416.6 481.6,417.2 482.2,418.2 482.7,417.6 483.3,417.7 483.8,416.6 484.4,415.6 484.9,416.6 485.5,415.7 486.0,416.4 486.6,415.7 487.1,417.1 487.7,417.3 488.2,415.6 488.8,416.7 489.3,416.4 489.9,415.9 490.4,416.1 491.0,415.5 491.5,416.4 492.1,416.2 492.6,416.5 493.2,416.4 493.7,417.7 494.3,415.2 494.8,414.4 495.4,416.0 495.9,417.2 496.5,415.8 497.0,417.5 497.6,415.6 498.1,416.5 498.7,416.5 499.2,415.8 499.8,416.2 500.3,418.5 500.9,417.1 501.4,415.4 502.0,415.2 502.5,416.6 503.1,416.2 503.6,416.8 504.2,416.8 504.7,415.9 505.3,413.9 505.8,417.6 506.4,415.1 506.9,415.9 507.5,415.0 508.0,416.1 508.6,416.6 509.1,415.8 509.7,415.1 510.2,415.2 510.8,415.7 511.3,417.7 511.9,417.5 512.4,416.4 513.0,416.7 513.5,415.4 514.1,415.2 514.6,417.6 515.2,418.3 515.7,417.4 516.3,415.7 516.8,416.2 517.4,416.7 517.9,415.4 518.5,416.5 519.0,415.7 519.6,417.3 520.1,417.4 520.7,417.2 521.2,417.3 521.8,415.7 522.3,416.6 522.9,417.0 523.4,417.7 524.0,416.8 524.5,416.2 525.1,416.0 525.6,415.0 526.2,416.4 526.7,418.1 527.3,417.6 527.8,417.4 528.4,418.0 528.9,418.4 529.5,416.7 530.0,419.3 530.6,416.0 531.1,416.6 531.7,417.7 532.2,417.9 532.8,418.2 533.3,417.2 533.9,416.5 534.4,415.5 535.0,417.1 535.5,417.5 536.1,416.5 536.6,416.1 537.2,417.7 537.7,416.6 538.3,417.5 538.8,416.5 539.4,415.8 539.9,415.8 540.5,418.7 541.0,418.3 541.6,418.1 542.1,417.8 542.7,417.7 543.2,418.6 543.8,417.7 544.3,418.7 544.9,417.5 545.4,418.5 546.0,417.6 546.5,417.6 547.1,417.0 547.6,417.0 548.2,415.0 548.7,415.4 549.3,417.0 549.8,417.4 550.4,417.6 550.9,417.1 551.5,417.4 552.0,417.2 552.6,417.6 553.1,417.0 553.7,416.1 554.2,416.3 554.8,416.8 555.3,414.7 555.9,417.2 556.4,417.2 557.0,417.8 557.5,416.8 558.1,416.2 558.6,415.9 559.1,416.4 559.7,414.7 560.2,417.0 560.8,417.0 561.3,416.8 561.9,417.3 562.4,415.9 563.0,416.1 563.5,417.0 564.1,417.5 564.6,415.1 565.2,416.2 565.7,416.7 566.3,417.0 566.8,416.4 567.4,415.6 567.9,416.2 568.5,417.0 569.0,414.2 569.6,416.5 570.1,417.6 570.7,416.0 571.2,415.9 571.8,415.4 572.3,416.2 572.9,416.0 573.4,416.9 574.0,416.7 574.5,415.7 575.1,416.4 575.6,416.4 576.2,415.4 576.7,417.8 577.3,416.9 577.8,417.1 578.4,417.1 578.9,417.6 579.5,417.7 580.0,418.8 580.6,416.9 581.1,415.1 581.7,416.6 582.2,416.7 582.8,417.4 583.3,415.8 583.9,415.9 584.4,415.2 585.0,415.8 585.5,415.0 586.1,415.2 586.6,417.0 587.2,415.5 587.7,416.0 588.3,416.5 588.8,414.7 589.4,414.0 589.9,413.8 590.5,413.0 591.0,414.8 591.6,416.6 592.1,418.5 592.7,417.1 593.2,416.8 593.8,415.4 594.3,415.1 594.9,411.9 595.4,413.5 596.0,414.5 596.5,416.7 597.1,417.9 597.6,416.7 598.2,418.1 598.7,417.7 599.3,416.7 599.8,414.3 600.4,415.7 600.9,414.5 601.5,414.7 602.0,415.9 602.6,416.9 603.1,417.5 603.7,417.8 604.2,417.4 604.8,415.0 605.3,416.3 605.9,415.9 606.4,414.0 607.0,415.7 607.5,415.7 608.1,418.0 608.6,417.4 609.2,417.5 609.7,414.2 610.3,416.0 610.8,415.6 611.4,415.2 611.9,415.7 612.5,416.0 613.0,417.3 613.6,415.4 614.1,415.0 614.7,416.6 615.2,416.1 615.8,415.0 616.3,415.0 616.9,416.3 617.4,415.8 618.0,416.5 618.5,416.8 619.1,417.1 619.6,417.8 620.2,416.8 620.7,416.6 621.3,415.1 621.8,415.6 622.4,415.7 622.9,415.2 623.5,415.3 624.0,415.4 624.6,416.0 625.1,413.6 625.7,414.8 626.2,414.4 626.8,414.2 627.3,415.1 627.9,415.0 628.4,416.9 629.0,416.6 629.5,417.0 630.1,416.8 630.6,416.2 631.2,416.8 631.7,416.4 632.3,417.1 632.8,416.5 633.4,417.0 633.9,415.9 634.5,417.6 635.0,415.9 635.6,416.0 636.1,416.7 636.7,416.0 637.2,415.4 637.8,416.2 638.3,416.1 638.9,415.0 639.4,417.3 640.0,416.9 640.5,415.4 641.1,416.0 641.6,416.2 642.2,414.1 642.7,416.0 643.3,415.6 643.8,417.3 644.4,416.3 644.9,415.7 645.5,417.0 646.0,417.7 646.6,416.2 647.1,415.5 647.7,417.5 648.2,417.4 648.8,416.9 649.3,416.6 649.9,416.3 650.4,413.6 651.0,415.6 651.5,416.8 652.1,414.6 652.6,416.1 653.2,415.6 653.7,415.6 654.3,415.7 654.8,416.9 655.4,417.8 655.9,416.2 656.5,417.1 657.0,418.6 657.6,416.5 658.1,416.3 658.7,415.2 659.2,413.9 659.8,416.7 660.3,416.2 660.9,416.2 661.4,414.1 662.0,415.6 662.5,416.4 663.1,415.7 663.6,416.5 664.2,417.0 664.7,416.4 665.3,415.4 665.8,416.0 666.4,415.7 666.9,415.9 667.5,416.7 668.0,415.9 668.6,416.4 669.1,415.3 669.7,417.3 670.2,416.8 670.8,417.7 671.3,416.2 671.9,416.4 672.4,416.4 673.0,415.9 673.5,416.4 674.1,416.7 674.6,416.6 675.2,416.2 675.7,416.9 676.3,416.9 676.8,417.1 677.4,416.2 677.9,417.8 678.5,416.4 679.0,414.7 679.6,416.5 680.1,417.9 680.7,416.8 681.2,416.7 681.8,417.4 682.3,416.7 682.9,415.6 683.4,416.1 684.0,414.6 684.5,415.8 685.1,417.1 685.6,416.9 686.2,417.2 686.7,416.7 687.3,416.7 687.8,418.0 688.4,418.1 688.9,418.6 689.5,417.6 690.0,416.0 690.6,416.3 690.6,419.8 690.0,419.5 689.5,420.5 688.9,423.5 688.4,421.4 687.8,421.1 687.3,420.6 686.7,419.9 686.2,420.0 685.6,421.8 685.1,420.0 684.5,419.6 684.0,418.0 683.4,418.9 682.9,419.2 682.3,420.0 681.8,420.8 681.2,423.1 680.7,419.4 680.1,421.6 679.6,421.1 679.0,419.8 678.5,419.7 677.9,420.8 677.4,420.1 676.8,423.1 676.3,420.1 675.7,419.8 675.2,420.4 674.6,419.8 674.1,420.6 673.5,419.2 673.0,421.4 672.4,419.5 671.9,419.4 671.3,419.5 670.8,420.5 670.2,420.1 669.7,420.9 669.1,420.8 668.6,419.8 668.0,419.0 667.5,419.6 666.9,419.4 666.4,419.0 665.8,418.9 665.3,419.0 664.7,420.3 664.2,420.6 663.6,419.8 663.1,419.4 662.5,419.3 662.0,419.1 661.4,419.3 660.9,419.7 660.3,419.4 659.8,420.2 659.2,417.4 658.7,418.7 658.1,418.8 657.6,420.9 657.0,421.6 656.5,419.9 655.9,419.7 655.4,420.7 654.8,419.8 654.3,418.4 653.7,419.2 653.2,418.7 652.6,419.3 652.1,418.9 651.5,420.2 651.0,418.6 650.4,419.8 649.9,422.2 649.3,419.9 648.8,420.9 648.2,419.9 647.7,421.5 647.1,419.6 646.6,419.8 646.0,421.0 645.5,420.6 644.9,419.1 644.4,420.8 643.8,421.5 643.3,419.2 642.7,418.4 642.2,419.9 641.6,419.9 641.1,419.0 640.5,418.3 640.0,422.7 639.4,420.2 638.9,419.2 638.3,418.7 637.8,419.1 637.2,420.6 636.7,422.1 636.1,419.7 635.6,419.3 635.0,421.1 634.5,421.0 633.9,420.0 633.4,423.1 632.8,420.2 632.3,420.9 631.7,420.7 631.2,420.1 630.6,421.7 630.1,420.5 629.5,420.2 629.0,419.1 628.4,420.5 627.9,418.5 627.3,419.6 626.8,417.4 626.2,418.6 625.7,418.8 625.1,418.5 624.6,419.8 624.0,420.2 623.5,418.8 622.9,419.5 622.4,419.9 621.8,419.2 621.3,419.0 620.7,419.5 620.2,419.5 619.6,421.7 619.1,420.3 618.5,419.4 618.0,419.7 617.4,419.0 616.9,420.9 616.3,422.2 615.8,419.8 615.2,418.7 614.7,419.8 614.1,420.8 613.6,419.1 613.0,421.1 612.5,420.0 611.9,418.6 611.4,418.1 610.8,418.8 610.3,419.7 609.7,420.2 609.2,420.2 608.6,421.1 608.1,423.4 607.5,421.0 607.0,418.2 606.4,417.0 605.9,419.0 605.3,418.9 604.8,418.7 604.2,420.5 603.7,421.2 603.1,421.0 602.6,423.0 602.0,419.2 601.5,419.2 600.9,418.4 600.4,418.5 599.8,417.1 599.3,419.4 598.7,420.9 598.2,421.5 597.6,422.5 597.1,420.8 596.5,420.0 596.0,417.7 595.4,416.9 594.9,416.4 594.3,418.8 593.8,419.2 593.2,421.9 592.7,422.1 592.1,421.3 591.6,420.1 591.0,418.4 590.5,416.7 589.9,416.6 589.4,417.6 588.8,419.3 588.3,421.6 587.7,420.1 587.2,420.2 586.6,419.7 586.1,418.2 585.5,418.3 585.0,418.4 584.4,418.3 583.9,422.2 583.3,420.2 582.8,420.5 582.2,421.3 581.7,420.0 581.1,418.8 580.6,420.0 580.0,421.4 579.5,421.4 578.9,420.9 578.4,420.3 577.8,420.4 577.3,420.1 576.7,420.7 576.2,418.1 575.6,419.4 575.1,419.9 574.5,419.3 574.0,421.2 573.4,419.5 572.9,419.8 572.3,418.7 571.8,418.5 571.2,418.8 570.7,418.8 570.1,420.9 569.6,422.0 569.0,420.3 568.5,420.7 567.9,419.4 567.4,418.8 566.8,420.5 566.3,419.9 565.7,419.3 565.2,419.3 564.6,419.3 564.1,420.7 563.5,420.2 563.0,420.7 562.4,418.4 561.9,420.7 561.3,420.0 560.8,419.6 560.2,420.1 559.7,418.6 559.1,418.9 558.6,420.2 558.1,418.7 557.5,419.8 557.0,421.1 556.4,421.5 555.9,420.5 555.3,419.4 554.8,420.2 554.2,420.1 553.7,418.8 553.1,420.6 552.6,422.3 552.0,420.3 551.5,420.8 550.9,420.3 550.4,420.9 549.8,421.4 549.3,419.8 548.7,419.8 548.2,420.5 547.6,419.8 547.1,420.1 546.5,421.5 546.0,421.6 545.4,421.3 544.9,420.1 544.3,421.9 543.8,420.6 543.2,425.0 542.7,423.5 542.1,421.0 541.6,421.3 541.0,421.5 540.5,421.3 539.9,420.1 539.4,419.8 538.8,419.3 538.3,420.4 537.7,420.0 537.2,421.0 536.6,419.8 536.1,419.8 535.5,420.6 535.0,420.4 534.4,420.5 533.9,419.8 533.3,420.4 532.8,420.9 532.2,422.1 531.7,421.9 531.1,420.1 530.6,421.0 530.0,422.5 529.5,420.7 528.9,421.6 528.4,420.9 527.8,420.7 527.3,420.6 526.7,421.0 526.2,419.8 525.6,417.8 525.1,419.3 524.5,420.5 524.0,419.9 523.4,420.6 522.9,420.2 522.3,419.5 521.8,419.7 521.2,419.9 520.7,420.5 520.1,423.1 519.6,421.4 519.0,419.3 518.5,419.7 517.9,418.9 517.4,419.6 516.8,420.8 516.3,420.8 515.7,420.3 515.2,421.1 514.6,420.4 514.1,419.9 513.5,418.5 513.0,419.9 512.4,420.3 511.9,420.3 511.3,420.9 510.8,419.5 510.2,420.2 509.7,418.6 509.1,419.2 508.6,419.4 508.0,419.5 507.5,419.7 506.9,419.5 506.4,419.0 505.8,420.3 505.3,419.1 504.7,419.0 504.2,419.7 503.6,420.3 503.1,419.6 502.5,419.6 502.0,421.8 501.4,419.5 500.9,419.8 500.3,422.4 499.8,420.9 499.2,419.2 498.7,419.4 498.1,420.1 497.6,420.6 497.0,420.1 496.5,420.6 495.9,420.2 495.4,419.1 494.8,419.3 494.3,420.2 493.7,422.1 493.2,419.7 492.6,421.2 492.1,418.8 491.5,419.4 491.0,419.4 490.4,419.6 489.9,421.2 489.3,419.4 488.8,422.7 488.2,420.3 487.7,419.8 487.1,420.1 486.6,419.0 486.0,420.4 485.5,418.9 484.9,419.6 484.4,419.1 483.8,420.1 483.3,421.3 482.7,422.7 482.2,421.3 481.6,420.4 481.1,419.3 480.5,419.8 480.0,419.7 479.4,419.8 478.9,418.6 478.3,420.1 477.8,419.0 477.2,419.2 476.7,420.1 476.1,421.2 475.6,420.1 475.0,418.7 474.5,419.2 473.9,419.6 473.4,421.3 472.8,420.0 472.3,419.8 471.7,419.0 471.2,418.9 470.6,420.3 470.1,420.3 469.5,423.2 469.0,422.2 468.4,421.4 467.9,421.3 467.3,421.1 466.8,422.3 466.2,423.2 465.7,420.5 465.1,421.6 464.6,421.1 464.0,420.3 463.5,420.0 462.9,421.3 462.4,422.0 461.8,420.3 461.3,421.0 460.7,420.6 460.2,420.8 459.6,420.2 459.1,420.7 458.5,420.1 458.0,421.1 457.4,420.8 456.9,419.4 456.3,419.3 455.8,420.1 455.2,420.9 454.7,418.7 454.1,419.2 453.6,422.5 453.0,418.7 452.5,421.0 451.9,419.9 451.4,418.3 450.8,420.5 450.3,419.2 449.7,418.9 449.2,422.1 448.6,419.8 448.1,420.0 447.5,419.9 447.0,419.6 446.4,420.0 445.9,420.2 445.3,420.4 444.8,420.3 444.2,420.1 443.7,420.6 443.1,420.3 442.6,418.8 442.0,419.3 441.5,419.8 440.9,419.9 440.4,419.2 439.8,420.4 439.3,423.6 438.7,419.5 438.2,421.1 437.6,420.5 437.1,420.4 436.5,419.3 436.0,419.0 435.4,419.2 434.9,418.5 434.3,418.7 433.8,418.4 433.2,419.2 432.7,419.1 432.1,418.2 431.6,419.1 431.0,419.5 430.5,419.4 429.9,418.6 429.4,417.6 428.8,417.8 428.3,418.6 427.7,422.1 427.2,421.0 426.6,422.0 426.1,421.2 425.5,420.8 425.0,421.5 424.4,419.4 423.9,420.8 423.3,420.3 422.8,419.8 422.2,420.3 421.7,420.6 421.1,419.4 420.6,421.4 420.0,420.6 419.5,421.8 418.9,420.4 418.4,420.1 417.8,419.2 417.3,419.8 416.7,419.0 416.2,419.8 415.6,420.0 415.1,419.0 414.5,417.6 414.0,418.8 413.4,420.5 412.9,420.1 412.3,420.5 411.8,419.1 411.2,419.4 410.7,422.1 410.1,423.5 409.6,419.4 409.0,418.3 408.5,419.1 407.9,419.8 407.4,420.4 406.8,420.3 406.3,420.4 405.7,420.0 405.2,420.3 404.6,419.9 404.1,421.0 403.5,420.7 403.0,420.6 402.4,423.3 401.9,420.6 401.3,420.5 400.8,421.0 400.2,420.7 399.7,421.7 399.1,420.9 398.6,420.4 398.0,421.6 397.5,423.0 396.9,420.0 396.4,420.6 395.8,421.1 395.3,419.4 394.7,420.1 394.2,422.3 393.6,419.6 393.1,419.1 392.5,418.9 392.0,418.3 391.4,420.0 390.9,419.2 390.3,419.5 389.8,420.9 389.2,419.7 388.7,420.6 388.1,420.4 387.6,422.6 387.0,419.7 386.5,419.3 385.9,419.0 385.4,419.0 384.8,418.7 384.3,420.4 383.7,420.9 383.2,422.5 382.6,419.1 382.1,420.4 381.5,418.0 381.0,419.0 380.4,417.7 379.9,421.4 379.3,420.2 378.8,420.7 378.2,421.7 377.7,420.7 377.1,420.4 376.6,420.5 376.0,421.4 375.5,419.1 374.9,419.1 374.4,418.5 373.8,419.8 373.3,420.1 372.7,421.1 372.2,423.7 371.6,421.5 371.1,420.4 370.5,421.4 370.0,419.5 369.4,418.0 368.9,417.3 368.3,416.5 367.8,418.5 367.2,421.0 366.7,420.0 366.1,419.5 365.6,421.3 365.0,422.2 364.5,422.6 363.9,422.0 363.4,421.7 362.8,421.4 362.3,420.3 361.7,419.7 361.2,417.8 360.6,417.7 360.1,419.8 359.5,420.0 359.0,421.1 358.4,423.1 357.9,425.3 357.3,423.2 356.8,421.6 356.2,420.8 355.7,419.6 355.1,419.5 354.6,419.9 354.0,420.8 353.5,422.8 352.9,419.7 352.4,420.3 351.8,418.5 351.3,420.3 350.7,421.0 350.2,417.3 349.6,419.0 349.1,419.9 348.5,418.7 348.0,420.0 347.4,420.9 346.9,421.6 346.3,421.8 345.8,419.2 345.2,419.4 344.7,420.0 344.1,420.3 343.6,420.1 343.0,420.5 342.5,421.0 341.9,421.1 341.4,420.1 340.8,419.4 340.3,419.4 339.7,419.9 339.2,420.9 338.6,419.8 338.1,420.4 337.5,419.8 337.0,418.1 336.4,418.2 335.9,418.6 335.3,418.3 334.8,418.5 334.2,419.7 333.7,419.1 333.1,419.2 332.6,420.3 332.0,420.1 331.5,418.9 330.9,422.6 330.4,418.8 329.8,419.0 329.3,419.0 328.7,420.8 328.2,422.2 327.6,419.2Z" fill="#000" stroke="#000" stroke-width="0.6" stroke-linejoin="round"/><text x="323.5" y="424.0" text-anchor="end" class="tl">7</text><path d="M330.0,480.5 330.6,481.2 331.1,479.4 331.7,478.3 332.2,480.6 332.8,478.6 333.3,480.7 333.9,480.2 334.4,479.5 335.0,480.1 335.5,478.7 336.1,479.1 336.6,478.5 337.2,479.5 337.7,479.1 338.3,479.1 338.8,479.2 339.4,479.2 339.9,478.4 340.5,479.7 341.0,479.9 341.6,479.4 342.1,480.1 342.7,479.2 343.2,478.7 343.8,478.5 344.3,478.8 344.9,479.9 345.4,479.5 346.0,478.5 346.5,479.8 347.1,478.5 347.6,479.0 348.2,479.6 348.7,479.2 349.3,478.7 349.8,478.7 350.4,479.1 350.9,479.0 351.5,478.5 352.0,479.6 352.6,477.4 353.1,474.6 353.7,478.6 354.2,478.4 354.8,478.0 355.3,478.7 355.9,479.8 356.4,479.8 357.0,479.3 357.5,480.2 358.1,477.9 358.6,480.0 359.2,478.1 359.7,477.8 360.3,476.7 360.8,477.6 361.4,477.9 361.9,479.4 362.5,479.0 363.0,480.0 363.6,479.4 364.1,479.0 364.7,478.6 365.2,477.5 365.8,475.6 366.3,476.6 366.9,476.8 367.4,476.5 368.0,478.1 368.5,478.2 369.1,476.4 369.6,481.1 370.2,481.7 370.7,480.0 371.3,480.4 371.8,479.1 372.4,479.1 372.9,478.5 373.5,477.9 374.0,478.7 374.6,477.8 375.1,478.8 375.7,479.7 376.2,479.9 376.8,480.8 377.3,480.2 377.9,480.0 378.4,479.7 379.0,478.7 379.5,478.6 380.1,478.3 380.6,479.4 381.2,478.9 381.7,479.4 382.3,478.0 382.8,477.9 383.4,479.4 383.9,479.3 384.5,478.4 385.0,478.4 385.6,476.1 386.1,478.4 386.7,478.9 387.2,478.2 387.8,479.7 388.3,480.1 388.9,480.6 389.4,480.0 390.0,478.3 390.5,479.2 391.1,478.4 391.6,477.4 392.2,477.8 392.7,478.2 393.3,478.9 393.8,477.5 394.4,475.5 394.9,479.3 395.5,479.6 396.0,478.2 396.6,477.7 397.1,478.9 397.7,478.8 398.2,477.2 398.8,480.7 399.3,478.6 399.9,478.8 400.4,477.1 401.0,478.1 401.5,478.8 402.1,476.8 402.6,478.0 403.2,478.1 403.7,478.7 404.3,478.9 404.8,478.0 405.4,473.8 405.9,477.7 406.5,478.0 407.0,478.1 407.6,479.2 408.1,479.0 408.7,478.3 409.2,479.9 409.8,480.2 410.3,480.3 410.9,482.0 411.4,480.7 412.0,479.2 412.5,479.0 413.1,479.6 413.6,479.7 414.2,479.3 414.7,480.4 415.3,478.8 415.8,478.3 416.4,479.0 416.9,478.6 417.5,477.3 418.0,477.9 418.6,478.9 419.1,478.7 419.7,476.1 420.2,476.8 420.8,477.1 421.3,478.3 421.9,476.3 422.4,478.5 423.0,478.6 423.5,479.1 424.1,478.2 424.6,477.2 425.2,479.4 425.7,480.5 426.3,480.0 426.8,479.8 427.4,479.5 427.9,478.7 428.5,477.9 429.0,477.6 429.6,477.5 430.1,476.7 430.7,478.1 431.2,479.2 431.8,478.1 432.3,477.8 432.9,478.0 433.4,478.2 434.0,479.1 434.5,479.8 435.1,478.4 435.6,477.5 436.2,477.5 436.7,478.0 437.3,479.4 437.8,477.0 438.4,476.7 438.9,477.1 439.5,478.5 440.0,478.9 440.6,479.7 441.1,480.2 441.7,478.9 442.2,477.7 442.8,477.5 443.3,478.5 443.9,478.0 444.4,478.7 445.0,477.4 445.5,479.7 446.1,479.7 446.6,476.9 447.2,478.8 447.7,479.8 448.3,480.2 448.8,477.5 449.4,478.0 449.9,477.9 450.5,478.7 451.0,477.4 451.6,478.5 452.1,478.0 452.7,477.2 453.2,477.9 453.8,478.1 454.3,477.9 454.9,478.1 455.4,478.1 456.0,478.4 456.5,478.8 457.1,480.3 457.6,479.2 458.2,479.8 458.7,481.7 459.3,478.8 459.8,480.5 460.4,478.3 460.9,480.7 461.5,479.2 462.0,479.0 462.6,479.3 463.1,478.0 463.7,478.3 464.2,477.7 464.8,474.2 465.3,477.0 465.9,478.0 466.4,477.6 467.0,478.3 467.5,479.8 468.1,477.1 468.6,478.5 469.2,478.5 469.7,475.5 470.3,477.6 470.8,477.8 471.4,479.3 471.9,477.9 472.5,476.4 473.0,476.3 473.6,478.5 474.1,478.8 474.7,478.7 475.2,478.3 475.8,477.3 476.3,479.0 476.9,479.5 477.4,479.9 478.0,478.9 478.5,481.1 479.1,480.1 479.6,480.0 480.2,479.8 480.7,481.1 481.3,479.7 481.8,479.5 482.4,480.0 482.9,480.7 483.5,478.3 484.0,478.2 484.6,479.4 485.1,478.9 485.7,480.5 486.2,479.7 486.8,478.2 487.3,477.7 487.9,477.4 488.4,477.5 489.0,478.2 489.5,477.4 490.1,477.5 490.6,477.5 491.2,478.5 491.7,478.0 492.3,479.9 492.8,478.9 493.4,480.0 493.9,477.1 494.5,479.8 495.0,479.0 495.6,479.5 496.1,476.9 496.7,476.1 497.2,476.8 497.8,478.2 498.3,477.4 498.9,478.0 499.4,479.1 500.0,480.2 500.5,480.5 501.1,480.5 501.6,479.6 502.2,478.0 502.7,477.7 503.3,479.3 503.8,479.1 504.4,478.9 504.9,479.3 505.5,479.1 506.0,478.5 506.6,476.4 507.1,479.2 507.7,479.0 508.2,480.9 508.8,479.7 509.3,479.7 509.9,476.2 510.4,479.2 511.0,477.0 511.5,479.6 512.1,480.1 512.6,480.2 513.2,478.2 513.7,477.7 514.3,478.8 514.8,479.0 515.4,477.9 515.9,479.9 516.5,477.4 517.0,478.1 517.6,478.1 518.1,478.8 518.7,477.6 519.2,477.5 519.8,477.3 520.3,479.0 520.9,477.3 521.4,478.3 522.0,479.1 522.5,477.9 523.1,479.2 523.6,477.7 524.2,477.7 524.7,476.0 525.3,476.9 525.8,478.9 526.4,476.5 526.9,478.4 527.5,477.7 528.0,477.7 528.6,478.0 529.1,476.8 529.7,478.5 530.2,479.6 530.8,477.5 531.3,478.2 531.9,478.2 532.4,478.4 533.0,477.3 533.5,477.1 534.1,478.0 534.6,477.1 535.2,476.6 535.7,477.0 536.3,475.4 536.8,477.9 537.4,479.1 537.9,479.3 538.5,479.3 539.0,478.3 539.6,480.4 540.1,480.2 540.7,475.8 541.2,477.7 541.8,479.7 542.3,480.0 542.9,477.9 543.4,477.8 544.0,477.9 544.5,478.3 545.1,478.0 545.6,478.8 546.2,477.7 546.7,476.9 547.3,479.2 547.8,479.8 548.4,479.8 548.9,479.4 549.5,479.1 550.0,479.2 550.6,477.5 551.1,477.5 551.7,478.9 552.2,479.4 552.8,478.8 553.3,478.1 553.9,480.1 554.4,479.8 555.0,479.1 555.5,478.8 556.1,479.3 556.6,478.5 557.1,478.6 557.7,478.3 558.2,476.8 558.8,477.3 559.3,480.2 559.9,478.9 560.4,478.9 561.0,477.9 561.5,479.9 562.1,479.3 562.6,479.2 563.2,478.9 563.7,477.1 564.3,477.7 564.8,478.9 565.4,477.0 565.9,478.8 566.5,477.1 567.0,477.1 567.6,477.4 568.1,478.5 568.7,477.2 569.2,479.1 569.8,477.3 570.3,478.8 570.9,477.4 571.4,477.9 572.0,478.1 572.5,478.9 573.1,478.4 573.6,478.9 574.2,479.3 574.7,478.5 575.3,479.4 575.8,478.0 576.4,478.7 576.9,478.0 577.5,477.4 578.0,478.1 578.6,478.7 579.1,477.0 579.7,478.0 580.2,477.7 580.8,478.0 581.3,478.8 581.9,476.9 582.4,478.0 583.0,478.2 583.5,476.7 584.1,476.7 584.6,476.1 585.2,477.4 585.7,478.9 586.3,477.6 586.8,478.2 587.4,477.8 587.9,479.2 588.5,478.9 589.0,477.1 589.6,478.6 590.1,476.8 590.7,478.0 591.2,478.9 591.8,480.5 592.3,481.1 592.9,476.5 593.4,478.3 594.0,476.5 594.5,475.5 595.1,476.4 595.6,471.5 596.2,477.8 596.7,478.3 597.3,478.8 597.8,479.6 598.4,480.5 598.9,480.3 599.5,479.1 600.0,475.7 600.6,478.3 601.1,479.6 601.7,479.4 602.2,479.6 602.8,479.9 603.3,478.9 603.9,476.9 604.4,478.3 605.0,476.3 605.5,478.0 606.1,478.5 606.6,477.1 607.2,476.7 607.7,478.7 608.3,480.3 608.8,478.4 609.4,477.8 609.9,479.6 610.5,479.1 611.0,480.6 611.6,480.0 612.1,479.1 612.7,478.1 613.2,478.4 613.8,477.4 614.3,478.8 614.9,478.9 615.4,477.6 616.0,479.3 616.5,478.6 617.1,479.8 617.6,479.9 618.2,478.1 618.7,475.6 619.3,477.9 619.8,476.2 620.4,479.6 620.9,478.5 621.5,480.3 622.0,478.4 622.6,479.3 623.1,478.0 623.7,476.3 624.2,479.6 624.8,478.1 625.3,479.3 625.9,479.0 626.4,477.0 627.0,475.9 627.5,477.4 628.1,477.3 628.6,478.5 629.2,479.2 629.7,478.6 630.3,478.2 630.8,478.1 631.4,479.0 631.9,479.0 632.5,479.0 633.0,476.4 633.6,476.7 634.1,478.9 634.7,477.4 635.2,479.2 635.8,478.9 636.3,479.1 636.9,479.7 637.4,479.4 638.0,478.9 638.5,476.3 639.1,480.2 639.6,480.0 640.2,479.6 640.7,479.4 641.3,481.1 641.8,478.0 642.4,476.2 642.9,479.3 643.5,476.3 644.0,477.7 644.6,478.3 645.1,477.0 645.7,479.2 646.2,478.5 646.8,479.8 647.3,478.8 647.9,476.2 648.4,479.2 649.0,480.0 649.5,479.2 650.1,479.3 650.6,476.7 651.2,477.2 651.7,478.5 652.3,479.3 652.8,479.2 653.4,479.4 653.9,479.6 654.5,479.4 655.0,479.2 655.6,477.0 656.1,478.7 656.7,479.0 657.2,480.0 657.8,479.8 658.3,479.0 658.9,480.0 659.4,480.5 660.0,480.5 660.5,476.7 661.1,476.6 661.6,479.4 662.2,477.0 662.7,479.0 663.3,478.7 663.8,476.5 664.4,477.5 664.9,478.9 665.5,479.8 666.0,478.1 666.6,479.6 667.1,479.0 667.7,478.5 668.2,478.8 668.8,479.3 669.3,480.7 669.9,479.5 670.4,478.8 671.0,478.4 671.5,480.0 672.1,480.0 672.6,479.4 673.2,480.0 673.7,478.6 674.3,479.3 674.8,478.1 675.4,478.3 675.9,479.2 676.5,478.4 677.0,478.6 677.6,479.0 678.1,478.2 678.7,475.3 679.2,478.2 679.8,477.3 680.3,478.1 680.9,478.8 681.4,478.6 682.0,478.4 682.5,476.4 683.1,476.5 683.6,478.9 684.2,479.9 684.7,478.3 685.3,476.8 685.8,477.2 686.4,478.4 686.9,479.1 687.5,479.2 688.0,478.7 688.6,478.4 689.1,479.2 689.7,479.1 690.2,478.6 690.8,479.1 691.3,478.7 691.9,479.9 692.4,480.0 693.0,480.6 693.0,483.4 692.4,482.6 691.9,485.1 691.3,481.0 690.8,483.0 690.2,481.5 689.7,482.1 689.1,482.3 688.6,480.7 688.0,481.6 687.5,481.7 686.9,482.6 686.4,481.9 685.8,480.1 685.3,481.3 684.7,480.9 684.2,482.6 683.6,483.2 683.1,482.0 682.5,481.4 682.0,481.6 681.4,481.1 680.9,481.8 680.3,482.8 679.8,479.9 679.2,482.7 678.7,482.0 678.1,481.7 677.6,481.7 677.0,482.5 676.5,481.8 675.9,482.5 675.4,480.9 674.8,481.8 674.3,483.1 673.7,483.8 673.2,483.3 672.6,482.5 672.1,482.6 671.5,482.9 671.0,481.6 670.4,481.6 669.9,482.6 669.3,483.8 668.8,482.4 668.2,481.9 667.7,481.3 667.1,481.5 666.6,482.0 666.0,482.1 665.5,482.8 664.9,481.9 664.4,480.7 663.8,480.2 663.3,481.8 662.7,484.0 662.2,482.1 661.6,482.6 661.1,481.6 660.5,480.7 660.0,483.3 659.4,483.1 658.9,483.2 658.3,482.4 657.8,482.6 657.2,483.0 656.7,481.5 656.1,482.9 655.6,480.9 655.0,482.2 654.5,483.4 653.9,482.1 653.4,483.0 652.8,482.4 652.3,483.0 651.7,481.0 651.2,479.9 650.6,481.6 650.1,482.1 649.5,482.1 649.0,484.2 648.4,482.1 647.9,482.0 647.3,481.4 646.8,482.6 646.2,483.0 645.7,482.4 645.1,482.3 644.6,481.0 644.0,481.9 643.5,482.3 642.9,482.8 642.4,481.7 641.8,483.4 641.3,483.7 640.7,483.2 640.2,483.2 639.6,483.2 639.1,482.9 638.5,482.0 638.0,482.1 637.4,482.3 636.9,482.9 636.3,481.6 635.8,482.3 635.2,482.2 634.7,479.8 634.1,481.6 633.6,479.6 633.0,480.2 632.5,481.9 631.9,484.4 631.4,481.8 630.8,481.1 630.3,480.9 629.7,481.7 629.2,481.9 628.6,481.0 628.1,480.9 627.5,481.5 627.0,480.0 626.4,480.1 625.9,482.4 625.3,484.0 624.8,483.5 624.2,483.3 623.7,481.3 623.1,483.4 622.6,481.9 622.0,481.5 621.5,483.2 620.9,482.1 620.4,482.0 619.8,481.8 619.3,484.6 618.7,480.3 618.2,481.3 617.6,483.1 617.1,482.7 616.5,482.8 616.0,481.6 615.4,482.6 614.9,482.3 614.3,481.2 613.8,481.3 613.2,482.3 612.7,482.0 612.1,482.0 611.6,482.5 611.0,483.3 610.5,483.1 609.9,485.3 609.4,483.4 608.8,483.8 608.3,483.7 607.7,482.2 607.2,480.4 606.6,481.7 606.1,481.3 605.5,481.6 605.0,481.4 604.4,481.7 603.9,481.1 603.3,482.2 602.8,482.8 602.2,482.6 601.7,482.4 601.1,482.2 600.6,481.7 600.0,481.6 599.5,482.3 598.9,483.2 598.4,484.2 597.8,485.1 597.3,482.8 596.7,482.2 596.2,480.6 595.6,477.9 595.1,479.6 594.5,478.0 594.0,479.6 593.4,482.1 592.9,481.9 592.3,485.4 591.8,483.2 591.2,482.9 590.7,480.5 590.1,479.7 589.6,482.3 589.0,481.7 588.5,482.6 587.9,482.8 587.4,481.7 586.8,481.4 586.3,480.8 585.7,481.7 585.2,483.1 584.6,479.8 584.1,479.1 583.5,479.6 583.0,482.1 582.4,480.9 581.9,481.5 581.3,482.1 580.8,481.4 580.2,481.8 579.7,481.5 579.1,480.5 578.6,481.3 578.0,481.5 577.5,480.4 576.9,481.5 576.4,481.7 575.8,481.7 575.3,483.4 574.7,483.7 574.2,482.8 573.6,483.3 573.1,481.3 572.5,481.7 572.0,484.5 571.4,482.3 570.9,481.6 570.3,484.5 569.8,480.9 569.2,482.2 568.7,481.8 568.1,481.4 567.6,480.5 567.0,480.4 566.5,480.6 565.9,481.6 565.4,481.5 564.8,482.5 564.3,481.8 563.7,481.9 563.2,482.4 562.6,481.6 562.1,482.5 561.5,482.2 561.0,481.7 560.4,481.6 559.9,484.2 559.3,483.3 558.8,481.1 558.2,481.8 557.7,481.9 557.1,482.0 556.6,481.5 556.1,483.7 555.5,482.1 555.0,482.2 554.4,483.9 553.9,483.0 553.3,480.8 552.8,481.6 552.2,482.3 551.7,482.6 551.1,481.6 550.6,481.9 550.0,481.7 549.5,481.9 548.9,482.4 548.4,483.1 547.8,485.0 547.3,482.1 546.7,480.7 546.2,480.3 545.6,483.0 545.1,480.7 544.5,481.6 544.0,481.7 543.4,480.8 542.9,481.0 542.3,483.3 541.8,485.8 541.2,481.0 540.7,481.6 540.1,483.2 539.6,482.8 539.0,482.0 538.5,483.0 537.9,481.9 537.4,481.5 536.8,481.6 536.3,479.5 535.7,480.4 535.2,483.0 534.6,479.7 534.1,481.3 533.5,481.4 533.0,481.7 532.4,483.2 531.9,481.3 531.3,480.7 530.8,480.9 530.2,483.5 529.7,482.2 529.1,481.0 528.6,481.1 528.0,481.8 527.5,480.6 526.9,481.2 526.4,481.2 525.8,481.9 525.3,480.6 524.7,480.8 524.2,480.6 523.6,480.5 523.1,481.8 522.5,481.9 522.0,482.0 521.4,481.0 520.9,480.1 520.3,481.8 519.8,481.6 519.2,482.2 518.7,480.2 518.1,481.8 517.6,483.5 517.0,481.8 516.5,480.9 515.9,483.0 515.4,482.8 514.8,482.6 514.3,482.0 513.7,480.4 513.2,481.2 512.6,483.1 512.1,483.6 511.5,482.8 511.0,481.2 510.4,483.3 509.9,482.1 509.3,483.4 508.8,482.3 508.2,484.8 507.7,483.9 507.1,481.9 506.6,481.6 506.0,481.4 505.5,483.4 504.9,482.3 504.4,481.2 503.8,481.6 503.3,485.6 502.7,481.4 502.2,480.3 501.6,482.8 501.1,483.8 500.5,483.4 500.0,482.9 499.4,482.5 498.9,481.8 498.3,480.5 497.8,481.1 497.2,480.5 496.7,479.1 496.1,481.4 495.6,483.0 495.0,481.9 494.5,482.2 493.9,481.6 493.4,483.7 492.8,482.4 492.3,482.4 491.7,480.6 491.2,483.0 490.6,480.5 490.1,480.4 489.5,480.9 489.0,481.8 488.4,480.7 487.9,480.9 487.3,480.9 486.8,480.6 486.2,482.3 485.7,483.7 485.1,482.0 484.6,482.9 484.0,482.0 483.5,482.4 482.9,483.4 482.4,483.0 481.8,482.9 481.3,482.7 480.7,484.4 480.2,483.1 479.6,483.1 479.1,483.8 478.5,483.6 478.0,482.6 477.4,483.0 476.9,482.0 476.3,482.3 475.8,481.3 475.2,481.3 474.7,481.7 474.1,481.8 473.6,481.6 473.0,480.5 472.5,479.2 471.9,481.0 471.4,482.5 470.8,481.4 470.3,480.7 469.7,481.0 469.2,482.0 468.6,481.3 468.1,480.5 467.5,482.1 467.0,481.9 466.4,481.5 465.9,482.9 465.3,479.5 464.8,479.3 464.2,481.1 463.7,481.0 463.1,481.2 462.6,483.7 462.0,484.2 461.5,482.7 460.9,483.5 460.4,483.7 459.8,483.0 459.3,483.4 458.7,484.4 458.2,482.9 457.6,482.1 457.1,483.0 456.5,481.7 456.0,481.0 455.4,480.8 454.9,481.5 454.3,481.3 453.8,482.8 453.2,480.7 452.7,480.8 452.1,481.1 451.6,481.1 451.0,481.4 450.5,482.8 449.9,481.0 449.4,482.0 448.8,481.3 448.3,482.9 447.7,482.5 447.2,482.4 446.6,482.4 446.1,483.2 445.5,482.0 445.0,480.7 444.4,481.4 443.9,481.7 443.3,481.2 442.8,480.8 442.2,480.4 441.7,481.9 441.1,482.6 440.6,482.4 440.0,481.4 439.5,482.4 438.9,481.0 438.4,481.0 437.8,482.1 437.3,482.2 436.7,482.9 436.2,480.9 435.6,481.5 435.1,481.4 434.5,483.0 434.0,482.8 433.4,481.1 432.9,481.8 432.3,481.8 431.8,484.1 431.2,482.1 430.7,481.3 430.1,480.1 429.6,481.7 429.0,481.3 428.5,480.7 427.9,481.6 427.4,484.1 426.8,482.2 426.3,483.0 425.7,483.3 425.2,482.6 424.6,482.5 424.1,481.2 423.5,482.0 423.0,481.5 422.4,481.9 421.9,482.2 421.3,480.7 420.8,480.5 420.2,479.2 419.7,481.7 419.1,483.9 418.6,483.4 418.0,480.8 417.5,480.6 416.9,481.2 416.4,482.8 415.8,480.9 415.3,481.8 414.7,483.3 414.2,482.0 413.6,483.1 413.1,482.9 412.5,483.4 412.0,482.6 411.4,485.4 410.9,484.3 410.3,483.1 409.8,484.2 409.2,482.6 408.7,481.5 408.1,482.3 407.6,481.6 407.0,482.4 406.5,481.8 405.9,481.4 405.4,480.1 404.8,481.9 404.3,481.8 403.7,482.4 403.2,481.7 402.6,481.0 402.1,481.3 401.5,482.3 401.0,481.6 400.4,481.1 399.9,484.3 399.3,482.6 398.8,483.2 398.2,481.9 397.7,481.9 397.1,481.5 396.6,482.7 396.0,480.9 395.5,482.2 394.9,482.0 394.4,481.5 393.8,482.9 393.3,481.4 392.7,481.2 392.2,480.5 391.6,481.8 391.1,481.2 390.5,482.7 390.0,481.0 389.4,482.2 388.9,483.5 388.3,483.4 387.8,483.1 387.2,482.1 386.7,481.7 386.1,480.8 385.6,481.2 385.0,481.3 384.5,482.0 383.9,481.7 383.4,482.2 382.8,483.4 382.3,482.3 381.7,482.5 381.2,483.3 380.6,482.2 380.1,480.8 379.5,481.0 379.0,481.9 378.4,482.7 377.9,482.9 377.3,482.7 376.8,483.5 376.2,483.3 375.7,483.0 375.1,481.4 374.6,483.7 374.0,482.8 373.5,481.3 372.9,481.7 372.4,482.1 371.8,482.6 371.3,483.9 370.7,482.6 370.2,487.1 369.6,483.6 369.1,482.5 368.5,481.2 368.0,481.4 367.4,481.2 366.9,481.4 366.3,479.8 365.8,479.2 365.2,481.4 364.7,482.1 364.1,482.5 363.6,483.9 363.0,482.6 362.5,481.9 361.9,482.3 361.4,480.2 360.8,481.1 360.3,480.0 359.7,481.0 359.2,481.0 358.6,482.9 358.1,481.4 357.5,484.1 357.0,482.9 356.4,482.1 355.9,483.0 355.3,483.9 354.8,480.7 354.2,481.3 353.7,481.7 353.1,480.5 352.6,481.0 352.0,484.1 351.5,481.8 350.9,481.6 350.4,481.8 349.8,481.9 349.3,481.9 348.7,482.8 348.2,482.8 347.6,482.1 347.1,482.5 346.5,482.6 346.0,482.1 345.4,482.4 344.9,483.0 344.3,481.7 343.8,482.2 343.2,481.7 342.7,482.3 342.1,483.1 341.6,482.5 341.0,482.6 340.5,485.3 339.9,482.4 339.4,484.5 338.8,483.0 338.3,482.5 337.7,482.3 337.2,482.1 336.6,483.5 336.1,481.9 335.5,481.1 335.0,482.6 334.4,483.2 333.9,482.7 333.3,483.4 332.8,482.0 332.2,483.1 331.7,482.6 331.1,482.1 330.6,483.6 330.0,483.7Z" fill="#000" stroke="#000" stroke-width="0.6" stroke-linejoin="round"/><text x="323.5" y="485.2" text-anchor="end" class="tl">8</text><rect x="346.7" y="270.7" width="51.3" height="232.2" fill="none" stroke="#2a2a2a" stroke-width="1.2" stroke-dasharray="2.1,2.8"/><rect x="574.2" y="52.6" width="49.7" height="450.3" fill="none" stroke="#2a2a2a" stroke-width="1.2" stroke-dasharray="2.1,2.8"/><path d="M691.5,488.6 L691.5,537.2 L636.5,537.2" fill="none" stroke="#000" stroke-width="3.8" stroke-linejoin="miter"/><text x="629.3" y="508.8" class="sb">80 µV</text><text x="624.3" y="529.6" class="sb">300 ms</text><text x="316.3" y="40.3" class="lbl2" textLength="20" lengthAdjust="spacingAndGlyphs">(ii)</text>
</svg>
</body></html>
